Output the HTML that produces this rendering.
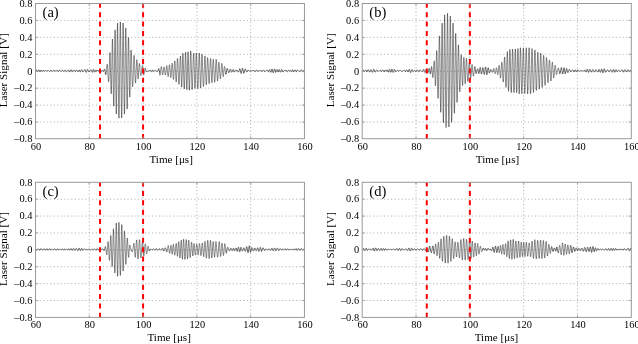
<!DOCTYPE html><html><head><meta charset="utf-8"><style>
html,body{margin:0;padding:0;background:#fff;}
svg{display:block;font-family:"Liberation Serif",serif;will-change:transform;}
.gr{stroke:#999;stroke-width:0.75;stroke-dasharray:1.1 2.411;fill:none;}
.gh{stroke-dashoffset:-0.71;}
.gv{stroke-dashoffset:-0.61;}
.wf{fill:none;stroke:#000;stroke-width:0.45;stroke-linejoin:round;}
.wl{stroke-width:0.6;}
.rd{stroke:#ff0000;stroke-width:2;stroke-dasharray:5 4.37;stroke-dashoffset:0.7;}
.ax{fill:none;stroke:#999;stroke-width:1;}
.tk{stroke:#999;stroke-width:0.8;}
.tl{font-size:10.4px;fill:#000;}
.al{font-size:11.1px;fill:#000;}
.pl{font-size:14.5px;fill:#000;}
</style></head><body><svg width="638" height="344" viewBox="0 0 638 344">
<rect width="638" height="344" fill="#fff"/>
<line x1="89.29" y1="3.5" x2="89.29" y2="139.0" class="gr gv"/>
<line x1="143.08" y1="3.5" x2="143.08" y2="139.0" class="gr gv"/>
<line x1="196.87" y1="3.5" x2="196.87" y2="139.0" class="gr gv"/>
<line x1="250.66" y1="3.5" x2="250.66" y2="139.0" class="gr gv"/>
<line x1="35.5" y1="122.06" x2="304.45" y2="122.06" class="gr gh"/>
<line x1="35.5" y1="105.12" x2="304.45" y2="105.12" class="gr gh"/>
<line x1="35.5" y1="88.19" x2="304.45" y2="88.19" class="gr gh"/>
<line x1="35.5" y1="71.25" x2="304.45" y2="71.25" class="gr gh"/>
<line x1="35.5" y1="54.31" x2="304.45" y2="54.31" class="gr gh"/>
<line x1="35.5" y1="37.37" x2="304.45" y2="37.37" class="gr gh"/>
<line x1="35.5" y1="20.44" x2="304.45" y2="20.44" class="gr gh"/>
<polyline class="wf wl" points="35.50,70.88 35.61,70.75 35.72,70.60 35.82,70.46 35.93,70.34 36.04,70.25 36.15,70.18 36.25,70.14 36.36,70.14 36.47,70.19 36.58,70.28 36.68,70.43 36.79,70.62 36.90,70.85 37.01,71.09 37.11,71.31 37.22,71.49 37.33,71.62 37.44,71.70 37.54,71.74 37.65,71.74 37.76,71.68 37.87,71.55 37.97,71.34 38.08,71.07 38.19,70.76 38.30,70.45 38.40,70.20 38.51,70.01 38.62,69.89 38.73,69.83 38.83,69.83 38.94,69.87 39.05,69.99 39.16,70.19 39.27,70.46 39.37,70.80 39.48,71.13 39.59,71.41 39.70,71.61 39.80,71.73 39.91,71.78 40.02,71.77 40.13,71.70 40.23,71.57 40.34,71.36 40.45,71.08 40.56,70.77 40.66,70.48 40.77,70.25 40.88,70.09 40.99,70.01 41.09,69.99 41.20,70.04 41.31,70.15 41.42,70.31 41.52,70.52 41.63,70.77 41.74,71.01 41.85,71.22 41.95,71.38 42.06,71.46 42.17,71.48 42.28,71.45 42.39,71.38 42.49,71.25 42.60,71.08 42.71,70.90 42.82,70.72 42.92,70.56 43.03,70.45 43.14,70.39 43.25,70.38 43.35,70.42 43.46,70.50 43.57,70.61 43.68,70.73 43.78,70.86 43.89,70.98 44.00,71.07 44.11,71.11 44.21,71.13 44.32,71.10 44.43,71.04 44.54,70.95 44.64,70.85 44.75,70.75 44.86,70.66 44.97,70.58 45.07,70.52 45.18,70.51 45.29,70.52 45.40,70.57 45.50,70.64 45.61,70.73 45.72,70.84 45.83,70.94 45.94,71.04 46.04,71.11 46.15,71.16 46.26,71.18 46.37,71.18 46.47,71.15 46.58,71.10 46.69,71.03 46.80,70.96 46.90,70.88 47.01,70.81 47.12,70.74 47.23,70.69 47.33,70.64 47.44,70.61 47.55,70.60 47.66,70.59 47.76,70.58 47.87,70.58 47.98,70.59 48.09,70.59 48.19,70.60 48.30,70.62 48.41,70.65 48.52,70.68 48.62,70.72 48.73,70.78 48.84,70.86 48.95,70.93 49.06,71.02 49.16,71.10 49.27,71.18 49.38,71.26 49.49,71.31 49.59,71.34 49.70,71.34 49.81,71.30 49.92,71.22 50.02,71.11 50.13,70.97 50.24,70.81 50.35,70.64 50.45,70.48 50.56,70.34 50.67,70.24 50.78,70.16 50.88,70.13 50.99,70.15 51.10,70.21 51.21,70.31 51.31,70.47 51.42,70.66 51.53,70.85 51.64,71.05 51.74,71.21 51.85,71.34 51.96,71.43 52.07,71.48 52.17,71.48 52.28,71.45 52.39,71.36 52.50,71.24 52.61,71.09 52.71,70.93 52.82,70.78 52.93,70.64 53.04,70.55 53.14,70.47 53.25,70.44 53.36,70.44 53.47,70.48 53.57,70.54 53.68,70.61 53.79,70.69 53.90,70.77 54.00,70.82 54.11,70.85 54.22,70.85 54.33,70.83 54.43,70.79 54.54,70.75 54.65,70.70 54.76,70.66 54.86,70.64 54.97,70.64 55.08,70.68 55.19,70.74 55.29,70.84 55.40,70.94 55.51,71.06 55.62,71.18 55.73,71.28 55.83,71.34 55.94,71.37 56.05,71.36 56.16,71.32 56.26,71.23 56.37,71.11 56.48,70.95 56.59,70.77 56.69,70.58 56.80,70.41 56.91,70.28 57.02,70.20 57.12,70.16 57.23,70.16 57.34,70.21 57.45,70.30 57.55,70.42 57.66,70.58 57.77,70.77 57.88,70.96 57.98,71.15 58.09,71.30 58.20,71.40 58.31,71.45 58.41,71.47 58.52,71.44 58.63,71.37 58.74,71.27 58.84,71.13 58.95,70.97 59.06,70.80 59.17,70.64 59.28,70.49 59.38,70.38 59.49,70.31 59.60,70.27 59.71,70.27 59.81,70.30 59.92,70.36 60.03,70.45 60.14,70.58 60.24,70.72 60.35,70.87 60.46,71.01 60.57,71.14 60.67,71.25 60.78,71.33 60.89,71.37 61.00,71.39 61.10,71.37 61.21,71.32 61.32,71.24 61.43,71.13 61.53,71.00 61.64,70.86 61.75,70.71 61.86,70.56 61.96,70.44 62.07,70.34 62.18,70.27 62.29,70.23 62.39,70.22 62.50,70.24 62.61,70.29 62.72,70.38 62.83,70.50 62.93,70.64 63.04,70.80 63.15,70.97 63.26,71.12 63.36,71.26 63.47,71.37 63.58,71.43 63.69,71.47 63.79,71.48 63.90,71.46 64.01,71.41 64.12,71.31 64.22,71.17 64.33,70.99 64.44,70.80 64.55,70.60 64.65,70.42 64.76,70.27 64.87,70.15 64.98,70.07 65.08,70.03 65.19,70.04 65.30,70.09 65.41,70.17 65.51,70.30 65.62,70.47 65.73,70.66 65.84,70.86 65.95,71.06 66.05,71.24 66.16,71.38 66.27,71.50 66.38,71.58 66.48,71.62 66.59,71.63 66.70,71.60 66.81,71.54 66.91,71.46 67.02,71.36 67.13,71.25 67.24,71.11 67.34,70.97 67.45,70.81 67.56,70.66 67.67,70.49 67.77,70.34 67.88,70.20 67.99,70.07 68.10,69.97 68.20,69.91 68.31,69.87 68.42,69.88 68.53,69.93 68.63,70.01 68.74,70.14 68.85,70.31 68.96,70.53 69.06,70.78 69.17,71.07 69.28,71.35 69.39,71.60 69.50,71.79 69.60,71.92 69.71,71.98 69.82,71.98 69.93,71.93 70.03,71.84 70.14,71.69 70.25,71.50 70.36,71.23 70.46,70.91 70.57,70.56 70.68,70.24 70.79,69.99 70.89,69.81 71.00,69.72 71.11,69.70 71.22,69.72 71.32,69.80 71.43,69.91 71.54,70.08 71.65,70.30 71.75,70.56 71.86,70.86 71.97,71.16 72.08,71.42 72.18,71.61 72.29,71.73 72.40,71.79 72.51,71.79 72.62,71.75 72.72,71.68 72.83,71.56 72.94,71.41 73.05,71.22 73.15,71.00 73.26,70.78 73.37,70.55 73.48,70.36 73.58,70.20 73.69,70.10 73.80,70.05 73.91,70.04 74.01,70.06 74.12,70.12 74.23,70.21 74.34,70.33 74.44,70.47 74.55,70.64 74.66,70.82 74.77,71.00 74.87,71.18 74.98,71.33 75.09,71.45 75.20,71.52 75.30,71.55 75.41,71.54 75.52,71.50 75.63,71.42 75.73,71.31 75.84,71.16 75.95,71.00 76.06,70.81 76.17,70.60 76.27,70.41 76.38,70.23 76.49,70.10 76.60,70.03 76.70,70.02 76.81,70.05 76.92,70.12 77.03,70.24 77.13,70.41 77.24,70.62 77.35,70.86 77.46,71.10 77.56,71.32 77.67,71.50 77.78,71.61 77.89,71.67 77.99,71.66 78.10,71.60 78.21,71.47 78.32,71.28 78.42,71.06 78.53,70.79 78.64,70.54 78.75,70.30 78.85,70.12 78.96,70.00 79.07,69.95 79.18,69.97 79.29,70.07 79.39,70.24 79.50,70.48 79.61,70.77 79.72,71.07 79.82,71.35 79.93,71.57 80.04,71.74 80.15,71.84 80.25,71.87 80.36,71.83 80.47,71.71 80.58,71.50 80.68,71.23 80.79,70.91 80.90,70.59 81.01,70.30 81.11,70.07 81.22,69.89 81.33,69.77 81.44,69.70 81.54,69.70 81.65,69.75 81.76,69.87 81.87,70.05 81.97,70.30 82.08,70.58 82.19,70.86 82.30,71.12 82.40,71.34 82.51,71.51 82.62,71.64 82.73,71.74 82.84,71.79 82.94,71.82 83.05,71.80 83.16,71.76 83.27,71.68 83.37,71.60 83.48,71.48 83.59,71.35 83.70,71.20 83.80,71.03 83.91,70.84 84.02,70.63 84.13,70.42 84.23,70.20 84.34,69.99 84.45,69.81 84.56,69.68 84.66,69.58 84.77,69.52 84.88,69.52 84.99,69.57 85.09,69.69 85.20,69.86 85.31,70.12 85.42,70.47 85.52,70.88 85.63,71.31 85.74,71.69 85.85,71.98 85.96,72.17 86.06,72.28 86.17,72.33 86.28,72.32 86.39,72.25 86.49,72.14 86.60,71.95 86.71,71.68 86.82,71.29 86.92,70.84 87.03,70.37 87.14,69.98 87.25,69.71 87.35,69.54 87.46,69.46 87.57,69.43 87.68,69.46 87.78,69.53 87.89,69.65 88.00,69.83 88.11,70.06 88.21,70.36 88.32,70.71 88.43,71.07 88.54,71.37 88.64,71.63 88.75,71.82 88.86,71.94 88.97,72.00 89.07,72.01 89.18,71.98 89.29,71.91 89.40,71.81 89.51,71.68 89.61,71.54 89.72,71.36 89.83,71.17 89.94,70.96 90.04,70.76 90.15,70.54 90.26,70.32 90.37,70.12 90.47,69.95 90.58,69.82 90.69,69.72 90.80,69.68 90.90,69.66 91.01,69.69 91.12,69.75 91.23,69.86 91.33,70.02 91.44,70.24 91.55,70.55 91.66,70.96 91.76,71.40 91.87,71.80 91.98,72.10 92.09,72.26 92.19,72.31 92.30,72.30 92.41,72.23 92.52,72.12 92.62,71.95 92.73,71.70 92.84,71.35 92.95,70.87 93.06,70.33 93.16,69.86 93.27,69.55 93.38,69.39 93.49,69.34 93.59,69.37 93.70,69.45 93.81,69.58 93.92,69.77 94.02,70.03 94.13,70.41 94.24,70.87 94.35,71.36 94.45,71.74 94.56,71.99 94.67,72.11 94.78,72.14 94.88,72.10 94.99,72.00 95.10,71.85 95.21,71.63 95.31,71.35 95.42,71.01 95.53,70.67 95.64,70.36 95.74,70.12 95.85,69.98 95.96,69.91 96.07,69.92 96.18,69.99 96.28,70.12 96.39,70.29 96.50,70.51 96.61,70.74 96.71,70.95 96.82,71.11 96.93,71.23 97.04,71.26 97.14,71.23 97.25,71.15 97.36,71.01 97.47,70.83 97.57,70.65 97.68,70.50 97.79,70.37 97.90,70.29 98.00,70.25 98.11,70.29 98.22,70.41 98.33,70.60 98.43,70.83 98.54,71.08 98.65,71.29 98.76,71.45 98.86,71.57 98.97,71.66 99.08,71.71 99.19,71.74 99.29,71.71 99.40,71.60 99.51,71.35 99.62,71.00 99.73,70.62 99.83,70.32 99.94,70.12 100.05,70.00 100.16,69.93 100.26,69.88 100.37,69.86 100.48,69.86 100.59,69.93 100.69,70.10 100.80,70.39 100.91,70.78 101.02,71.15 101.12,71.41 101.23,71.58 101.34,71.66 101.45,71.68 101.55,71.64 101.66,71.58 101.77,71.49 101.88,71.35 101.98,71.16 102.09,70.92 102.20,70.70 102.31,70.54 102.41,70.46 102.52,70.48 102.63,70.55 102.74,70.67 102.85,70.79 102.95,70.93 103.06,71.08 103.17,71.20 103.28,71.32 103.38,71.39 103.49,71.35 103.60,71.26 103.71,71.08 103.81,70.86 103.92,70.58 104.03,70.28 104.14,69.94 104.24,69.56 104.35,69.25 104.46,69.04 104.57,68.98 104.67,69.07 104.78,69.37 104.89,69.87 105.00,70.49 105.10,71.19 105.21,72.00 105.32,72.82 105.43,73.62"/>
<polyline class="wf wh" points="105.32,72.82 105.43,73.62 105.53,74.28 105.64,74.73 105.75,74.95 105.86,74.90 105.96,74.60 106.07,74.03 106.18,73.20 106.29,72.13 106.40,70.93 106.50,69.59 106.61,68.31 106.72,67.05 106.83,65.94 106.93,65.06 107.04,64.49 107.15,64.21 107.26,64.26 107.36,64.74 107.47,65.70 107.58,67.11 107.69,68.89 107.79,70.77 107.90,72.90 108.01,75.08 108.12,77.05 108.22,78.81 108.33,80.15 108.44,81.16 108.55,81.74 108.65,81.67 108.76,80.92 108.87,79.46 108.98,77.30 109.08,74.36 109.19,70.94 109.30,67.34 109.41,63.60 109.52,60.21 109.62,57.29 109.73,54.96 109.84,53.24 109.95,52.59 110.05,53.30 110.16,55.37 110.27,58.88 110.38,63.12 110.48,68.10 110.59,74.01 110.70,79.66 110.81,84.68 110.91,88.67 111.02,91.78 111.13,93.57 111.24,93.79 111.34,92.30 111.45,89.52 111.56,84.84 111.67,79.25 111.77,72.47 111.88,65.26 111.99,57.65 112.10,50.78 112.20,44.95 112.31,40.91 112.42,39.05 112.53,40.05 112.63,42.91 112.74,47.69 112.85,53.94 112.96,61.73 113.07,70.37 113.17,78.99 113.28,87.06 113.39,94.11 113.50,100.29 113.60,104.38 113.71,106.12 113.82,105.92 113.93,103.58 114.03,99.13 114.14,92.34 114.25,84.75 114.36,76.09 114.46,65.56 114.57,56.19 114.68,47.41 114.79,39.56 114.89,33.98 115.00,30.52 115.11,29.83 115.22,32.57 115.32,37.75 115.43,45.47 115.54,55.35 115.65,66.90 115.75,78.23 115.86,89.54 115.97,99.17 116.08,106.83 116.18,112.10 116.29,113.98 116.40,112.25 116.51,107.29 116.62,99.19 116.72,88.85 116.83,78.04 116.94,66.43 117.05,53.96 117.15,43.08 117.26,33.73 117.37,26.85 117.48,23.13 117.58,23.16 117.69,26.26 117.80,31.83 117.91,39.74 118.01,48.83 118.12,59.86 118.23,70.71 118.34,82.67 118.44,92.94 118.55,102.07 118.66,109.99 118.77,115.39 118.87,118.05 118.98,118.20 119.09,115.67 119.20,110.65 119.30,103.21 119.41,93.89 119.52,83.11 119.63,71.72 119.74,60.24 119.84,49.44 119.95,39.16 120.06,31.45 120.17,25.26 120.27,21.98 120.38,22.03 120.49,25.20 120.60,31.55 120.70,40.13 120.81,50.53 120.92,63.18 121.03,74.84 121.13,86.36 121.24,96.13 121.35,104.19 121.46,111.27 121.56,115.96 121.67,117.96 121.78,117.14 121.89,114.06 121.99,108.28 122.10,100.06 122.21,90.03 122.32,79.84 122.42,69.07 122.53,58.24 122.64,48.00 122.75,39.28 122.85,31.81 122.96,26.02 123.07,23.24 123.18,22.90 123.29,25.98 123.39,31.86 123.50,40.54 123.61,50.59 123.72,61.98 123.82,73.46 123.93,84.52 124.04,95.05 124.15,103.67 124.25,109.91 124.36,113.51 124.47,114.13 124.58,111.94 124.68,107.01 124.79,99.45 124.90,91.31 125.01,81.33 125.11,70.29 125.22,59.65 125.33,49.44 125.44,40.44 125.54,33.58 125.65,29.53 125.76,27.86 125.87,28.90 125.97,32.58 126.08,38.46 126.19,46.55 126.30,55.59 126.41,64.88 126.51,75.22 126.62,84.19 126.73,92.73 126.84,99.77 126.94,105.18 127.05,108.36 127.16,109.10 127.27,107.67 127.37,104.10 127.48,98.77 127.59,91.51 127.70,83.29 127.80,74.13 127.91,64.52 128.02,56.69 128.13,49.72 128.23,43.85 128.34,39.77 128.45,37.71 128.56,37.57 128.66,39.94 128.77,44.34 128.88,50.15 128.99,56.72 129.09,64.97 129.20,73.03 129.31,80.53 129.42,86.82 129.52,92.01 129.63,95.51 129.74,97.10 129.85,97.06 129.96,95.03 130.06,91.47 130.17,86.77 130.28,81.24 130.39,74.52 130.49,68.22 130.60,62.72 130.71,57.54 130.82,53.59 130.92,51.03 131.03,50.00 131.14,50.38 131.25,51.79 131.35,54.09 131.46,57.01 131.57,60.52 131.68,64.57 131.78,68.50 131.89,72.65 132.00,76.52 132.11,80.12 132.21,83.01 132.32,85.12 132.43,86.43 132.54,86.93 132.64,86.69 132.75,85.85 132.86,84.34 132.97,82.17 133.08,79.67 133.18,76.60 133.29,73.02 133.40,69.31 133.51,65.63 133.61,62.46 133.72,59.72 133.83,57.63 133.94,56.18 134.04,55.43 134.15,55.64 134.26,56.85 134.37,58.64 134.47,61.24 134.58,64.25 134.69,67.44 134.80,70.81 134.90,74.13 135.01,77.04 135.12,79.38 135.23,81.44 135.33,82.56 135.44,83.12 135.55,82.91 135.66,82.03 135.76,80.46 135.87,78.45 135.98,75.99 136.09,73.33 136.19,70.27 136.30,67.64 136.41,65.03 136.52,62.84 136.63,61.27 136.73,60.05 136.84,59.59 136.95,59.87 137.06,61.01 137.16,62.74 137.27,64.95 137.38,67.54 137.49,70.15 137.59,72.76 137.70,75.17 137.81,76.93 137.92,78.15 138.02,78.84 138.13,78.91 138.24,78.35 138.35,77.56 138.45,76.38 138.56,74.65 138.67,72.65 138.78,70.46 138.88,68.51 138.99,66.63 139.10,65.06 139.21,64.05 139.31,63.43 139.42,63.46 139.53,64.07 139.64,65.02 139.75,66.22 139.85,67.55 139.96,68.87 140.07,70.21 140.18,71.52 140.28,72.65 140.39,73.69 140.50,74.42 140.61,74.91 140.71,75.25 140.82,75.55 140.93,75.62 141.04,75.41 141.14,75.03 141.25,74.38 141.36,73.58 141.47,72.64 141.57,71.49 141.68,70.32 141.79,69.26 141.90,68.12 142.00,67.19 142.11,66.37 142.22,65.82 142.33,65.46 142.43,65.40 142.54,65.76 142.65,66.36 142.76,67.14 142.86,68.15 142.97,69.30 143.08,70.48 143.19,71.61 143.30,72.60 143.40,73.50 143.51,74.18 143.62,74.62 143.73,74.83 143.83,74.80 143.94,74.55 144.05,74.14 144.16,73.60 144.26,72.92 144.37,72.13 144.48,71.34 144.59,70.50 144.69,69.77 144.80,69.15 144.91,68.64 145.02,68.29 145.12,68.08 145.23,68.03 145.34,68.10 145.45,68.33 145.55,68.69"/>
<polyline class="wf wl" points="145.45,68.33 145.55,68.69 145.66,69.19 145.77,69.70 145.88,70.25 145.98,70.71 146.09,71.08 146.20,71.35 146.31,71.53 146.41,71.62 146.52,71.64 146.63,71.62 146.74,71.59 146.85,71.56 146.95,71.51 147.06,71.44 147.17,71.41 147.28,71.39 147.38,71.40 147.49,71.35 147.60,71.29 147.71,71.23 147.81,71.17 147.92,71.11 148.03,71.08 148.14,71.05 148.24,71.05 148.35,71.06 148.46,71.07 148.57,71.09 148.67,71.10 148.78,71.10 148.89,71.07 149.00,71.02 149.10,70.94 149.21,70.83 149.32,70.70 149.43,70.55 149.53,70.40 149.64,70.24 149.75,70.11 149.86,70.01 149.97,69.94 150.07,69.94 150.18,70.00 150.29,70.11 150.40,70.29 150.50,70.52 150.61,70.76 150.72,71.00 150.83,71.22 150.93,71.40 151.04,71.57 151.15,71.68 151.26,71.75 151.36,71.75 151.47,71.67 151.58,71.53 151.69,71.33 151.79,71.07 151.90,70.83 152.01,70.61 152.12,70.43 152.22,70.28 152.33,70.16 152.44,70.08 152.55,70.06 152.65,70.09 152.76,70.20 152.87,70.38 152.98,70.59 153.08,70.79 153.19,70.99 153.30,71.15 153.41,71.28 153.52,71.38 153.62,71.45 153.73,71.49 153.84,71.49 153.95,71.43 154.05,71.32 154.16,71.16 154.27,71.00 154.38,70.84 154.48,70.70 154.59,70.57 154.70,70.48 154.81,70.40 154.91,70.34 155.02,70.29 155.13,70.29 155.24,70.30 155.34,70.34 155.45,70.40 155.56,70.47 155.67,70.54 155.77,70.61 155.88,70.68 155.99,70.76 156.10,70.82 156.20,70.90 156.31,70.98 156.42,71.07 156.53,71.16 156.64,71.26 156.74,71.36 156.85,71.45 156.96,71.54 157.07,71.60 157.17,71.63 157.28,71.63 157.39,71.58 157.50,71.48 157.60,71.33 157.71,71.12 157.82,70.88 157.93,70.62 158.03,70.36 158.14,70.12 158.25,69.76 158.36,69.39 158.46,69.04 158.57,68.76 158.68,68.60 158.79,68.58 158.89,68.76 159.00,69.15 159.11,69.77 159.22,70.53 159.32,71.43 159.43,72.38"/>
<polyline class="wf wh" points="159.32,71.43 159.43,72.38 159.54,73.32 159.65,74.19 159.75,74.91 159.86,75.23 159.97,75.27 160.08,75.05 160.19,74.58 160.29,73.84 160.40,72.94 160.51,71.85 160.62,70.86 160.72,69.77 160.83,68.80 160.94,67.95 161.05,67.27 161.15,66.81 161.26,66.62 161.37,66.69 161.48,66.98 161.58,67.53 161.69,68.27 161.80,69.13 161.91,70.19 162.01,71.23 162.12,72.27 162.23,73.15 162.34,73.90 162.44,74.46 162.55,74.78 162.66,74.86 162.77,74.70 162.87,74.30 162.98,73.70 163.09,72.90 163.20,71.98 163.31,70.98 163.41,69.96 163.52,68.98 163.63,68.21 163.74,67.59 163.84,67.19 163.95,67.00 164.06,67.02 164.17,67.27 164.27,67.74 164.38,68.36 164.49,69.15 164.60,70.06 164.70,71.02 164.81,72.00 164.92,72.94 165.03,73.78 165.13,74.47 165.24,74.95 165.35,75.16 165.46,75.10 165.56,74.80 165.67,74.24 165.78,73.45 165.89,72.40 165.99,71.34 166.10,70.19 166.21,69.03 166.32,67.89 166.42,66.95 166.53,66.25 166.64,65.79 166.75,65.59 166.86,65.68 166.96,66.14 167.07,66.92 167.18,67.88 167.29,69.07 167.39,70.41 167.50,71.72 167.61,73.02 167.72,74.25 167.82,75.32 167.93,76.13 168.04,76.60 168.15,76.74 168.25,76.48 168.36,75.88 168.47,74.98 168.58,73.74 168.68,72.27 168.79,70.80 168.90,69.30 169.01,67.96 169.11,66.72 169.22,65.69 169.33,65.01 169.44,64.69 169.54,64.76 169.65,65.20 169.76,66.03 169.87,67.18 169.97,68.43 170.08,69.95 170.19,71.38 170.30,73.01 170.41,74.49 170.51,75.76 170.62,76.81 170.73,77.43 170.84,77.62 170.94,77.36 171.05,76.62 171.16,75.57 171.27,74.19 171.37,72.56 171.48,70.59 171.59,68.82 171.70,67.10 171.80,65.53 171.91,64.33 172.02,63.58 172.13,63.25 172.23,63.45 172.34,64.17 172.45,65.33 172.56,66.90 172.66,68.64 172.77,70.70 172.88,72.64 172.99,74.57 173.09,76.40 173.20,77.82 173.31,78.86 173.42,79.40 173.53,79.40 173.63,78.81 173.74,77.79 173.85,76.28 173.96,74.18 174.06,72.14 174.17,69.86 174.28,67.45 174.39,65.42 174.49,63.59 174.60,62.15 174.71,61.15 174.82,60.82 174.92,61.12 175.03,62.02 175.14,63.50 175.25,65.39 175.35,67.59 175.46,70.13 175.57,72.65 175.68,75.23 175.78,77.60 175.89,79.60 176.00,81.10 176.11,81.89 176.21,81.95 176.32,81.36 176.43,79.96 176.54,78.03 176.64,75.66 176.75,72.78 176.86,69.93 176.97,66.91 177.08,64.24 177.18,61.80 177.29,60.03 177.40,58.88 177.51,58.52 177.61,58.94 177.72,59.94 177.83,61.52 177.94,63.49 178.04,65.80 178.15,68.52 178.26,71.47 178.37,74.58 178.47,77.32 178.58,80.00 178.69,82.02 178.80,83.51 178.90,84.27 179.01,84.37 179.12,83.71 179.23,82.42 179.33,80.38 179.44,77.93 179.55,74.97 179.66,71.84 179.76,68.64 179.87,65.49 179.98,62.47 180.09,60.07 180.20,58.13 180.30,56.68 180.41,56.03 180.52,56.17 180.63,57.33 180.73,59.58 180.84,62.90 180.95,66.81 181.06,71.11 181.16,75.36 181.27,79.40 181.38,82.62 181.49,85.10 181.59,86.70 181.70,87.08 181.81,86.17 181.92,83.99 182.02,80.95 182.13,77.29 182.24,73.19 182.35,68.42 182.45,63.83 182.56,59.53 182.67,56.21 182.78,53.97 182.88,53.16 182.99,53.66 183.10,55.22 183.21,57.67 183.31,60.99 183.42,64.88 183.53,69.20 183.64,73.91 183.75,78.12 183.85,81.81 183.96,84.97 184.07,87.32 184.18,88.68 184.28,88.98 184.39,88.18 184.50,86.17 184.61,83.14 184.71,79.55 184.82,75.11 184.93,70.28 185.04,65.72 185.14,61.59 185.25,57.81 185.36,54.91 185.47,52.95 185.57,52.15 185.68,52.68 185.79,54.60 185.90,57.86 186.00,61.97 186.11,66.90 186.22,71.68 186.33,76.60 186.43,80.94 186.54,85.07 186.65,87.84 186.76,89.43 186.87,89.70 186.97,88.52 187.08,85.98 187.19,82.08 187.30,77.33 187.40,72.08 187.51,66.65 187.62,61.99 187.73,57.47 187.83,54.08 187.94,52.08 188.05,51.65 188.16,52.33 188.26,54.11 188.37,57.23 188.48,61.16 188.59,65.97 188.69,70.89 188.80,75.62 188.91,79.96 189.02,83.89 189.12,87.26 189.23,89.35 189.34,90.34 189.45,90.21 189.55,88.75 189.66,85.88 189.77,82.04 189.88,77.46 189.98,72.95 190.09,68.04 190.20,63.28 190.31,58.90 190.42,55.40 190.52,52.65 190.63,51.10 190.74,50.93 190.85,51.87 190.95,53.81 191.06,56.67 191.17,60.33 191.28,64.24 191.38,68.89 191.49,73.34 191.60,77.58 191.71,81.58 191.81,84.77 191.92,87.40 192.03,89.14 192.14,89.72 192.24,89.28 192.35,87.93 192.46,85.50 192.57,82.29 192.67,78.90 192.78,74.73 192.89,70.67 193.00,66.76 193.10,62.89 193.21,59.56 193.32,56.60 193.43,54.67 193.54,53.50 193.64,53.14 193.75,53.65 193.86,55.30 193.97,57.77 194.07,61.04 194.18,64.75 194.29,69.04 194.40,73.29 194.50,77.93 194.61,82.01 194.72,84.99 194.83,87.22 194.93,88.42 195.04,88.50 195.15,87.50 195.26,85.39 195.36,82.43 195.47,78.77 195.58,74.58 195.69,69.93 195.79,65.58 195.90,61.45 196.01,57.93 196.12,55.20 196.22,53.54 196.33,52.95 196.44,53.35 196.55,54.68 196.65,56.85 196.76,59.69 196.87,63.17 196.98,67.43 197.09,71.63 197.19,75.32 197.30,79.33 197.41,82.69 197.52,85.30 197.62,87.40 197.73,88.49 197.84,88.66 197.95,87.90 198.05,86.15 198.16,83.70 198.27,80.42 198.38,76.62 198.48,72.86 198.59,68.73 198.70,64.70 198.81,61.07 198.91,58.16 199.02,55.61 199.13,53.90 199.24,53.02 199.34,53.15 199.45,54.44 199.56,56.74 199.67,60.25 199.77,63.97 199.88,68.40 199.99,72.71 200.10,76.80 200.20,80.81 200.31,84.08 200.42,86.50 200.53,87.76 200.64,88.09 200.74,87.36 200.85,85.67 200.96,82.87 201.07,79.20 201.17,75.25 201.28,71.04 201.39,66.84 201.50,62.96 201.60,59.55 201.71,56.86 201.82,55.01 201.93,54.19 202.03,54.37 202.14,55.39 202.25,57.15 202.36,59.62 202.46,62.73 202.57,66.47 202.68,69.84 202.79,73.28 202.89,76.79 203.00,79.98 203.11,82.66 203.22,84.87 203.32,86.06 203.43,86.59 203.54,86.35 203.65,85.35 203.76,83.56 203.86,81.34 203.97,78.32 204.08,75.18 204.19,71.88 204.29,68.64 204.40,65.39 204.51,62.44 204.62,59.75 204.72,57.88 204.83,56.52 204.94,55.91 205.05,56.18 205.15,57.41 205.26,59.37 205.37,62.14 205.48,65.34 205.58,69.20 205.69,72.79 205.80,76.24 205.91,79.40 206.01,81.89 206.12,83.71 206.23,84.74 206.34,84.85 206.44,84.09 206.55,82.49 206.66,80.20 206.77,77.24 206.87,73.87 206.98,70.39 207.09,66.99 207.20,63.69 207.31,61.19 207.41,59.11 207.52,57.92 207.63,57.58 207.74,57.92 207.84,58.86 207.95,60.43 208.06,62.35 208.17,64.94 208.27,67.66 208.38,70.83 208.49,73.68 208.60,76.47 208.70,78.80 208.81,80.86 208.92,82.40 209.03,83.35 209.13,83.61 209.24,83.09 209.35,81.89 209.46,80.17 209.56,77.97 209.67,75.42 209.78,72.73 209.89,69.77 209.99,66.98 210.10,64.34 210.21,62.13 210.32,60.33 210.43,59.04 210.53,58.47 210.64,58.60 210.75,59.46 210.86,61.04 210.96,63.22 211.07,65.94 211.18,68.94 211.29,71.91 211.39,74.91 211.50,77.61 211.61,79.73 211.72,81.44 211.82,82.52 211.93,82.80 212.04,82.31 212.15,81.06 212.25,79.16 212.36,76.70 212.47,74.02 212.58,71.00 212.68,68.23 212.79,65.61 212.90,63.15 213.01,61.32 213.11,59.92 213.22,59.33 213.33,59.46 213.44,60.23 213.54,61.51 213.65,63.29 213.76,65.52 213.87,67.99 213.98,70.77 214.08,73.50 214.19,75.99 214.30,78.29 214.41,80.07 214.51,81.41 214.62,82.14 214.73,82.28 214.84,81.87 214.94,80.91 215.05,79.40 215.16,77.41 215.27,75.34 215.37,72.87 215.48,70.19 215.59,67.62 215.70,65.29 215.80,63.22 215.91,61.34 216.02,60.17 216.13,59.46 216.23,59.35 216.34,59.96 216.45,61.29 216.56,63.04 216.66,65.42 216.77,68.28 216.88,70.86 216.99,73.51 217.10,76.00 217.20,78.05 217.31,79.66 217.42,80.61 217.53,80.95 217.63,80.67 217.74,79.81 217.85,78.38 217.96,76.48 218.06,74.35 218.17,72.15 218.28,69.87 218.39,67.67 218.49,65.68 218.60,64.00 218.71,62.86 218.82,62.27 218.92,62.23 219.03,62.59 219.14,63.35 219.25,64.53 219.35,65.99 219.46,67.69 219.57,69.48 219.68,71.37 219.78,73.25 219.89,75.06 220.00,76.47 220.11,77.69 220.21,78.50 220.32,78.89 220.43,78.88 220.54,78.45 220.65,77.62 220.75,76.55 220.86,75.15 220.97,73.56 221.08,71.79 221.18,70.03 221.29,68.27 221.40,66.74 221.51,65.41 221.61,64.32 221.72,63.64 221.83,63.34 221.94,63.48 222.04,64.08 222.15,65.03 222.26,66.35 222.37,67.87 222.47,69.46 222.58,71.21 222.69,72.86 222.80,74.28 222.90,75.39 223.01,76.20 223.12,76.63 223.23,76.70 223.33,76.40 223.44,75.75 223.55,74.82 223.66,73.71 223.76,72.42 223.87,71.12 223.98,69.76 224.09,68.57 224.20,67.63 224.30,66.94 224.41,66.53 224.52,66.41 224.63,66.54 224.73,66.87 224.84,67.43 224.95,68.18 225.06,69.04 225.16,70.00 225.27,71.02 225.38,71.91 225.49,72.75 225.59,73.40 225.70,73.88"/>
<polyline class="wf wl" points="225.59,73.40 225.70,73.88 225.81,74.22 225.92,74.32 226.02,74.24 226.13,73.97 226.24,73.52 226.35,72.93 226.45,72.24 226.56,71.47 226.67,70.74 226.78,70.06 226.88,69.48 226.99,69.00 227.10,68.62 227.21,68.42 227.32,68.30 227.42,68.36 227.53,68.55 227.64,68.83 227.75,69.19 227.85,69.64 227.96,70.10 228.07,70.58 228.18,71.06 228.28,71.52 228.39,71.95 228.50,72.30 228.61,72.59 228.71,72.76 228.82,72.85 228.93,72.82 229.04,72.70 229.14,72.50 229.25,72.23 229.36,71.89 229.47,71.51 229.57,71.13 229.68,70.73 229.79,70.37 229.90,69.98 230.00,69.65 230.11,69.40 230.22,69.23 230.33,69.15 230.43,69.17 230.54,69.27 230.65,69.43 230.76,69.67 230.87,69.96 230.97,70.29 231.08,70.68 231.19,71.04 231.30,71.40 231.40,71.68 231.51,71.94 231.62,72.13 231.73,72.22 231.83,72.25 231.94,72.20 232.05,72.07 232.16,71.86 232.26,71.60 232.37,71.28 232.48,70.91 232.59,70.57 232.69,70.24 232.80,69.95 232.91,69.70 233.02,69.56 233.12,69.50 233.23,69.52 233.34,69.64 233.45,69.81 233.55,70.03 233.66,70.29 233.77,70.61 233.88,70.94 233.99,71.26 234.09,71.58 234.20,71.84 234.31,72.04 234.42,72.11 234.52,72.06 234.63,71.93 234.74,71.74 234.85,71.59 234.95,71.43 235.06,71.27 235.17,71.09 235.28,70.87 235.38,70.62 235.49,70.33 235.60,70.14 235.71,70.05 235.81,70.11 235.92,70.25 236.03,70.39 236.14,70.41 236.24,70.38 236.35,70.33 236.46,70.33 236.57,70.40 236.67,70.53 236.78,70.67 236.89,70.76 237.00,70.73 237.10,70.63 237.21,70.51 237.32,70.51 237.43,70.66 237.54,70.87 237.64,71.08 237.75,71.24 237.86,71.34 237.97,71.40 238.07,71.46 238.18,71.60 238.29,71.85 238.40,72.11 238.50,72.20 238.61,72.06 238.72,71.79 238.83,71.48 238.93,71.15 239.04,70.85 239.15,70.57 239.26,70.28 239.36,69.93 239.47,69.48 239.58,68.99 239.69,68.64 239.79,68.58 239.90,68.73 240.01,69.04 240.12,69.43 240.22,69.82 240.33,70.23 240.44,70.66 240.55,71.15 240.66,71.70 240.76,72.33 240.87,72.93 240.98,73.34 241.09,73.50 241.19,73.46 241.30,73.26 241.41,72.92 241.52,72.54 241.62,72.05 241.73,71.54 241.84,70.96 241.95,70.32 242.05,69.65 242.16,69.00 242.27,68.51 242.38,68.23 242.48,68.15 242.59,68.23 242.70,68.44 242.81,68.78 242.91,69.20 243.02,69.72 243.13,70.28 243.24,70.88 243.34,71.50 243.45,72.09 243.56,72.62 243.67,73.02 243.77,73.26 243.88,73.35 243.99,73.28 244.10,73.10 244.21,72.81 244.31,72.44 244.42,71.99 244.53,71.45 244.64,70.89 244.74,70.36 244.85,69.86 244.96,69.43 245.07,69.13 245.17,68.95 245.28,68.90 245.39,68.95 245.50,69.08 245.60,69.29 245.71,69.57 245.82,69.89 245.93,70.26 246.03,70.62 246.14,70.99 246.25,71.32 246.36,71.58 246.46,71.77 246.57,71.89 246.68,71.93 246.79,71.90 246.89,71.80 247.00,71.67 247.11,71.49 247.22,71.31 247.33,71.12 247.43,70.91 247.54,70.71 247.65,70.53 247.76,70.39 247.86,70.28 247.97,70.23 248.08,70.22 248.19,70.25 248.29,70.33 248.40,70.44 248.51,70.58 248.62,70.73 248.72,70.86 248.83,70.98 248.94,71.06 249.05,71.11 249.15,71.13 249.26,71.11 249.37,71.06 249.48,70.98 249.58,70.89 249.69,70.80 249.80,70.71 249.91,70.64 250.01,70.58 250.12,70.57 250.23,70.57 250.34,70.61 250.44,70.68 250.55,70.78 250.66,70.91 250.77,71.02 250.88,71.11 250.98,71.18 251.09,71.22 251.20,71.24 251.31,71.24 251.41,71.20 251.52,71.14 251.63,71.04 251.74,70.93 251.84,70.81 251.95,70.69 252.06,70.60 252.17,70.54 252.27,70.51 252.38,70.50 252.49,70.51 252.60,70.55 252.70,70.58 252.81,70.62 252.92,70.66 253.03,70.68 253.13,70.69 253.24,70.68 253.35,70.65 253.46,70.62 253.56,70.58 253.67,70.54 253.78,70.52 253.89,70.52 253.99,70.55 254.10,70.62 254.21,70.72 254.32,70.85 254.43,71.00 254.53,71.15 254.64,71.30 254.75,71.44 254.86,71.54 254.96,71.60 255.07,71.65 255.18,71.64 255.29,71.57 255.39,71.45 255.50,71.27 255.61,71.05 255.72,70.81 255.82,70.60 255.93,70.42 256.04,70.28 256.15,70.17 256.25,70.09 256.36,70.03 256.47,70.00 256.58,70.01 256.68,70.08 256.79,70.19 256.90,70.36 257.01,70.57 257.11,70.78 257.22,70.96 257.33,71.11 257.44,71.23 257.55,71.33 257.65,71.40 257.76,71.45 257.87,71.49 257.98,71.48 258.08,71.43 258.19,71.33 258.30,71.19 258.41,71.03 258.51,70.87 258.62,70.74 258.73,70.62 258.84,70.53 258.94,70.48 259.05,70.44 259.16,70.42 259.27,70.44 259.37,70.49 259.48,70.57 259.59,70.66 259.70,70.76 259.80,70.84 259.91,70.91 260.02,70.95 260.13,70.97 260.23,70.96 260.34,70.92 260.45,70.87 260.56,70.80 260.66,70.72 260.77,70.65 260.88,70.59 260.99,70.56 261.10,70.56 261.20,70.58 261.31,70.63 261.42,70.71 261.53,70.81 261.63,70.94 261.74,71.08 261.85,71.21 261.96,71.33 262.06,71.41 262.17,71.44 262.28,71.44 262.39,71.40 262.49,71.32 262.60,71.21 262.71,71.06 262.82,70.88 262.92,70.68 263.03,70.47 263.14,70.27 263.25,70.12 263.35,70.03 263.46,69.98 263.57,69.98 263.68,70.02 263.78,70.11 263.89,70.22 264.00,70.38 264.11,70.57 264.22,70.78 264.32,71.00 264.43,71.20 264.54,71.37 264.65,71.50 264.75,71.58 264.86,71.62 264.97,71.62 265.08,71.57 265.18,71.49 265.29,71.41 265.40,71.30 265.51,71.19 265.61,71.07 265.72,70.94 265.83,70.83 265.94,70.72 266.04,70.63 266.15,70.54 266.26,70.47 266.37,70.40 266.47,70.35 266.58,70.29 266.69,70.25 266.80,70.22 266.90,70.21 267.01,70.21 267.12,70.23 267.23,70.27 267.33,70.32 267.44,70.42 267.55,70.56 267.66,70.72 267.77,70.93 267.87,71.15 267.98,71.36 268.09,71.54 268.20,71.67 268.30,71.74 268.41,71.77 268.52,71.75 268.63,71.68 268.73,71.56 268.84,71.36 268.95,71.09 269.06,70.76 269.16,70.39 269.27,70.07 269.38,69.83 269.49,69.69 269.59,69.65 269.70,69.68 269.81,69.78 269.92,69.95 270.02,70.20 270.13,70.57 270.24,71.02 270.35,71.49 270.45,71.87 270.56,72.12 270.67,72.26 270.78,72.30 270.89,72.27 270.99,72.15 271.10,71.94 271.21,71.60 271.32,71.08 271.42,70.45 271.53,69.87 271.64,69.47 271.75,69.24 271.85,69.12 271.96,69.08 272.07,69.10 272.18,69.17 272.28,69.32 272.39,69.61 272.50,70.13 272.61,70.88 272.71,71.62 272.82,72.12 272.93,72.40 273.04,72.54 273.14,72.61 273.25,72.64 273.36,72.63 273.47,72.58 273.57,72.44 273.68,72.13 273.79,71.55 273.90,70.74 274.00,70.01 274.11,69.55 274.22,69.30 274.33,69.17 274.44,69.10 274.54,69.06 274.65,69.06 274.76,69.11 274.87,69.26 274.97,69.59 275.08,70.16 275.19,70.89 275.30,71.52 275.40,71.94 275.51,72.17 275.62,72.31 275.73,72.38 275.83,72.42 275.94,72.39 276.05,72.28 276.16,72.05 276.26,71.64 276.37,71.08 276.48,70.54 276.59,70.11 276.69,69.83 276.80,69.65 276.91,69.56 277.02,69.53 277.12,69.57 277.23,69.71 277.34,69.98 277.45,70.40 277.55,70.88 277.66,71.32 277.77,71.63 277.88,71.83 277.99,71.93 278.09,71.97 278.20,71.96 278.31,71.87 278.42,71.68 278.52,71.35 278.63,70.88 278.74,70.40 278.85,70.02 278.95,69.78 279.06,69.66 279.17,69.62 279.28,69.61 279.38,69.63 279.49,69.70 279.60,69.84 279.71,70.12 279.81,70.58 279.92,71.15 280.03,71.63 280.14,71.93 280.24,72.06 280.35,72.10 280.46,72.10 280.57,72.08 280.67,72.04 280.78,71.97 280.89,71.84 281.00,71.61 281.11,71.20 281.21,70.65 281.32,70.14 281.43,69.81 281.54,69.64 281.64,69.59 281.75,69.58 281.86,69.59 281.97,69.63 282.07,69.69 282.18,69.78 282.29,69.95 282.40,70.23 282.50,70.61 282.61,71.06 282.72,71.44 282.83,71.72 282.93,71.87 283.04,71.95 283.15,71.96 283.26,71.93 283.36,71.86 283.47,71.76 283.58,71.63 283.69,71.45 283.79,71.24 283.90,71.02 284.01,70.80 284.12,70.63 284.22,70.52 284.33,70.45 284.44,70.45 284.55,70.47 284.66,70.52 284.76,70.58 284.87,70.65 284.98,70.69 285.09,70.71 285.19,70.70 285.30,70.67 285.41,70.60 285.52,70.51 285.62,70.41 285.73,70.31 285.84,70.23 285.95,70.17 286.05,70.15 286.16,70.18 286.27,70.26 286.38,70.39 286.48,70.57 286.59,70.78 286.70,71.02 286.81,71.24 286.91,71.43 287.02,71.56 287.13,71.66 287.24,71.71 287.34,71.72 287.45,71.68 287.56,71.58 287.67,71.41 287.78,71.20 287.88,70.98 287.99,70.75 288.10,70.54 288.21,70.40 288.31,70.30 288.42,70.24 288.53,70.24 288.64,70.29 288.74,70.37 288.85,70.49 288.96,70.63 289.07,70.76 289.17,70.88 289.28,70.95 289.39,70.98 289.50,70.97 289.60,70.92 289.71,70.82 289.82,70.71 289.93,70.59 290.03,70.47 290.14,70.39 290.25,70.35 290.36,70.37 290.46,70.44 290.57,70.57 290.68,70.75 290.79,70.97 290.89,71.20 291.00,71.42 291.11,71.60 291.22,71.72 291.33,71.78 291.43,71.78 291.54,71.71 291.65,71.59 291.76,71.39 291.86,71.13 291.97,70.81 292.08,70.49 292.19,70.20 292.29,69.97 292.40,69.82 292.51,69.74 292.62,69.72 292.72,69.76 292.83,69.85 292.94,70.02 293.05,70.26 293.15,70.57 293.26,70.91 293.37,71.23 293.48,71.50 293.58,71.68 293.69,71.79 293.80,71.85 293.91,71.86 294.01,71.82 294.12,71.71 294.23,71.53 294.34,71.27 294.45,70.95 294.55,70.63 294.66,70.35 294.77,70.13 294.88,69.98 294.98,69.88 295.09,69.85 295.20,69.86 295.31,69.94 295.41,70.09 295.52,70.32 295.63,70.60 295.74,70.91 295.84,71.19 295.95,71.41 296.06,71.57 296.17,71.68 296.27,71.74 296.38,71.74 296.49,71.70 296.60,71.60 296.70,71.44 296.81,71.22 296.92,70.97 297.03,70.73 297.13,70.51 297.24,70.33 297.35,70.20 297.46,70.11 297.56,70.07 297.67,70.07 297.78,70.11 297.89,70.17 298.00,70.27 298.10,70.39 298.21,70.52 298.32,70.64 298.43,70.76 298.53,70.85 298.64,70.93 298.75,70.98 298.86,71.03 298.96,71.06 299.07,71.10 299.18,71.13 299.29,71.18 299.39,71.22 299.50,71.28 299.61,71.34 299.72,71.39 299.82,71.44 299.93,71.47 300.04,71.49 300.15,71.46 300.25,71.40 300.36,71.29 300.47,71.15 300.58,70.96 300.68,70.75 300.79,70.53 300.90,70.31 301.01,70.12 301.12,69.96 301.22,69.84 301.33,69.77 301.44,69.75 301.55,69.76 301.65,69.83 301.76,69.95 301.87,70.14 301.98,70.39 302.08,70.68 302.19,70.99 302.30,71.27 302.41,71.49 302.51,71.65 302.62,71.76 302.73,71.82 302.84,71.84 302.94,71.82 303.05,71.75 303.16,71.65 303.27,71.49 303.37,71.28 303.48,71.04 303.59,70.79 303.70,70.57 303.80,70.38 303.91,70.24 304.02,70.16 304.13,70.11 304.23,70.10 304.34,70.12 304.45,70.17"/>
<line x1="100.05" y1="3.5" x2="100.05" y2="139.0" class="rd"/>
<line x1="143.08" y1="3.5" x2="143.08" y2="139.0" class="rd"/>
<rect x="35.5" y="3.5" width="268.95" height="135.20" class="ax"/>
<line x1="89.29" y1="139.0" x2="89.29" y2="136.3" class="tk"/>
<line x1="89.29" y1="3.5" x2="89.29" y2="6.2" class="tk"/>
<line x1="143.08" y1="139.0" x2="143.08" y2="136.3" class="tk"/>
<line x1="143.08" y1="3.5" x2="143.08" y2="6.2" class="tk"/>
<line x1="196.87" y1="139.0" x2="196.87" y2="136.3" class="tk"/>
<line x1="196.87" y1="3.5" x2="196.87" y2="6.2" class="tk"/>
<line x1="250.66" y1="139.0" x2="250.66" y2="136.3" class="tk"/>
<line x1="250.66" y1="3.5" x2="250.66" y2="6.2" class="tk"/>
<line x1="35.5" y1="122.06" x2="38.2" y2="122.06" class="tk"/>
<line x1="304.45" y1="122.06" x2="301.75" y2="122.06" class="tk"/>
<line x1="35.5" y1="105.12" x2="38.2" y2="105.12" class="tk"/>
<line x1="304.45" y1="105.12" x2="301.75" y2="105.12" class="tk"/>
<line x1="35.5" y1="88.19" x2="38.2" y2="88.19" class="tk"/>
<line x1="304.45" y1="88.19" x2="301.75" y2="88.19" class="tk"/>
<line x1="35.5" y1="71.25" x2="38.2" y2="71.25" class="tk"/>
<line x1="304.45" y1="71.25" x2="301.75" y2="71.25" class="tk"/>
<line x1="35.5" y1="54.31" x2="38.2" y2="54.31" class="tk"/>
<line x1="304.45" y1="54.31" x2="301.75" y2="54.31" class="tk"/>
<line x1="35.5" y1="37.37" x2="38.2" y2="37.37" class="tk"/>
<line x1="304.45" y1="37.37" x2="301.75" y2="37.37" class="tk"/>
<line x1="35.5" y1="20.44" x2="38.2" y2="20.44" class="tk"/>
<line x1="304.45" y1="20.44" x2="301.75" y2="20.44" class="tk"/>
<text x="36.00" y="149.50" class="tl" text-anchor="middle">60</text>
<text x="89.79" y="149.50" class="tl" text-anchor="middle">80</text>
<text x="143.58" y="149.50" class="tl" text-anchor="middle">100</text>
<text x="197.37" y="149.50" class="tl" text-anchor="middle">120</text>
<text x="251.16" y="149.50" class="tl" text-anchor="middle">140</text>
<text x="304.95" y="149.50" class="tl" text-anchor="middle">160</text>
<text x="32.40" y="142.30" class="tl" text-anchor="end">–0.8</text>
<text x="32.40" y="125.36" class="tl" text-anchor="end">–0.6</text>
<text x="32.40" y="108.42" class="tl" text-anchor="end">–0.4</text>
<text x="32.40" y="91.49" class="tl" text-anchor="end">–0.2</text>
<text x="32.40" y="74.55" class="tl" text-anchor="end">0</text>
<text x="32.40" y="57.61" class="tl" text-anchor="end">0.2</text>
<text x="32.40" y="40.67" class="tl" text-anchor="end">0.4</text>
<text x="32.40" y="23.74" class="tl" text-anchor="end">0.6</text>
<text x="32.40" y="6.80" class="tl" text-anchor="end">0.8</text>
<text x="171.17" y="163.00" class="al" text-anchor="middle">Time [μs]</text>
<text transform="translate(7.40,70.35) rotate(-90)" class="al" text-anchor="middle">Laser Signal [V]</text>
<text x="42.60" y="17.10" class="pl">(a)</text>
<line x1="416.02" y1="3.5" x2="416.02" y2="139.0" class="gr gv"/>
<line x1="469.84" y1="3.5" x2="469.84" y2="139.0" class="gr gv"/>
<line x1="523.66" y1="3.5" x2="523.66" y2="139.0" class="gr gv"/>
<line x1="577.48" y1="3.5" x2="577.48" y2="139.0" class="gr gv"/>
<line x1="362.2" y1="122.06" x2="631.3" y2="122.06" class="gr gh"/>
<line x1="362.2" y1="105.12" x2="631.3" y2="105.12" class="gr gh"/>
<line x1="362.2" y1="88.19" x2="631.3" y2="88.19" class="gr gh"/>
<line x1="362.2" y1="71.25" x2="631.3" y2="71.25" class="gr gh"/>
<line x1="362.2" y1="54.31" x2="631.3" y2="54.31" class="gr gh"/>
<line x1="362.2" y1="37.37" x2="631.3" y2="37.37" class="gr gh"/>
<line x1="362.2" y1="20.44" x2="631.3" y2="20.44" class="gr gh"/>
<polyline class="wf wl" points="362.20,71.31 362.31,71.20 362.42,71.06 362.52,70.90 362.63,70.73 362.74,70.57 362.85,70.41 362.95,70.29 363.06,70.21 363.17,70.18 363.28,70.19 363.38,70.24 363.49,70.34 363.60,70.47 363.71,70.64 363.81,70.82 363.92,71.00 364.03,71.18 364.14,71.33 364.25,71.44 364.35,71.50 364.46,71.52 364.57,71.48 364.68,71.39 364.78,71.24 364.89,71.06 365.00,70.83 365.11,70.61 365.21,70.41 365.32,70.23 365.43,70.10 365.54,70.02 365.64,70.00 365.75,70.03 365.86,70.13 365.97,70.29 366.08,70.52 366.18,70.79 366.29,71.07 366.40,71.33 366.51,71.54 366.61,71.70 366.72,71.80 366.83,71.85 366.94,71.85 367.04,71.80 367.15,71.67 367.26,71.44 367.37,71.13 367.47,70.76 367.58,70.41 367.69,70.12 367.80,69.92 367.90,69.79 368.01,69.71 368.12,69.68 368.23,69.68 368.34,69.74 368.44,69.86 368.55,70.08 368.66,70.40 368.77,70.79 368.87,71.16 368.98,71.47 369.09,71.68 369.20,71.81 369.30,71.88 369.41,71.93 369.52,71.94 369.63,71.91 369.73,71.84 369.84,71.71 369.95,71.50 370.06,71.20 370.17,70.87 370.27,70.55 370.38,70.28 370.49,70.06 370.60,69.91 370.70,69.79 370.81,69.72 370.92,69.66 371.03,69.65 371.13,69.67 371.24,69.76 371.35,69.93 371.46,70.19 371.56,70.53 371.67,70.93 371.78,71.31 371.89,71.62 372.00,71.85 372.10,72.02 372.21,72.14 372.32,72.22 372.43,72.26 372.53,72.25 372.64,72.18 372.75,72.02 372.86,71.76 372.96,71.38 373.07,70.92 373.18,70.45 373.29,70.05 373.39,69.74 373.50,69.51 373.61,69.35 373.72,69.26 373.83,69.22 373.93,69.25 374.04,69.33 374.15,69.51 374.26,69.80 374.36,70.18 374.47,70.62 374.58,71.05 374.69,71.41 374.79,71.69 374.90,71.90 375.01,72.03 375.12,72.11 375.22,72.12 375.33,72.07 375.44,71.97 375.55,71.82 375.65,71.61 375.76,71.37 375.87,71.10 375.98,70.85 376.09,70.59 376.19,70.39 376.30,70.24 376.41,70.13 376.52,70.08 376.62,70.06 376.73,70.10 376.84,70.16 376.95,70.26 377.05,70.37 377.16,70.49 377.27,70.61 377.38,70.73 377.48,70.84 377.59,70.92 377.70,70.99 377.81,71.04 377.92,71.06 378.02,71.06 378.13,71.06 378.24,71.06 378.35,71.05 378.45,71.05 378.56,71.04 378.67,71.05 378.78,71.05 378.88,71.05 378.99,71.04 379.10,71.03 379.21,71.01 379.31,70.97 379.42,70.92 379.53,70.85 379.64,70.77 379.75,70.66 379.85,70.56 379.96,70.46 380.07,70.37 380.18,70.31 380.28,70.30 380.39,70.31 380.50,70.36 380.61,70.45 380.71,70.58 380.82,70.73 380.93,70.90 381.04,71.08 381.14,71.24 381.25,71.39 381.36,71.49 381.47,71.55 381.58,71.56 381.68,71.53 381.79,71.45 381.90,71.33 382.01,71.17 382.11,70.97 382.22,70.74 382.33,70.50 382.44,70.29 382.54,70.13 382.65,70.00 382.76,69.94 382.87,69.92 382.97,69.96 383.08,70.05 383.19,70.19 383.30,70.39 383.41,70.64 383.51,70.92 383.62,71.20 383.73,71.46 383.84,71.65 383.94,71.78 384.05,71.83 384.16,71.82 384.27,71.76 384.37,71.63 384.48,71.44 384.59,71.19 384.70,70.92 384.80,70.65 384.91,70.42 385.02,70.23 385.13,70.13 385.23,70.09 385.34,70.12 385.45,70.22 385.56,70.37 385.67,70.57 385.77,70.79 385.88,70.99 385.99,71.16 386.10,71.29 386.20,71.31 386.31,71.28 386.42,71.16 386.53,70.96 386.63,70.73 386.74,70.48 386.85,70.26 386.96,70.09 387.06,69.99 387.17,69.94 387.28,69.98 387.39,70.11 387.50,70.34 387.60,70.66 387.71,71.04 387.82,71.39 387.93,71.68 388.03,71.88 388.14,72.01 388.25,72.09 388.36,72.11 388.46,72.05 388.57,71.90 388.68,71.58 388.79,71.11 388.89,70.56 389.00,70.09 389.11,69.78 389.22,69.59 389.33,69.48 389.43,69.43 389.54,69.42 389.65,69.44 389.76,69.55 389.86,69.82 389.97,70.32 390.08,70.97 390.19,71.57 390.29,71.94 390.40,72.13 390.51,72.22 390.62,72.27 390.72,72.28 390.83,72.28 390.94,72.22 391.05,72.04 391.16,71.64 391.26,70.98 391.37,70.25 391.48,69.72 391.59,69.44 391.69,69.32 391.80,69.27 391.91,69.26 392.02,69.28 392.12,69.32 392.23,69.43 392.34,69.69 392.45,70.15 392.55,70.81 392.66,71.49 392.77,71.99 392.88,72.26 392.99,72.38 393.09,72.42 393.20,72.42 393.31,72.39 393.42,72.33 393.52,72.20 393.63,71.96 393.74,71.58 393.85,71.07 393.95,70.52 394.06,70.05 394.17,69.72 394.28,69.52 394.38,69.41 394.49,69.37 394.60,69.41 394.71,69.49 394.81,69.60 394.92,69.76 395.03,69.98 395.14,70.25 395.25,70.59 395.35,70.93 395.46,71.22 395.57,71.45 395.68,71.60 395.78,71.68 395.89,71.70 396.00,71.69 396.11,71.64 396.21,71.58 396.32,71.46 396.43,71.32 396.54,71.14 396.64,70.93 396.75,70.72 396.86,70.55 396.97,70.40 397.08,70.32 397.18,70.29 397.29,70.30 397.40,70.33 397.51,70.39 397.61,70.46 397.72,70.56 397.83,70.68 397.94,70.82 398.04,70.96 398.15,71.06 398.26,71.14 398.37,71.17 398.47,71.18 398.58,71.18 398.69,71.17 398.80,71.16 398.91,71.14 399.01,71.10 399.12,71.03 399.23,70.95 399.34,70.82 399.44,70.69 399.55,70.56 399.66,70.46 399.77,70.39 399.87,70.33 399.98,70.31 400.09,70.30 400.20,70.31 400.30,70.33 400.41,70.37 400.52,70.44 400.63,70.54 400.74,70.67 400.84,70.81 400.95,70.95 401.06,71.07 401.17,71.16 401.27,71.22 401.38,71.27 401.49,71.29 401.60,71.31 401.70,71.31 401.81,71.30 401.92,71.30 402.03,71.26 402.13,71.22 402.24,71.18 402.35,71.12 402.46,71.07 402.56,71.02 402.67,70.98 402.78,70.95 402.89,70.90 403.00,70.85 403.10,70.78 403.21,70.72 403.32,70.63 403.43,70.53 403.53,70.43 403.64,70.33 403.75,70.25 403.86,70.18 403.96,70.14 404.07,70.13 404.18,70.15 404.29,70.23 404.39,70.34 404.50,70.48 404.61,70.65 404.72,70.84 404.83,71.03 404.93,71.21 405.04,71.37 405.15,71.51 405.26,71.60 405.36,71.65 405.47,71.65 405.58,71.59 405.69,71.48 405.79,71.31 405.90,71.10 406.01,70.87 406.12,70.64 406.22,70.43 406.33,70.26 406.44,70.12 406.55,70.03 406.66,69.97 406.76,69.96 406.87,70.01 406.98,70.15 407.09,70.36 407.19,70.64 407.30,70.95 407.41,71.24 407.52,71.49 407.62,71.70 407.73,71.87 407.84,71.99 407.95,72.07 408.05,72.07 408.16,71.99 408.27,71.80 408.38,71.48 408.49,71.07 408.59,70.62 408.70,70.22 408.81,69.91 408.92,69.67 409.02,69.49 409.13,69.35 409.24,69.26 409.35,69.21 409.45,69.25 409.56,69.39 409.67,69.68 409.78,70.13 409.88,70.67 409.99,71.21 410.10,71.65 410.21,71.98 410.32,72.22 410.42,72.40 410.53,72.53 410.64,72.60 410.75,72.57 410.85,72.46 410.96,72.26 411.07,71.94 411.18,71.54 411.28,71.10 411.39,70.69 411.50,70.34 411.61,70.05 411.71,69.84 411.82,69.70 411.93,69.61 412.04,69.59 412.14,69.64 412.25,69.76 412.36,69.94 412.47,70.18 412.58,70.44 412.68,70.70 412.79,70.93 412.90,71.14 413.01,71.28 413.11,71.39 413.22,71.45 413.33,71.45 413.44,71.40 413.54,71.31 413.65,71.18 413.76,71.02 413.87,70.86 413.97,70.71 414.08,70.57 414.19,70.46 414.30,70.37 414.41,70.32 414.51,70.31 414.62,70.35 414.73,70.42 414.84,70.55 414.94,70.70 415.05,70.87 415.16,71.04 415.27,71.19 415.37,71.33 415.48,71.44 415.59,71.54 415.70,71.61 415.80,71.63 415.91,71.61 416.02,71.52 416.13,71.37 416.24,71.14 416.34,70.91 416.45,70.68 416.56,70.49 416.67,70.32 416.77,70.17 416.88,70.05 416.99,69.94 417.10,69.86 417.20,69.82 417.31,69.83 417.42,69.92 417.53,70.09 417.63,70.33 417.74,70.62 417.85,70.89 417.96,71.14 418.07,71.35 418.17,71.51 418.28,71.66 418.39,71.78 418.50,71.87 418.60,71.93 418.71,71.93 418.82,71.85 418.93,71.69 419.03,71.45 419.14,71.18 419.25,70.90 419.36,70.64 419.46,70.42 419.57,70.24 419.68,70.11 419.79,70.00 419.90,69.93 420.00,69.89 420.11,69.90 420.22,69.96 420.33,70.06 420.43,70.19 420.54,70.33 420.65,70.47 420.76,70.61 420.86,70.73 420.97,70.84 421.08,70.95 421.19,71.05 421.29,71.14 421.40,71.25 421.51,71.35 421.62,71.44 421.72,71.55 421.83,71.64 421.94,71.72 422.05,71.77 422.16,71.78 422.26,71.76 422.37,71.68 422.48,71.56 422.59,71.37 422.69,71.15 422.80,70.89 422.91,70.59 423.02,70.27 423.12,69.96 423.23,69.69 423.34,69.51 423.45,69.40 423.55,69.37 423.66,69.39 423.77,69.50 423.88,69.66 423.99,69.89 424.09,70.19 424.20,70.58 424.31,71.01 424.42,71.45 424.52,71.84 424.63,72.14 424.74,72.34 424.85,72.45 424.95,72.47 425.06,72.41 425.17,72.31 425.28,72.14 425.38,71.94 425.49,71.67 425.60,71.35 425.71,70.97 425.82,70.55 425.92,70.12 426.03,69.74 426.14,69.43 426.25,69.23 426.35,69.11 426.46,69.07 426.57,69.11 426.68,69.20 426.78,69.33 426.89,69.52 427.00,69.79 427.11,70.15 427.21,70.62 427.32,71.21 427.43,71.84 427.54,72.37 427.65,72.70 427.75,72.85 427.86,72.87 427.97,72.81 428.08,72.70 428.18,72.54 428.29,72.32 428.40,72.01 428.51,71.53 428.61,70.83 428.72,69.94 428.83,69.15 428.94,68.66 429.04,68.44 429.15,68.44 429.26,68.54 429.37,68.75 429.47,69.06 429.58,69.45 429.69,69.96 429.80,70.65 429.91,71.61 430.01,72.65 430.12,73.45 430.23,73.88 430.34,73.97 430.44,73.85 430.55,73.53 430.66,73.09 430.77,72.55 430.87,71.87 430.98,71.07 431.09,70.07 431.20,68.97 431.30,68.00 431.41,67.32 431.52,66.84 431.63,66.70 431.74,66.88"/>
<polyline class="wf wh" points="431.63,66.70 431.74,66.88 431.84,67.35 431.95,68.15 432.06,69.17 432.17,70.53 432.27,72.10 432.38,73.71 432.49,75.22 432.60,76.40 432.70,77.21 432.81,77.61 432.92,77.57 433.03,77.14 433.13,76.27 433.24,75.00 433.35,73.28 433.46,71.34 433.57,69.26 433.67,67.10 433.78,65.11 433.89,63.29 434.00,61.99 434.10,61.19 434.21,60.82 434.32,61.13 434.43,62.23 434.53,64.18 434.64,66.74 434.75,69.87 434.86,73.13 434.96,76.50 435.07,79.78 435.18,82.49 435.29,84.55 435.40,85.75 435.50,85.87 435.61,84.75 435.72,82.55 435.83,79.36 435.93,75.49 436.04,70.74 436.15,65.92 436.26,61.15 436.36,57.20 436.47,53.76 436.58,51.51 436.69,50.54 436.79,50.84 436.90,52.43 437.01,55.22 437.12,59.32 437.23,64.00 437.33,69.94 437.44,75.98 437.55,81.66 437.66,87.44 437.76,92.31 437.87,96.00 437.98,98.07 438.09,98.43 438.19,97.08 438.30,94.21 438.41,89.48 438.52,83.37 438.62,76.51 438.73,68.71 438.84,61.20 438.95,53.43 439.05,46.76 439.16,41.35 439.27,37.71 439.38,35.85 439.49,36.25 439.59,38.76 439.70,43.47 439.81,49.91 439.92,58.25 440.02,66.70 440.13,75.75 440.24,85.93 440.35,94.49 440.45,102.11 440.56,107.75 440.67,111.34 440.78,112.36 440.88,110.90 440.99,106.70 441.10,100.21 441.21,91.74 441.32,82.11 441.42,71.67 441.53,59.93 441.64,49.02 441.75,39.85 441.85,31.91 441.96,26.43 442.07,23.11 442.18,23.34 442.28,26.67 442.39,33.66 442.50,43.47 442.61,55.32 442.71,68.39 442.82,81.46 442.93,94.12 443.04,104.62 443.15,114.13 443.25,120.45 443.36,122.77 443.47,121.27 443.58,116.51 443.68,108.40 443.79,98.04 443.90,85.74 444.01,71.31 444.11,56.20 444.22,42.75 444.33,30.17 444.44,21.32 444.54,16.47 444.65,14.85 444.76,17.08 444.87,22.20 444.98,30.31 445.08,39.53 445.19,51.79 445.30,63.81 445.41,77.08 445.51,90.97 445.62,102.65 445.73,112.51 445.84,120.48 445.94,125.36 446.05,127.52 446.16,126.69 446.27,123.16 446.37,117.08 446.48,107.46 446.59,97.09 446.70,84.50 446.81,70.74 446.91,57.60 447.02,45.66 447.13,34.07 447.24,25.20 447.34,17.85 447.45,13.87 447.56,13.38 447.67,16.44 447.77,22.57 447.88,31.92 447.99,43.37 448.10,56.01 448.20,70.30 448.31,83.36 448.42,96.71 448.53,108.21 448.63,117.21 448.74,123.86 448.85,126.96 448.96,126.64 449.07,122.96 449.17,116.17 449.28,106.18 449.39,94.53 449.50,82.95 449.60,70.96 449.71,57.88 449.82,45.68 449.93,34.48 450.03,25.83 450.14,19.55 450.25,16.05 450.36,16.22 450.46,19.76 450.57,26.22 450.68,35.84 450.79,47.48 450.90,60.06 451.00,73.70 451.11,86.57 451.22,97.74 451.33,107.93 451.43,115.70 451.54,120.52 451.65,122.34 451.76,121.07 451.86,116.73 451.97,109.81 452.08,101.20 452.19,90.49 452.29,77.84 452.40,65.23 452.51,52.82 452.62,42.37 452.73,33.86 452.83,27.75 452.94,23.93 453.05,23.05 453.16,25.39 453.26,30.64 453.37,37.98 453.48,47.36 453.59,57.63 453.69,69.19 453.80,80.53 453.91,90.55 454.02,99.51 454.12,105.93 454.23,110.95 454.34,113.21 454.45,112.97 454.56,110.08 454.66,104.71 454.77,97.68 454.88,88.43 454.99,77.98 455.09,67.49 455.20,57.49 455.31,48.99 455.42,41.64 455.52,36.82 455.63,34.05 455.74,33.42 455.85,35.19 455.95,38.95 456.06,45.09 456.17,51.88 456.28,59.29 456.38,67.65 456.49,76.67 456.60,84.79 456.71,91.71 456.82,97.11 456.92,100.79 457.03,102.42 457.14,102.03 457.25,99.73 457.35,96.01 457.46,90.46 457.57,84.17 457.68,77.08 457.78,69.81 457.89,62.70 458.00,56.76 458.11,51.47 458.21,47.61 458.32,45.46 458.43,44.93 458.54,45.95 458.65,48.30 458.75,51.92 458.86,56.40 458.97,62.04 459.08,67.60 459.18,73.08 459.29,78.51 459.40,83.37 459.51,87.18 459.61,89.86 459.72,91.48 459.83,91.75 459.94,90.80 460.04,88.58 460.15,85.66 460.26,81.68 460.37,77.37 460.48,72.82 460.58,68.18 460.69,63.79 460.80,59.96 460.91,57.12 461.01,55.35 461.12,54.67 461.23,54.84 461.34,55.79 461.44,57.59 461.55,60.29 461.66,63.51 461.77,67.44 461.87,71.23 461.98,74.79 462.09,78.17 462.20,81.05 462.31,83.43 462.41,85.00 462.52,85.59 462.63,85.19 462.74,83.96 462.84,82.02 462.95,79.46 463.06,76.34 463.17,72.97 463.27,69.44 463.38,65.94 463.49,62.93 463.60,60.29 463.70,58.58 463.81,57.54 463.92,57.37 464.03,58.06 464.14,59.64 464.24,61.95 464.35,64.89 464.46,68.13 464.57,71.51 464.67,75.05 464.78,78.11 464.89,80.82 465.00,82.81 465.10,83.73 465.21,83.75 465.32,82.84 465.43,81.24 465.53,78.83 465.64,75.70 465.75,72.55 465.86,69.18 465.96,65.95 466.07,63.20 466.18,60.82 466.29,59.20 466.40,58.38 466.50,58.49 466.61,59.27 466.72,60.68 466.83,62.65 466.93,64.94 467.04,67.57 467.15,70.32 467.26,72.73 467.36,75.28 467.47,77.28 467.58,79.00 467.69,80.34 467.79,81.12 467.90,81.38 468.01,81.06 468.12,80.24 468.23,78.86 468.33,76.99 468.44,74.83 468.55,72.74 468.66,70.68 468.76,68.56 468.87,66.47 468.98,64.89 469.09,63.70 469.19,62.92 469.30,62.56 469.41,62.65 469.52,63.20 469.62,64.19 469.73,65.60 469.84,67.27 469.95,69.08 470.06,70.85 470.16,72.73 470.27,74.41 470.38,75.86 470.49,76.99 470.59,77.72 470.70,78.06 470.81,77.92 470.92,77.34 471.02,76.42 471.13,75.16 471.24,73.62 471.35,72.00 471.45,70.28 471.56,68.76 471.67,67.30 471.78,66.00 471.89,65.07 471.99,64.54 472.10,64.40 472.21,64.68 472.32,65.37 472.42,66.34 472.53,67.58 472.64,68.94 472.75,70.36 472.85,71.72 472.96,73.09 473.07,74.33 473.18,75.24 473.28,75.81 473.39,76.12 473.50,76.10 473.61,75.77 473.72,75.10 473.82,74.17 473.93,73.12 474.04,71.97 474.15,70.82 474.25,69.71 474.36,68.61 474.47,67.76 474.58,67.11 474.68,66.69 474.79,66.61 474.90,66.81 475.01,67.24 475.11,67.86"/>
<polyline class="wf wl" points="475.01,67.24 475.11,67.86 475.22,68.56 475.33,69.30 475.44,70.12 475.54,70.95 475.65,71.81 475.76,72.58 475.87,73.18 475.98,73.51 476.08,73.63 476.19,73.55 476.30,73.32 476.41,73.01 476.51,72.64 476.62,72.21 476.73,71.72 476.84,71.17 476.94,70.59 477.05,70.06 477.16,69.62 477.27,69.25 477.37,69.01 477.48,68.86 477.59,68.81 477.70,68.86 477.81,69.05 477.91,69.39 478.02,69.90 478.13,70.55 478.24,71.28 478.34,71.98 478.45,72.55 478.56,73.02 478.67,73.36 478.77,73.56 478.88,73.61 478.99,73.49 479.10,73.17 479.20,72.65 479.31,71.95 479.42,71.19 479.53,70.38 479.64,69.58 479.74,68.86 479.85,68.28 479.96,67.79 480.07,67.50 480.17,67.48 480.28,67.67 480.39,68.09 480.50,68.71 480.60,69.44 480.71,70.23 480.82,71.05 480.93,71.83 481.03,72.52 481.14,73.12 481.25,73.58 481.36,73.88 481.47,74.00 481.57,73.93 481.68,73.67 481.79,73.25 481.90,72.69 482.00,72.02 482.11,71.29 482.22,70.49 482.33,69.70 482.43,68.99 482.54,68.40 482.65,67.95 482.76,67.66 482.86,67.54 482.97,67.61 483.08,67.86 483.19,68.31 483.29,68.90 483.40,69.69 483.51,70.55 483.62,71.41 483.73,72.28 483.83,73.02 483.94,73.65 484.05,74.14 484.16,74.41 484.26,74.48 484.37,74.35 484.48,74.02 484.59,73.44 484.69,72.69 484.80,71.74 484.91,70.71 485.02,69.65 485.12,68.71 485.23,68.02 485.34,67.49 485.45,67.14 485.56,66.97 485.66,66.98 485.77,67.18 485.88,67.61 485.99,68.32 486.09,69.31 486.20,70.46 486.31,71.61 486.42,72.54 486.52,73.36 486.63,74.01 486.74,74.44 486.85,74.68 486.95,74.69 487.06,74.49 487.17,74.02 487.28,73.28 487.39,72.31 487.49,71.23 487.60,70.22 487.71,69.39 487.82,68.79 487.92,68.31 488.03,67.98 488.14,67.79 488.25,67.79 488.35,67.99 488.46,68.44 488.57,69.08 488.68,69.84 488.78,70.55 488.89,71.18 489.00,71.76 489.11,72.29 489.22,72.66 489.32,72.96 489.43,73.11 489.54,73.08 489.65,72.85 489.75,72.47 489.86,72.01 489.97,71.55 490.08,71.11 490.18,70.65 490.29,70.26 490.40,69.90 490.51,69.61 490.61,69.42 490.72,69.39 490.83,69.45 490.94,69.58 491.05,69.74 491.15,69.92 491.26,70.14 491.37,70.40 491.48,70.67 491.58,70.99 491.69,71.31 491.80,71.53 491.91,71.67 492.01,71.81 492.12,71.96 492.23,72.12 492.34,72.26 492.44,72.30 492.55,72.24 492.66,72.03 492.77,71.75 492.87,71.35 492.98,70.97 493.09,70.61 493.20,70.30"/>
<polyline class="wf wh" points="493.09,70.61 493.20,70.30 493.31,69.87 493.41,69.41 493.52,68.97 493.63,68.59 493.74,68.37 493.84,68.33 493.95,68.47 494.06,68.76 494.17,69.23 494.27,69.77 494.38,70.41 494.49,71.05 494.60,71.74 494.70,72.43 494.81,72.99 494.92,73.44 495.03,73.73 495.14,73.81 495.24,73.68 495.35,73.34 495.46,72.90 495.57,72.37 495.67,71.68 495.78,70.99 495.89,70.22 496.00,69.49 496.10,68.80 496.21,68.28 496.32,67.92 496.43,67.73 496.53,67.74 496.64,68.01 496.75,68.49 496.86,69.15 496.97,69.91 497.07,70.80 497.18,71.63 497.29,72.45 497.40,73.21 497.50,73.85 497.61,74.32 497.72,74.59 497.83,74.64 497.93,74.43 498.04,73.99 498.15,73.31 498.26,72.30 498.36,71.19 498.47,70.06 498.58,68.77 498.69,67.56 498.80,66.59 498.90,65.91 499.01,65.41 499.12,65.25 499.23,65.44 499.33,65.95 499.44,66.81 499.55,67.94 499.66,69.33 499.76,70.82 499.87,72.42 499.98,73.99 500.09,75.44 500.19,76.67 500.30,77.53 500.41,77.96 500.52,78.04 500.63,77.71 500.73,76.95 500.84,75.80 500.95,74.29 501.06,72.56 501.16,70.70 501.27,68.59 501.38,66.87 501.49,65.21 501.59,63.73 501.70,62.74 501.81,62.22 501.92,62.21 502.02,62.68 502.13,63.71 502.24,65.07 502.35,66.90 502.45,69.14 502.56,71.36 502.67,73.74 502.78,76.08 502.89,78.27 502.99,80.09 503.10,81.30 503.21,81.95 503.32,81.93 503.42,81.20 503.53,79.68 503.64,77.68 503.75,75.11 503.85,72.47 503.96,69.38 504.07,66.26 504.18,63.26 504.28,60.78 504.39,58.84 504.50,57.58 504.61,57.04 504.72,57.43 504.82,58.55 504.93,60.36 505.04,63.02 505.15,66.12 505.25,69.91 505.36,73.47 505.47,77.42 505.58,80.77 505.68,83.49 505.79,85.55 505.90,86.93 506.01,87.40 506.11,86.84 506.22,85.37 506.33,82.50 506.44,78.97 506.55,74.99 506.65,70.71 506.76,65.77 506.87,61.64 506.98,57.75 507.08,54.59 507.19,52.61 507.30,51.65 507.41,51.92 507.51,53.61 507.62,56.75 507.73,60.81 507.84,65.53 507.94,70.38 508.05,76.01 508.16,81.11 508.27,85.36 508.38,88.70 508.48,90.64 508.59,91.28 508.70,90.54 508.81,88.57 508.91,85.42 509.02,81.07 509.13,76.42 509.24,71.06 509.34,65.71 509.45,60.82 509.56,56.50 509.67,52.92 509.77,50.49 509.88,49.37 509.99,49.62 510.10,51.19 510.20,53.84 510.31,57.61 510.42,62.52 510.53,67.64 510.64,72.99 510.74,78.14 510.85,83.00 510.96,87.23 511.07,90.24 511.17,92.12 511.28,92.61 511.39,91.76 511.50,89.62 511.60,86.28 511.71,82.15 511.82,77.30 511.93,71.86 512.03,66.67 512.14,61.33 512.25,56.82 512.36,53.04 512.47,50.53 512.57,49.19 512.68,49.09 512.79,50.39 512.90,52.92 513.00,56.66 513.11,61.19 513.22,66.46 513.33,71.90 513.43,77.04 513.54,82.22 513.65,86.33 513.76,89.91 513.86,91.97 513.97,92.74 514.08,92.22 514.19,90.39 514.30,87.33 514.40,83.17 514.51,78.46 514.62,73.61 514.73,68.35 514.83,62.97 514.94,57.97 515.05,54.26 515.16,51.22 515.26,49.35 515.37,48.91 515.48,49.99 515.59,52.38 515.69,56.05 515.80,60.65 515.91,66.41 516.02,72.32 516.13,77.96 516.23,83.02 516.34,87.08 516.45,90.31 516.56,92.22 516.66,92.72 516.77,91.87 516.88,89.42 516.99,85.63 517.09,80.63 517.20,75.34 517.31,69.63 517.42,64.21 517.52,58.77 517.63,54.33 517.74,50.79 517.85,48.81 517.96,48.42 518.06,49.72 518.17,52.36 518.28,56.62 518.39,61.52 518.49,67.48 518.60,73.80 518.71,79.57 518.82,84.88 518.92,89.26 519.03,92.35 519.14,93.84 519.25,93.64 519.35,91.87 519.46,88.49 519.57,83.39 519.68,77.87 519.78,71.37 519.89,65.46 520.00,59.78 520.11,54.55 520.22,50.67 520.32,48.30 520.43,47.75 520.54,48.57 520.65,50.60 520.75,53.64 520.86,57.84 520.97,62.71 521.08,68.18 521.18,73.36 521.29,78.50 521.40,83.19 521.51,87.26 521.61,90.48 521.72,92.78 521.83,93.74 521.94,93.43 522.05,91.87 522.15,89.44 522.26,86.10 522.37,81.79 522.48,76.62 522.58,71.37 522.69,66.43 522.80,61.36 522.91,56.88 523.01,53.00 523.12,50.09 523.23,48.40 523.34,47.94 523.44,48.60 523.55,50.42 523.66,53.33 523.77,57.26 523.88,61.76 523.98,66.68 524.09,72.08 524.20,77.49 524.31,82.41 524.41,86.48 524.52,89.88 524.63,92.48 524.74,93.63 524.84,93.64 524.95,92.36 525.06,90.08 525.17,86.74 525.27,82.24 525.38,77.12 525.49,72.28 525.60,66.82 525.71,61.77 525.81,57.40 525.92,53.29 526.03,50.37 526.14,48.47 526.24,47.77 526.35,48.30 526.46,50.13 526.57,53.15 526.67,57.48 526.78,62.31 526.89,67.41 527.00,72.88 527.10,78.21 527.21,83.21 527.32,86.99 527.43,90.48 527.54,92.92 527.64,93.93 527.75,93.66 527.86,91.96 527.97,89.10 528.07,84.93 528.18,80.08 528.29,74.97 528.40,69.95 528.50,64.57 528.61,59.45 528.72,55.14 528.83,51.78 528.93,49.15 529.04,47.84 529.15,47.76 529.26,48.93 529.36,51.39 529.47,54.83 529.58,59.25 529.69,64.35 529.80,69.20 529.90,74.42 530.01,79.48 530.12,84.07 530.23,88.06 530.33,91.23 530.44,93.06 530.55,93.78 530.66,93.23 530.76,91.52 530.87,88.86 530.98,85.23 531.09,80.95 531.19,75.85 531.30,70.24 531.41,64.88 531.52,59.84 531.63,55.71 531.73,52.17 531.84,49.83 531.95,48.57 532.06,48.46 532.16,49.53 532.27,51.84 532.38,55.15 532.49,59.21 532.59,63.80 532.70,68.90 532.81,74.10 532.92,79.07 533.02,83.74 533.13,87.40 533.24,90.09 533.35,91.85 533.46,92.58 533.56,92.23 533.67,90.75 533.78,87.99 533.89,84.62 533.99,80.54 534.10,75.94 534.21,71.18 534.32,66.38 534.42,61.54 534.53,57.16 534.64,53.88 534.75,51.43 534.85,50.04 534.96,49.86 535.07,50.81 535.18,52.88 535.29,55.86 535.39,59.51 535.50,63.93 535.61,68.48 535.72,73.13 535.82,77.77 535.93,81.73 536.04,85.38 536.15,88.01 536.25,89.73 536.36,90.52 536.47,90.18 536.58,88.71 536.68,86.17 536.79,83.07 536.90,79.26 537.01,75.20 537.11,70.91 537.22,66.35 537.33,62.16 537.44,58.48 537.55,55.48 537.65,53.41 537.76,52.20 537.87,52.08 537.98,52.99 538.08,54.79 538.19,57.38 538.30,61.07 538.41,64.96 538.51,69.33 538.62,73.50 538.73,77.53 538.84,81.49 538.94,84.71 539.05,87.11 539.16,88.64 539.27,89.17 539.38,88.65 539.48,87.13 539.59,84.69 539.70,81.52 539.81,77.80 539.91,73.56 540.02,69.74 540.13,65.49 540.24,61.67 540.34,58.35 540.45,55.79 540.56,54.07 540.67,53.18 540.77,53.25 540.88,54.18 540.99,55.92 541.10,58.69 541.21,61.92 541.31,65.60 541.42,69.29 541.53,73.27 541.64,77.20 541.74,80.47 541.85,83.36 541.96,85.57 542.07,86.98 542.17,87.48 542.28,86.98 542.39,85.63 542.50,83.51 542.60,80.82 542.71,77.41 542.82,73.81 542.93,70.00 543.04,66.24 543.14,62.90 543.25,60.02 543.36,57.71 543.47,56.14 543.57,55.37 543.68,55.41 543.79,56.26 543.90,57.96 544.00,60.21 544.11,63.09 544.22,66.36 544.33,69.99 544.43,73.41 544.54,76.69 544.65,79.58 544.76,82.11 544.87,83.95 544.97,85.03 545.08,85.32 545.19,84.76 545.30,83.44 545.40,81.65 545.51,79.31 545.62,76.58 545.73,73.46 545.83,70.39 545.94,67.18 546.05,64.38 546.16,61.80 546.26,59.78 546.37,58.31 546.48,57.55 546.59,57.52 546.69,58.26 546.80,59.58 546.91,61.48 547.02,63.74 547.13,66.58 547.23,69.62 547.34,72.55 547.45,75.07 547.56,77.69 547.66,79.95 547.77,81.46 547.88,82.45 547.99,82.77 548.09,82.41 548.20,81.50 548.31,80.01 548.42,78.11 548.52,75.78 548.63,73.44 548.74,70.76 548.85,68.16 548.96,65.89 549.06,63.83 549.17,62.03 549.28,60.71 549.39,60.01 549.49,59.95 549.60,60.54 549.71,61.60 549.82,63.18 549.92,65.09 550.03,67.11 550.14,69.61 550.25,71.95 550.35,74.22 550.46,76.53 550.57,78.30 550.68,79.67 550.79,80.64 550.89,81.04 551.00,80.87 551.11,80.21 551.22,79.08 551.32,77.44 551.43,75.48 551.54,73.20 551.65,71.05 551.75,68.81 551.86,66.60 551.97,64.95 552.08,63.45 552.18,62.51 552.29,61.99 552.40,61.97 552.51,62.43 552.62,63.37 552.72,64.67 552.83,66.38 552.94,68.11 553.05,70.08 553.15,71.86 553.26,73.68 553.37,75.25 553.48,76.44 553.58,77.37 553.69,77.83 553.80,77.85 553.91,77.47 554.01,76.68 554.12,75.63 554.23,74.34 554.34,72.87 554.45,71.37 554.55,69.89 554.66,68.51 554.77,67.28 554.88,66.23 554.98,65.57 555.09,65.25 555.20,65.30 555.31,65.71 555.41,66.40 555.52,67.27 555.63,68.27 555.74,69.32 555.84,70.43 555.95,71.60 556.06,72.58 556.17,73.50 556.27,74.20 556.38,74.60 556.49,74.70 556.60,74.60 556.71,74.35 556.81,73.94 556.92,73.44 557.03,72.83 557.14,72.20 557.24,71.59 557.35,70.94 557.46,70.37 557.57,69.88 557.67,69.33 557.78,68.94 557.89,68.61 558.00,68.36 558.10,68.17 558.21,68.10"/>
<polyline class="wf wl" points="558.10,68.17 558.21,68.10 558.32,68.14 558.43,68.25 558.54,68.47 558.64,68.78 558.75,69.21 558.86,69.67 558.97,70.25 559.07,70.85 559.18,71.40 559.29,71.94 559.40,72.47 559.50,72.96 559.61,73.41 559.72,73.74 559.83,73.89 559.93,73.88 560.04,73.68 560.15,73.30 560.26,72.88 560.37,72.32 560.47,71.73 560.58,71.08 560.69,70.38 560.80,69.65 560.90,68.97 561.01,68.33 561.12,67.84 561.23,67.59 561.33,67.55 561.44,67.72 561.55,68.07 561.66,68.55 561.76,69.13 561.87,69.80 561.98,70.53 562.09,71.34 562.20,72.16 562.30,72.91 562.41,73.50 562.52,73.89 562.63,74.04 562.73,74.01 562.84,73.79 562.95,73.42 563.06,72.86 563.16,72.19 563.27,71.42 563.38,70.56 563.49,69.71 563.59,68.96 563.70,68.36 563.81,67.95 563.92,67.71 564.02,67.67 564.13,67.83 564.24,68.19 564.35,68.74 564.46,69.44 564.56,70.26 564.67,71.15 564.78,71.94 564.89,72.62 564.99,73.23 565.10,73.63 565.21,73.84 565.32,73.89 565.42,73.72 565.53,73.35 565.64,72.80 565.75,72.12 565.85,71.36 565.96,70.68 566.07,70.03 566.18,69.46 566.29,69.02 566.39,68.66 566.50,68.43 566.61,68.33 566.72,68.41 566.82,68.70 566.93,69.17 567.04,69.76 567.15,70.37 567.25,70.92 567.36,71.39 567.47,71.78 567.58,72.09 567.68,72.37 567.79,72.57 567.90,72.67 568.01,72.66 568.12,72.52 568.22,72.26 568.33,71.86 568.44,71.42 568.55,70.99 568.65,70.63 568.76,70.32 568.87,70.06 568.98,69.85 569.08,69.64 569.19,69.50 569.30,69.40 569.41,69.38 569.51,69.44 569.62,69.60 569.73,69.84 569.84,70.11 569.95,70.39 570.05,70.66 570.16,70.90 570.27,71.13 570.38,71.34 570.48,71.52 570.59,71.68 570.70,71.80 570.81,71.88 570.91,71.91 571.02,71.89 571.13,71.83 571.24,71.73 571.34,71.61 571.45,71.46 571.56,71.29 571.67,71.10 571.78,70.92 571.88,70.71 571.99,70.51 572.10,70.31 572.21,70.12 572.31,69.98 572.42,69.86 572.53,69.80 572.64,69.79 572.74,69.82 572.85,69.91 572.96,70.05 573.07,70.23 573.17,70.45 573.28,70.68 573.39,70.92 573.50,71.17 573.60,71.39 573.71,71.58 573.82,71.72 573.93,71.79 574.04,71.80 574.14,71.76 574.25,71.63 574.36,71.43 574.47,71.20 574.57,70.95 574.68,70.68 574.79,70.42 574.90,70.18 575.00,70.02 575.11,69.90 575.22,69.86 575.33,69.92 575.43,70.08 575.54,70.31 575.65,70.58 575.76,70.87 575.87,71.15 575.97,71.41 576.08,71.66 576.19,71.83 576.30,71.95 576.40,72.01 576.51,72.00 576.62,71.87 576.73,71.63 576.83,71.32 576.94,71.00 577.05,70.73 577.16,70.51 577.26,70.34 577.37,70.19 577.48,70.05 577.59,69.94 577.70,69.85 577.80,69.80 577.91,69.84 578.02,69.96 578.13,70.19 578.23,70.43 578.34,70.64 578.45,70.81 578.56,70.92 578.66,71.01 578.77,71.09 578.88,71.19 578.99,71.28 579.09,71.36 579.20,71.41 579.31,71.42 579.42,71.38 579.53,71.29 579.63,71.22 579.74,71.17 579.85,71.12 579.96,71.09 580.06,71.05 580.17,71.01 580.28,70.92 580.39,70.82 580.49,70.73 580.60,70.64 580.71,70.58 580.82,70.56 580.92,70.55 581.03,70.55 581.14,70.55 581.25,70.56 581.36,70.58 581.46,70.62 581.57,70.66 581.68,70.73 581.79,70.79 581.89,70.84 582.00,70.89 582.11,70.92 582.22,70.93 582.32,70.92 582.43,70.92 582.54,70.91 582.65,70.91 582.75,70.90 582.86,70.90 582.97,70.88 583.08,70.87 583.18,70.87 583.29,70.89 583.40,70.92 583.51,70.99 583.62,71.03 583.72,71.08 583.83,71.08 583.94,71.06 584.05,71.02 584.15,70.93 584.26,70.81 584.37,70.66 584.48,70.51 584.58,70.36 584.69,70.23 584.80,70.14 584.91,70.13 585.01,70.20 585.12,70.32 585.23,70.52 585.34,70.76 585.45,71.03 585.55,71.33 585.66,71.63 585.77,71.88 585.88,72.05 585.98,72.13 586.09,72.09 586.20,71.95 586.31,71.75 586.41,71.45 586.52,71.06 586.63,70.64 586.74,70.20 586.84,69.81 586.95,69.50 587.06,69.29 587.17,69.18 587.28,69.17 587.38,69.24 587.49,69.42 587.60,69.71 587.71,70.10 587.81,70.56 587.92,71.02 588.03,71.45 588.14,71.77 588.24,72.03 588.35,72.22 588.46,72.37 588.57,72.43 588.67,72.42 588.78,72.30 588.89,72.06 589.00,71.71 589.11,71.27 589.21,70.84 589.32,70.43 589.43,70.09 589.54,69.82 589.64,69.60 589.75,69.43 589.86,69.32 589.97,69.29 590.07,69.35 590.18,69.51 590.29,69.77 590.40,70.10 590.50,70.46 590.61,70.81 590.72,71.13 590.83,71.42 590.93,71.64 591.04,71.83 591.15,71.98 591.26,72.09 591.37,72.13 591.47,72.12 591.58,72.04 591.69,71.90 591.80,71.69 591.90,71.44 592.01,71.16 592.12,70.88 592.23,70.61 592.33,70.35 592.44,70.10 592.55,69.90 592.66,69.75 592.76,69.62 592.87,69.56 592.98,69.56 593.09,69.63 593.20,69.74 593.30,69.92 593.41,70.14 593.52,70.40 593.63,70.68 593.73,70.97 593.84,71.26 593.95,71.53 594.06,71.75 594.16,71.92 594.27,72.04 594.38,72.11 594.49,72.11 594.59,72.06 594.70,71.94 594.81,71.77 594.92,71.56 595.03,71.31 595.13,71.05 595.24,70.78 595.35,70.52 595.46,70.28 595.56,70.07 595.67,69.91 595.78,69.77 595.89,69.69 595.99,69.66 596.10,69.68 596.21,69.73 596.32,69.83 596.42,69.96 596.53,70.13 596.64,70.33 596.75,70.53 596.86,70.77 596.96,71.00 597.07,71.26 597.18,71.49 597.29,71.71 597.39,71.90 597.50,72.02 597.61,72.08 597.72,72.08 597.82,72.01 597.93,71.88 598.04,71.72 598.15,71.51 598.25,71.26 598.36,70.96 598.47,70.63 598.58,70.28 598.69,69.95 598.79,69.67 598.90,69.49 599.01,69.42 599.12,69.43 599.22,69.51 599.33,69.66 599.44,69.88 599.55,70.18 599.65,70.56 599.76,70.99 599.87,71.41 599.98,71.77 600.08,72.06 600.19,72.24 600.30,72.33 600.41,72.33 600.51,72.25 600.62,72.07 600.73,71.78 600.84,71.37 600.95,70.89 601.05,70.38 601.16,69.96 601.27,69.62 601.38,69.35 601.48,69.17 601.59,69.07 601.70,69.06 601.81,69.17 601.91,69.41 602.02,69.80 602.13,70.33 602.24,70.91 602.34,71.43 602.45,71.86 602.56,72.20 602.67,72.48 602.78,72.66 602.88,72.80 602.99,72.83 603.10,72.76 603.21,72.53 603.31,72.14 603.42,71.61 603.53,71.00 603.64,70.43 603.74,69.95 603.85,69.56 603.96,69.26 604.07,69.03 604.17,68.87 604.28,68.78 604.39,68.79 604.50,68.95 604.61,69.22 604.71,69.62 604.82,70.09 604.93,70.56 605.04,71.00 605.14,71.35 605.25,71.65 605.36,71.88 605.47,72.05 605.57,72.16 605.68,72.22 605.79,72.23 605.90,72.17 606.00,72.05 606.11,71.90 606.22,71.70 606.33,71.50 606.44,71.28 606.54,71.07 606.65,70.84 606.76,70.62 606.87,70.42 606.97,70.22 607.08,70.05 607.19,69.92 607.30,69.83 607.40,69.77 607.51,69.75 607.62,69.77 607.73,69.83 607.83,69.95 607.94,70.08 608.05,70.26 608.16,70.47 608.27,70.68 608.37,70.92 608.48,71.14 608.59,71.35 608.70,71.53 608.80,71.70 608.91,71.81 609.02,71.88 609.13,71.90 609.23,71.87 609.34,71.80 609.45,71.68 609.56,71.52 609.66,71.33 609.77,71.11 609.88,70.89 609.99,70.65 610.09,70.43 610.20,70.22 610.31,70.02 610.42,69.86 610.53,69.75 610.63,69.68 610.74,69.66 610.85,69.69 610.96,69.78 611.06,69.91 611.17,70.08 611.28,70.30 611.39,70.55 611.49,70.81 611.60,71.11 611.71,71.41 611.82,71.70 611.92,71.95 612.03,72.14 612.14,72.23 612.25,72.26 612.36,72.20 612.46,72.10 612.57,71.90 612.68,71.63 612.79,71.31 612.89,70.94 613.00,70.53 613.11,70.14 613.22,69.80 613.32,69.55 613.43,69.40 613.54,69.35 613.65,69.39 613.75,69.52 613.86,69.75 613.97,70.02 614.08,70.37 614.19,70.78 614.29,71.18 614.40,71.56 614.51,71.86 614.62,72.08 614.72,72.20 614.83,72.23 614.94,72.17 615.05,72.03 615.15,71.80 615.26,71.50 615.37,71.15 615.48,70.78 615.58,70.42 615.69,70.12 615.80,69.88 615.91,69.72 616.02,69.63 616.12,69.62 616.23,69.68 616.34,69.83 616.45,70.03 616.55,70.28 616.66,70.56 616.77,70.84 616.88,71.11 616.98,71.34 617.09,71.52 617.20,71.64 617.31,71.72 617.41,71.72 617.52,71.66 617.63,71.52 617.74,71.35 617.84,71.16 617.95,70.97 618.06,70.79 618.17,70.63 618.28,70.48 618.38,70.37 618.49,70.30 618.60,70.27 618.71,70.30 618.81,70.36 618.92,70.43 619.03,70.53 619.14,70.63 619.24,70.72 619.35,70.82 619.46,70.90 619.57,70.98 619.67,71.06 619.78,71.12 619.89,71.17 620.00,71.20 620.11,71.23 620.21,71.26 620.32,71.29 620.43,71.29 620.54,71.28 620.64,71.23 620.75,71.18 620.86,71.10 620.97,71.00 621.07,70.88 621.18,70.74 621.29,70.57 621.40,70.38 621.50,70.21 621.61,70.04 621.72,69.90 621.83,69.80 621.94,69.75 622.04,69.74 622.15,69.80 622.26,69.92 622.37,70.08 622.47,70.29 622.58,70.55 622.69,70.83 622.80,71.11 622.90,71.40 623.01,71.66 623.12,71.87 623.23,72.01 623.33,72.11 623.44,72.13 623.55,72.10 623.66,72.01 623.77,71.84 623.87,71.63 623.98,71.37 624.09,71.08 624.20,70.77 624.30,70.47 624.41,70.21 624.52,70.01 624.63,69.84 624.73,69.72 624.84,69.65 624.95,69.64 625.06,69.69 625.16,69.79 625.27,69.94 625.38,70.14 625.49,70.37 625.60,70.63 625.70,70.92 625.81,71.18 625.92,71.43 626.03,71.65 626.13,71.82 626.24,71.94 626.35,72.00 626.46,72.01 626.56,71.97 626.67,71.87 626.78,71.73 626.89,71.53 626.99,71.30 627.10,71.04 627.21,70.77 627.32,70.50 627.42,70.24 627.53,70.01 627.64,69.84 627.75,69.74 627.86,69.69 627.96,69.71 628.07,69.79 628.18,69.93 628.29,70.11 628.39,70.34 628.50,70.60 628.61,70.88 628.72,71.15 628.82,71.39 628.93,71.57 629.04,71.70 629.15,71.76 629.25,71.75 629.36,71.68 629.47,71.55 629.58,71.37 629.69,71.15 629.79,70.93 629.90,70.70 630.01,70.49 630.12,70.33 630.22,70.22 630.33,70.16 630.44,70.16 630.55,70.21 630.65,70.31 630.76,70.46 630.87,70.63 630.98,70.81 631.08,70.98 631.19,71.14 631.30,71.28"/>
<line x1="426.78" y1="3.5" x2="426.78" y2="139.0" class="rd"/>
<line x1="469.84" y1="3.5" x2="469.84" y2="139.0" class="rd"/>
<rect x="362.2" y="3.5" width="269.10" height="135.20" class="ax"/>
<line x1="416.02" y1="139.0" x2="416.02" y2="136.3" class="tk"/>
<line x1="416.02" y1="3.5" x2="416.02" y2="6.2" class="tk"/>
<line x1="469.84" y1="139.0" x2="469.84" y2="136.3" class="tk"/>
<line x1="469.84" y1="3.5" x2="469.84" y2="6.2" class="tk"/>
<line x1="523.66" y1="139.0" x2="523.66" y2="136.3" class="tk"/>
<line x1="523.66" y1="3.5" x2="523.66" y2="6.2" class="tk"/>
<line x1="577.48" y1="139.0" x2="577.48" y2="136.3" class="tk"/>
<line x1="577.48" y1="3.5" x2="577.48" y2="6.2" class="tk"/>
<line x1="362.2" y1="122.06" x2="364.9" y2="122.06" class="tk"/>
<line x1="631.3" y1="122.06" x2="628.5999999999999" y2="122.06" class="tk"/>
<line x1="362.2" y1="105.12" x2="364.9" y2="105.12" class="tk"/>
<line x1="631.3" y1="105.12" x2="628.5999999999999" y2="105.12" class="tk"/>
<line x1="362.2" y1="88.19" x2="364.9" y2="88.19" class="tk"/>
<line x1="631.3" y1="88.19" x2="628.5999999999999" y2="88.19" class="tk"/>
<line x1="362.2" y1="71.25" x2="364.9" y2="71.25" class="tk"/>
<line x1="631.3" y1="71.25" x2="628.5999999999999" y2="71.25" class="tk"/>
<line x1="362.2" y1="54.31" x2="364.9" y2="54.31" class="tk"/>
<line x1="631.3" y1="54.31" x2="628.5999999999999" y2="54.31" class="tk"/>
<line x1="362.2" y1="37.37" x2="364.9" y2="37.37" class="tk"/>
<line x1="631.3" y1="37.37" x2="628.5999999999999" y2="37.37" class="tk"/>
<line x1="362.2" y1="20.44" x2="364.9" y2="20.44" class="tk"/>
<line x1="631.3" y1="20.44" x2="628.5999999999999" y2="20.44" class="tk"/>
<text x="362.70" y="149.50" class="tl" text-anchor="middle">60</text>
<text x="416.52" y="149.50" class="tl" text-anchor="middle">80</text>
<text x="470.34" y="149.50" class="tl" text-anchor="middle">100</text>
<text x="524.16" y="149.50" class="tl" text-anchor="middle">120</text>
<text x="577.98" y="149.50" class="tl" text-anchor="middle">140</text>
<text x="631.80" y="149.50" class="tl" text-anchor="middle">160</text>
<text x="359.10" y="142.30" class="tl" text-anchor="end">–0.8</text>
<text x="359.10" y="125.36" class="tl" text-anchor="end">–0.6</text>
<text x="359.10" y="108.42" class="tl" text-anchor="end">–0.4</text>
<text x="359.10" y="91.49" class="tl" text-anchor="end">–0.2</text>
<text x="359.10" y="74.55" class="tl" text-anchor="end">0</text>
<text x="359.10" y="57.61" class="tl" text-anchor="end">0.2</text>
<text x="359.10" y="40.67" class="tl" text-anchor="end">0.4</text>
<text x="359.10" y="23.74" class="tl" text-anchor="end">0.6</text>
<text x="359.10" y="6.80" class="tl" text-anchor="end">0.8</text>
<text x="497.55" y="163.00" class="al" text-anchor="middle">Time [μs]</text>
<text transform="translate(333.50,70.35) rotate(-90)" class="al" text-anchor="middle">Laser Signal [V]</text>
<text x="369.30" y="17.10" class="pl">(b)</text>
<line x1="89.29" y1="182.3" x2="89.29" y2="317.4" class="gr gv"/>
<line x1="143.08" y1="182.3" x2="143.08" y2="317.4" class="gr gv"/>
<line x1="196.87" y1="182.3" x2="196.87" y2="317.4" class="gr gv"/>
<line x1="250.66" y1="182.3" x2="250.66" y2="317.4" class="gr gv"/>
<line x1="35.5" y1="300.51" x2="304.45" y2="300.51" class="gr gh"/>
<line x1="35.5" y1="283.62" x2="304.45" y2="283.62" class="gr gh"/>
<line x1="35.5" y1="266.74" x2="304.45" y2="266.74" class="gr gh"/>
<line x1="35.5" y1="249.85" x2="304.45" y2="249.85" class="gr gh"/>
<line x1="35.5" y1="232.96" x2="304.45" y2="232.96" class="gr gh"/>
<line x1="35.5" y1="216.07" x2="304.45" y2="216.07" class="gr gh"/>
<line x1="35.5" y1="199.19" x2="304.45" y2="199.19" class="gr gh"/>
<polyline class="wf wl" points="35.50,249.31 35.61,249.38 35.72,249.46 35.82,249.54 35.93,249.62 36.04,249.70 36.15,249.77 36.25,249.83 36.36,249.87 36.47,249.90 36.58,249.91 36.68,249.90 36.79,249.88 36.90,249.83 37.01,249.75 37.11,249.65 37.22,249.52 37.33,249.38 37.44,249.21 37.54,249.06 37.65,248.94 37.76,248.85 37.87,248.79 37.97,248.76 38.08,248.75 38.19,248.76 38.30,248.80 38.40,248.88 38.51,249.00 38.62,249.17 38.73,249.39 38.83,249.63 38.94,249.84 39.05,250.00 39.16,250.09 39.27,250.15 39.37,250.18 39.48,250.18 39.59,250.17 39.70,250.13 39.80,250.05 39.91,249.91 40.02,249.71 40.13,249.46 40.23,249.20 40.34,248.99 40.45,248.85 40.56,248.76 40.66,248.72 40.77,248.70 40.88,248.70 40.99,248.71 41.09,248.75 41.20,248.83 41.31,248.95 41.42,249.13 41.52,249.34 41.63,249.56 41.74,249.74 41.85,249.87 41.95,249.96 42.06,250.02 42.17,250.05 42.28,250.07 42.39,250.08 42.49,250.07 42.60,250.04 42.71,249.98 42.82,249.90 42.92,249.77 43.03,249.61 43.14,249.44 43.25,249.28 43.35,249.13 43.46,249.02 43.57,248.93 43.68,248.85 43.78,248.80 43.89,248.76 44.00,248.74 44.11,248.73 44.21,248.76 44.32,248.82 44.43,248.93 44.54,249.08 44.64,249.28 44.75,249.49 44.86,249.68 44.97,249.85 45.07,249.97 45.18,250.07 45.29,250.14 45.40,250.18 45.50,250.20 45.61,250.20 45.72,250.15 45.83,250.05 45.94,249.89 46.04,249.66 46.15,249.41 46.26,249.18 46.37,248.99 46.47,248.86 46.58,248.77 46.69,248.71 46.80,248.67 46.90,248.66 47.01,248.67 47.12,248.73 47.23,248.86 47.33,249.05 47.44,249.30 47.55,249.55 47.66,249.75 47.76,249.91 47.87,250.02 47.98,250.11 48.09,250.17 48.19,250.21 48.30,250.21 48.41,250.16 48.52,250.04 48.62,249.85 48.73,249.60 48.84,249.34 48.95,249.12 49.06,248.94 49.16,248.81 49.27,248.72 49.38,248.68 49.49,248.66 49.59,248.70 49.70,248.78 49.81,248.91 49.92,249.10 50.02,249.29 50.13,249.49 50.24,249.66 50.35,249.79 50.45,249.88 50.56,249.95 50.67,249.96 50.78,249.93 50.88,249.87 50.99,249.77 51.10,249.65 51.21,249.52 51.31,249.40 51.42,249.30 51.53,249.22 51.64,249.17 51.74,249.14 51.85,249.14 51.96,249.16 52.07,249.20 52.17,249.27 52.28,249.34 52.39,249.42 52.50,249.50 52.61,249.57 52.71,249.63 52.82,249.68 52.93,249.72 53.04,249.76 53.14,249.78 53.25,249.78 53.36,249.77 53.47,249.73 53.57,249.67 53.68,249.60 53.79,249.51 53.90,249.40 54.00,249.29 54.11,249.18 54.22,249.08 54.33,248.98 54.43,248.90 54.54,248.83 54.65,248.78 54.76,248.77 54.86,248.80 54.97,248.87 55.08,248.98 55.19,249.13 55.29,249.30 55.40,249.48 55.51,249.67 55.62,249.85 55.73,250.00 55.83,250.11 55.94,250.20 56.05,250.24 56.16,250.25 56.26,250.20 56.37,250.12 56.48,249.98 56.59,249.80 56.69,249.61 56.80,249.41 56.91,249.22 57.02,249.06 57.12,248.93 57.23,248.83 57.34,248.76 57.45,248.74 57.55,248.76 57.66,248.81 57.77,248.90 57.88,249.02 57.98,249.16 58.09,249.31 58.20,249.45 58.31,249.58 58.41,249.70 58.52,249.79 58.63,249.85 58.74,249.88 58.84,249.88 58.95,249.85 59.06,249.79 59.17,249.70 59.28,249.61 59.38,249.50 59.49,249.40 59.60,249.31 59.71,249.23 59.81,249.16 59.92,249.12 60.03,249.10 60.14,249.11 60.24,249.16 60.35,249.22 60.46,249.32 60.57,249.42 60.67,249.53 60.78,249.63 60.89,249.72 61.00,249.79 61.10,249.82 61.21,249.83 61.32,249.80 61.43,249.73 61.53,249.61 61.64,249.48 61.75,249.34 61.86,249.21 61.96,249.09 62.07,248.99 62.18,248.92 62.29,248.88 62.39,248.87 62.50,248.91 62.61,248.99 62.72,249.13 62.83,249.30 62.93,249.49 63.04,249.67 63.15,249.82 63.26,249.93 63.36,250.01 63.47,250.06 63.58,250.07 63.69,250.03 63.79,249.94 63.90,249.79 64.01,249.61 64.12,249.42 64.22,249.26 64.33,249.13 64.44,249.05 64.55,249.00 64.65,248.99 64.76,249.02 64.87,249.08 64.98,249.17 65.08,249.29 65.19,249.42 65.30,249.54 65.41,249.63 65.51,249.69 65.62,249.71 65.73,249.69 65.84,249.64 65.95,249.56 66.05,249.45 66.16,249.32 66.27,249.21 66.38,249.12 66.48,249.05 66.59,249.04 66.70,249.06 66.81,249.12 66.91,249.21 67.02,249.33 67.13,249.47 67.24,249.62 67.34,249.77 67.45,249.89 67.56,249.96 67.67,249.99 67.77,249.96 67.88,249.90 67.99,249.81 68.10,249.68 68.20,249.51 68.31,249.32 68.42,249.13 68.53,248.96 68.63,248.82 68.74,248.75 68.85,248.74 68.96,248.79 69.06,248.88 69.17,249.02 69.28,249.19 69.39,249.40 69.50,249.62 69.60,249.83 69.71,250.01 69.82,250.12 69.93,250.16 70.03,250.15 70.14,250.08 70.25,249.96 70.36,249.78 70.46,249.56 70.57,249.31 70.68,249.07 70.79,248.86 70.89,248.70 71.00,248.61 71.11,248.59 71.22,248.62 71.32,248.72 71.43,248.87 71.54,249.09 71.65,249.35 71.75,249.63 71.86,249.89 71.97,250.10 72.08,250.24 72.18,250.33 72.29,250.37 72.40,250.36 72.51,250.28 72.62,250.15 72.72,249.94 72.83,249.66 72.94,249.36 73.05,249.07 73.15,248.84 73.26,248.66 73.37,248.54 73.48,248.46 73.58,248.43 73.69,248.45 73.80,248.51 73.91,248.63 74.01,248.82 74.12,249.07 74.23,249.37 74.34,249.66 74.44,249.91 74.55,250.11 74.66,250.25 74.77,250.34 74.87,250.39 74.98,250.40 75.09,250.37 75.20,250.30 75.30,250.17 75.41,249.99 75.52,249.77 75.63,249.52 75.73,249.26 75.84,249.01 75.95,248.79 76.06,248.63 76.17,248.51 76.27,248.44 76.38,248.40 76.49,248.42 76.60,248.47 76.70,248.57 76.81,248.71 76.92,248.90 77.03,249.16 77.13,249.47 77.24,249.77 77.35,250.07 77.46,250.31 77.56,250.49 77.67,250.59 77.78,250.64 77.89,250.63 77.99,250.58 78.10,250.46 78.21,250.31 78.32,250.08 78.42,249.79 78.53,249.44 78.64,249.05 78.75,248.71 78.85,248.44 78.96,248.24 79.07,248.13 79.18,248.10 79.29,248.15 79.39,248.26 79.50,248.44 79.61,248.69 79.72,249.01 79.82,249.40 79.93,249.79 80.04,250.13 80.15,250.39 80.25,250.56 80.36,250.64 80.47,250.62 80.58,250.53 80.68,250.37 80.79,250.14 80.90,249.85 81.01,249.52 81.11,249.19 81.22,248.89 81.33,248.63 81.44,248.44 81.54,248.34 81.65,248.32 81.76,248.37 81.87,248.48 81.97,248.66 82.08,248.89 82.19,249.16 82.30,249.44 82.40,249.71 82.51,249.95 82.62,250.13 82.73,250.27 82.84,250.35 82.94,250.37 83.05,250.34 83.16,250.25 83.27,250.12 83.37,249.97 83.48,249.78 83.59,249.59 83.70,249.40 83.80,249.25 83.91,249.12 84.02,249.02 84.13,248.96 84.23,248.94 84.34,248.94 84.45,248.98 84.56,249.03 84.66,249.10 84.77,249.17 84.88,249.23 84.99,249.29 85.09,249.35 85.20,249.39 85.31,249.40 85.42,249.40 85.52,249.39 85.63,249.37 85.74,249.33 85.85,249.30 85.96,249.27 86.06,249.24 86.17,249.25 86.28,249.27 86.39,249.32 86.49,249.37 86.60,249.43 86.71,249.50 86.82,249.58 86.92,249.65 87.03,249.72 87.14,249.79 87.25,249.86 87.35,249.90 87.46,249.93 87.57,249.94 87.68,249.90 87.78,249.83 87.89,249.73 88.00,249.62 88.11,249.50 88.21,249.38 88.32,249.27 88.43,249.16 88.54,249.07 88.64,248.98 88.75,248.92 88.86,248.86 88.97,248.84 89.07,248.85 89.18,248.90 89.29,248.97 89.40,249.08 89.51,249.18 89.61,249.29 89.72,249.41 89.83,249.52 89.94,249.62 90.04,249.73 90.15,249.82 90.26,249.89 90.37,249.93 90.47,249.94 90.58,249.93 90.69,249.90 90.80,249.85 90.90,249.79 91.01,249.70 91.12,249.61 91.23,249.51 91.33,249.41 91.44,249.30 91.55,249.21 91.66,249.14 91.76,249.07 91.87,249.03 91.98,249.00 92.09,249.00 92.19,249.03 92.30,249.07 92.41,249.13 92.52,249.21 92.62,249.30 92.73,249.42 92.84,249.52 92.95,249.62 93.06,249.71 93.16,249.79 93.27,249.85 93.38,249.89 93.49,249.90 93.59,249.87 93.70,249.80 93.81,249.72 93.92,249.61 94.02,249.48 94.13,249.33 94.24,249.19 94.35,249.06 94.45,248.94 94.56,248.85 94.67,248.80 94.78,248.79 94.88,248.81 94.99,248.89 95.10,249.00 95.21,249.15 95.31,249.33 95.42,249.51 95.53,249.71 95.64,249.88 95.74,250.02 95.85,250.12 95.96,250.18 96.07,250.20 96.18,250.17 96.28,250.08 96.39,249.94 96.50,249.75 96.61,249.54 96.71,249.31 96.82,249.09 96.93,248.90 97.04,248.74 97.14,248.64 97.25,248.59 97.36,248.60 97.47,248.68 97.57,248.82 97.68,249.00 97.79,249.23 97.90,249.45 98.00,249.68 98.11,249.87 98.22,250.02 98.33,250.12 98.43,250.17 98.54,250.13 98.65,250.03 98.76,249.87 98.86,249.67 98.97,249.46 99.08,249.26 99.19,249.07 99.29,248.92 99.40,248.82 99.51,248.78 99.62,248.81 99.73,248.92 99.83,249.09 99.94,249.29 100.05,249.50 100.16,249.68 100.26,249.83 100.37,249.94 100.48,250.02 100.59,250.07 100.69,250.08 100.80,250.04 100.91,249.93 101.02,249.77 101.12,249.61 101.23,249.48 101.34,249.38 101.45,249.29 101.55,249.20 101.66,249.10 101.77,249.01 101.88,248.93 101.98,248.90 102.09,248.93 102.20,249.02 102.31,249.10 102.41,249.14 102.52,249.15 102.63,249.16 102.74,249.17 102.85,249.21 102.95,249.29 103.06,249.39 103.17,249.51 103.28,249.65 103.38,249.75 103.49,249.91 103.60,250.11 103.71,250.33 103.81,250.52 103.92,250.66 104.03,250.71 104.14,250.69 104.24,250.58 104.35,250.41 104.46,250.18 104.57,249.83 104.67,249.36 104.78,248.87 104.89,248.31 105.00,247.77 105.10,247.32 105.21,246.96 105.32,246.71 105.43,246.55"/>
<polyline class="wf wh" points="105.32,246.71 105.43,246.55 105.53,246.59 105.64,246.86 105.75,247.37 105.86,248.06 105.96,248.99 106.07,250.06 106.18,251.25 106.29,252.32 106.40,253.31 106.50,254.16 106.61,254.74 106.72,255.00 106.83,254.89 106.93,254.40 107.04,253.54 107.15,252.33 107.26,250.99 107.36,249.33 107.47,247.74 107.58,245.92 107.69,244.31 107.79,243.04 107.90,242.11 108.01,241.67 108.12,241.62 108.22,242.10 108.33,243.07 108.44,244.49 108.55,246.36 108.65,248.49 108.76,250.78 108.87,253.06 108.98,255.17 109.08,257.27 109.19,258.88 109.30,259.89 109.41,260.36 109.52,260.17 109.62,259.43 109.73,258.05 109.84,256.03 109.95,253.32 110.05,250.29 110.16,247.06 110.27,243.99 110.38,241.08 110.48,238.80 110.59,236.93 110.70,235.80 110.81,235.47 110.91,235.97 111.02,237.47 111.13,239.93 111.24,243.12 111.34,246.56 111.45,250.38 111.56,254.21 111.67,258.12 111.77,261.31 111.88,263.89 111.99,265.68 112.10,266.65 112.20,266.52 112.31,265.35 112.42,263.19 112.53,260.07 112.63,255.93 112.74,251.72 112.85,247.01 112.96,242.27 113.07,237.83 113.17,233.91 113.28,231.01 113.39,229.28 113.50,228.84 113.60,229.80 113.71,231.96 113.82,235.22 113.93,239.13 114.03,243.96 114.14,249.01 114.25,254.10 114.36,259.23 114.46,263.63 114.57,267.51 114.68,270.51 114.79,272.42 114.89,272.97 115.00,272.12 115.11,269.72 115.22,266.05 115.32,261.68 115.43,256.72 115.54,251.09 115.65,245.26 115.75,239.81 115.86,234.68 115.97,230.21 116.08,226.50 116.18,223.88 116.29,222.90 116.40,223.81 116.51,226.38 116.62,230.27 116.72,235.26 116.83,241.48 116.94,248.28 117.05,255.00 117.15,261.68 117.26,267.32 117.37,272.02 117.48,274.97 117.58,276.30 117.69,275.78 117.80,273.49 117.91,269.49 118.01,264.52 118.12,258.49 118.23,251.69 118.34,244.77 118.44,238.01 118.55,232.23 118.66,227.60 118.77,224.15 118.87,222.34 118.98,222.37 119.09,223.98 119.20,227.00 119.30,231.31 119.41,236.63 119.52,242.21 119.63,248.93 119.74,254.89 119.84,260.80 119.95,266.11 120.06,270.37 120.17,273.42 120.27,275.10 120.38,275.48 120.49,274.47 120.60,271.95 120.70,268.44 120.81,263.69 120.92,258.22 121.03,252.39 121.13,246.59 121.24,240.88 121.35,236.00 121.46,231.45 121.56,227.87 121.67,225.59 121.78,224.55 121.89,225.10 121.99,227.14 122.10,230.70 122.21,235.18 122.32,241.09 122.42,246.71 122.53,252.42 122.64,257.87 122.75,262.85 122.85,266.98 122.96,269.71 123.07,271.07 123.18,271.03 123.29,269.48 123.39,266.75 123.50,262.98 123.61,258.71 123.72,253.72 123.82,248.25 123.93,243.55 124.04,239.35 124.15,235.62 124.25,233.10 124.36,231.28 124.47,230.80 124.58,231.40 124.68,233.03 124.79,235.72 124.90,239.07 125.01,242.57 125.11,246.32 125.22,250.42 125.33,253.97 125.44,257.44 125.54,260.29 125.65,262.60 125.76,264.03 125.87,264.41 125.97,264.01 126.08,262.75 126.19,260.85 126.30,258.39 126.41,255.62 126.51,252.52 126.62,249.27 126.73,246.04 126.84,243.14 126.94,240.92 127.05,239.32 127.16,238.27 127.27,238.03 127.37,238.32 127.48,239.27 127.59,240.93 127.70,242.87 127.80,245.19 127.91,247.54 128.02,249.99 128.13,252.28 128.23,254.20 128.34,255.78 128.45,256.83 128.56,257.34 128.66,257.30 128.77,256.77 128.88,255.82 128.99,254.50 129.09,253.03 129.20,251.33 129.31,249.68 129.42,248.19 129.52,246.90 129.63,245.93 129.74,245.31 129.85,245.03 129.96,245.13 130.06,245.45 130.17,245.82 130.28,246.27 130.39,246.79 130.49,247.40 130.60,247.98 130.71,248.58 130.82,249.15 130.92,249.67 131.03,250.10"/>
<polyline class="wf wl" points="130.92,249.67 131.03,250.10 131.14,250.34 131.25,250.45 131.35,250.55 131.46,250.60 131.57,250.67 131.68,250.67 131.78,250.63 131.89,250.90 132.00,251.15 132.11,251.38 132.21,251.58 132.32,251.73 132.43,251.80"/>
<polyline class="wf wh" points="132.32,251.73 132.43,251.80 132.54,251.67 132.64,251.37 132.75,250.99 132.86,250.34 132.97,249.68 133.08,248.86 133.18,247.89 133.29,246.92 133.40,246.02 133.51,245.11 133.61,244.29 133.72,243.66 133.83,243.30 133.94,243.31 134.04,243.72 134.15,244.47 134.26,245.53 134.37,246.99 134.47,248.49 134.58,250.16 134.69,252.03 134.80,253.80 134.90,255.20 135.01,256.29 135.12,257.01 135.23,257.33 135.33,257.21 135.44,256.58 135.55,255.50 135.66,254.05 135.76,252.25 135.87,250.17 135.98,247.92 136.09,245.77 136.19,243.81 136.30,242.14 136.41,240.94 136.52,240.19 136.63,240.02 136.73,240.41 136.84,241.29 136.95,242.71 137.06,244.54 137.16,246.42 137.27,248.65 137.38,250.87 137.49,253.02 137.59,254.98 137.70,256.63 137.81,257.88 137.92,258.72 138.02,259.06 138.13,258.92 138.24,258.31 138.35,257.27 138.45,255.83 138.56,253.92 138.67,251.89 138.78,249.63 138.88,247.35 138.99,245.12 139.10,243.19 139.21,241.54 139.31,240.39 139.42,239.72 139.53,239.60 139.64,240.05 139.75,240.99 139.85,242.44 139.96,244.15 140.07,246.09 140.18,248.34 140.28,250.45 140.39,252.55 140.50,254.17 140.61,255.71 140.71,256.87 140.82,257.66 140.93,258.02 141.04,257.90 141.14,257.36 141.25,256.53 141.36,255.23 141.47,253.59 141.57,251.84 141.68,250.04 141.79,248.21 141.90,246.43 142.00,244.90 142.11,243.57 142.22,242.71 142.33,242.21 142.43,242.06 142.54,242.30 142.65,242.93 142.76,243.93 142.86,245.20 142.97,246.62 143.08,248.19 143.19,249.69 143.30,251.31 143.40,252.81 143.51,254.13 143.62,255.08 143.73,255.74 143.83,256.02 143.94,255.94 144.05,255.48 144.16,254.60 144.26,253.55 144.37,252.30 144.48,250.86 144.59,249.47 144.69,248.02 144.80,246.71 144.91,245.57 145.02,244.62 145.12,244.03 145.23,243.79 145.34,243.86 145.45,244.25 145.55,244.87 145.66,245.68 145.77,246.71 145.88,247.80 145.98,249.01 146.09,250.26 146.20,251.39 146.31,252.42 146.41,253.11 146.52,253.63 146.63,253.87 146.74,253.88 146.85,253.65 146.95,253.21 147.06,252.58 147.17,251.83 147.28,250.96 147.38,250.02 147.49,249.02 147.60,248.17 147.71,247.43 147.81,246.81 147.92,246.35 148.03,246.13 148.14,246.10 148.24,246.26 148.35,246.58 148.46,247.07 148.57,247.69 148.67,248.37 148.78,249.01 148.89,249.58 149.00,250.00"/>
<polyline class="wf wl" points="148.89,249.58 149.00,250.00 149.10,250.37 149.21,250.58 149.32,250.77 149.43,250.88 149.53,250.89 149.64,250.78 149.75,250.58 149.86,250.34 149.97,250.07 150.07,249.76 150.18,249.50 150.29,249.35 150.40,249.28 150.50,249.24 150.61,249.25 150.72,249.23 150.83,249.19 150.93,249.14 151.04,249.11 151.15,249.12 151.26,249.18 151.36,249.28 151.47,249.40 151.58,249.51 151.69,249.60 151.79,249.68 151.90,249.70 152.01,249.72 152.12,249.73 152.22,249.73 152.33,249.73 152.44,249.71 152.55,249.68 152.65,249.62 152.76,249.52 152.87,249.41 152.98,249.26 153.08,249.10 153.19,248.98 153.30,248.88 153.41,248.87 153.52,248.88 153.62,248.93 153.73,248.95 153.84,249.02 153.95,249.07 154.05,249.15 154.16,249.25 154.27,249.39 154.38,249.56 154.48,249.74 154.59,249.95 154.70,250.10 154.81,250.22 154.91,250.26 155.02,250.20 155.13,250.09 155.24,249.99 155.34,249.89 155.45,249.79 155.56,249.68 155.67,249.53 155.77,249.36 155.88,249.16 155.99,248.96 156.10,248.77 156.20,248.60 156.31,248.51 156.42,248.52 156.53,248.62 156.64,248.76 156.74,248.90 156.85,249.02 156.96,249.15 157.07,249.30 157.17,249.48 157.28,249.66 157.39,249.86 157.50,250.05 157.60,250.20 157.71,250.27 157.82,250.24 157.93,250.14 158.03,250.00 158.14,249.87 158.25,249.76 158.36,249.66 158.46,249.54 158.57,249.40 158.68,249.25 158.79,249.08 158.89,248.92 159.00,248.79 159.11,248.72 159.22,248.73 159.32,248.81 159.43,248.91 159.54,249.00 159.65,249.08 159.75,249.15 159.86,249.24 159.97,249.34 160.08,249.48 160.19,249.62 160.29,249.77 160.40,249.91 160.51,250.03 160.62,250.12 160.72,250.17 160.83,250.20 160.94,250.16 161.05,250.10 161.15,250.01 161.26,249.88 161.37,249.73 161.48,249.55 161.58,249.34 161.69,249.11 161.80,248.88 161.91,248.68 162.01,248.49 162.12,248.33 162.23,248.23 162.34,248.19 162.44,248.23 162.55,248.36 162.66,248.56 162.77,248.81 162.87,249.07 162.98,249.36 163.09,249.64 163.20,249.92 163.31,250.21 163.41,250.49 163.52,250.72 163.63,250.91 163.74,251.05 163.84,251.09 163.95,250.98 164.06,250.76 164.17,250.44 164.27,250.07 164.38,249.70 164.49,249.35 164.60,249.00 164.70,248.68 164.81,248.38 164.92,248.11 165.03,247.88 165.13,247.73 165.24,247.72 165.35,247.84 165.46,248.06 165.56,248.31 165.67,248.52 165.78,248.77 165.89,249.08 165.99,249.44 166.10,249.87 166.21,250.34 166.32,250.80 166.42,251.18 166.53,251.52 166.64,251.74 166.75,251.87 166.86,251.90 166.96,251.81 167.07,251.61"/>
<polyline class="wf wh" points="166.96,251.81 167.07,251.61 167.18,251.25 167.29,250.74 167.39,250.10 167.50,249.38 167.61,248.64 167.72,247.93 167.82,247.17 167.93,246.49 168.04,245.94 168.15,245.56 168.25,245.48 168.36,245.73 168.47,246.20 168.58,246.89 168.68,247.70 168.79,248.62 168.90,249.57 169.01,250.50 169.11,251.35 169.22,252.07 169.33,252.70 169.44,253.15 169.54,253.36 169.65,253.35 169.76,253.13 169.87,252.65 169.97,251.99 170.08,251.12 170.19,250.21 170.30,249.19 170.41,248.24 170.51,247.34 170.62,246.52 170.73,245.90 170.84,245.47 170.94,245.24 171.05,245.28 171.16,245.67 171.27,246.45 171.37,247.43 171.48,248.61 171.59,249.82 171.70,251.05 171.80,252.25 171.91,253.24 172.02,253.92 172.13,254.25 172.23,254.17 172.34,253.75 172.45,252.95 172.56,251.88 172.66,250.57 172.77,249.20 172.88,247.79 172.99,246.54 173.09,245.47 173.20,244.68 173.31,244.23 173.42,244.19 173.53,244.48 173.63,245.01 173.74,245.84 173.85,246.89 173.96,248.11 174.06,249.38 174.17,250.63 174.28,251.84 174.39,252.96 174.49,253.90 174.60,254.68 174.71,255.12 174.82,255.21 174.92,254.96 175.03,254.33 175.14,253.47 175.25,252.39 175.35,251.14 175.46,249.85 175.57,248.48 175.68,247.16 175.78,245.88 175.89,244.79 176.00,243.95 176.11,243.45 176.21,243.25 176.32,243.42 176.43,244.02 176.54,245.09 176.64,246.53 176.75,248.23 176.86,250.12 176.97,251.92 177.08,253.48 177.18,254.78 177.29,255.71 177.40,256.23 177.51,256.27 177.61,255.82 177.72,254.92 177.83,253.66 177.94,251.81 178.04,249.83 178.15,248.00 178.26,246.06 178.37,244.40 178.47,243.12 178.58,242.16 178.69,241.72 178.80,241.85 178.90,242.58 179.01,243.75 179.12,245.37 179.23,247.37 179.33,249.53 179.44,251.71 179.55,253.74 179.66,255.56 179.76,256.84 179.87,257.66 179.98,257.96 180.09,257.60 180.20,256.60 180.30,255.09 180.41,253.19 180.52,251.01 180.63,248.63 180.73,246.33 180.84,244.18 180.95,242.37 181.06,241.00 181.16,240.24 181.27,240.21 181.38,240.90 181.49,242.28 181.59,244.33 181.70,246.77 181.81,249.19 181.92,251.91 182.02,254.42 182.13,256.53 182.24,258.12 182.35,259.05 182.45,259.23 182.56,258.58 182.67,257.20 182.78,255.09 182.88,252.50 182.99,249.81 183.10,247.09 183.21,244.52 183.31,242.17 183.42,240.44 183.53,239.39 183.64,239.21 183.75,239.76 183.85,240.86 183.96,242.51 184.07,244.80 184.18,247.15 184.28,249.60 184.39,252.09 184.50,254.54 184.61,256.54 184.71,258.03 184.82,259.03 184.93,259.46 185.04,259.25 185.14,258.37 185.25,256.77 185.36,254.72 185.47,252.37 185.57,249.90 185.68,247.49 185.79,245.08 185.90,242.90 186.00,241.20 186.11,240.09 186.22,239.56 186.33,239.69 186.43,240.52 186.54,241.99 186.65,244.01 186.76,246.40 186.87,249.09 186.97,251.70 187.08,254.12 187.19,256.26 187.30,257.84 187.40,258.77 187.51,258.97 187.62,258.46 187.73,257.29 187.83,255.64 187.94,253.51 188.05,251.20 188.16,248.77 188.26,246.35 188.37,244.05 188.48,242.32 188.59,241.00 188.69,240.32 188.80,240.30 188.91,240.92 189.02,242.03 189.12,243.63 189.23,245.38 189.34,247.37 189.45,249.35 189.55,251.36 189.66,253.32 189.77,254.99 189.88,256.34 189.98,257.24 190.09,257.70 190.20,257.69 190.31,257.23 190.42,256.38 190.52,255.20 190.63,253.65 190.74,251.86 190.85,250.08 190.95,248.25 191.06,246.64 191.17,245.13 191.28,243.80 191.38,242.87 191.49,242.26 191.60,242.09 191.71,242.40 191.81,243.22 191.92,244.45 192.03,246.11 192.14,248.04 192.24,249.96 192.35,251.87 192.46,253.48 192.57,254.78 192.67,255.67 192.78,256.01 192.89,255.84 193.00,255.15 193.10,254.03 193.21,252.60 193.32,250.87 193.43,249.29 193.54,247.53 193.64,245.89 193.75,244.67 193.86,243.90 193.97,243.53 194.07,243.64 194.18,244.12 194.29,244.86 194.40,245.86 194.50,247.07 194.61,248.43 194.72,249.89 194.83,251.26 194.93,252.38 195.04,253.44 195.15,254.28 195.26,254.87 195.36,255.08 195.47,254.99 195.58,254.57 195.69,253.84 195.79,252.93 195.90,251.71 196.01,250.42 196.12,249.02 196.22,247.67 196.33,246.44 196.44,245.36 196.55,244.53 196.65,244.05 196.76,243.88 196.87,244.03 196.98,244.53 197.09,245.31 197.19,246.37 197.30,247.58 197.41,248.92 197.52,250.13 197.62,251.49 197.73,252.82 197.84,253.87 197.95,254.64 198.05,255.06 198.16,255.14 198.27,254.88 198.38,254.28 198.48,253.38 198.59,252.23 198.70,250.94 198.81,249.51 198.91,248.05 199.02,246.65 199.13,245.46 199.24,244.49 199.34,243.84 199.45,243.56 199.56,243.56 199.67,243.87 199.77,244.47 199.88,245.40 199.99,246.49 200.10,247.79 200.20,249.19 200.31,250.60 200.42,251.97 200.53,253.24 200.64,254.31 200.74,255.08 200.85,255.56 200.96,255.66 201.07,255.41 201.17,254.82 201.28,253.93 201.39,252.77 201.50,251.41 201.60,249.89 201.71,248.18 201.82,246.62 201.93,245.30 202.03,244.19 202.14,243.40 202.25,242.98 202.36,242.95 202.46,243.31 202.57,244.17 202.68,245.29 202.79,246.75 202.89,248.34 203.00,249.97 203.11,251.60 203.22,253.35 203.32,254.82 203.43,255.86 203.54,256.53 203.65,256.78 203.76,256.56 203.86,255.85 203.97,254.62 204.08,253.06 204.19,251.19 204.29,249.26 204.40,247.44 204.51,245.64 204.62,244.09 204.72,242.71 204.83,241.78 204.94,241.26 205.05,241.27 205.15,241.78 205.26,242.79 205.37,244.15 205.48,245.79 205.58,247.78 205.69,249.80 205.80,251.70 205.91,253.70 206.01,255.30 206.12,256.68 206.23,257.66 206.34,258.12 206.44,258.08 206.55,257.53 206.66,256.49 206.77,255.09 206.87,253.23 206.98,251.25 207.09,249.17 207.20,246.91 207.31,244.95 207.41,243.28 207.52,241.82 207.63,240.79 207.74,240.26 207.84,240.32 207.95,240.95 208.06,242.18 208.17,243.87 208.27,245.97 208.38,248.16 208.49,250.40 208.60,252.58 208.70,254.61 208.81,256.36 208.92,257.70 209.03,258.41 209.13,258.67 209.24,258.34 209.35,257.47 209.46,256.19 209.56,254.41 209.67,252.50 209.78,250.16 209.89,247.96 209.99,245.79 210.10,243.84 210.21,242.19 210.32,241.07 210.43,240.37 210.53,240.25 210.64,240.77 210.75,241.83 210.86,243.33 210.96,245.07 211.07,247.15 211.18,249.53 211.29,251.71 211.39,253.73 211.50,255.48 211.61,256.88 211.72,257.69 211.82,258.06 211.93,257.82 212.04,257.03 212.15,255.78 212.25,254.01 212.36,252.12 212.47,249.98 212.58,247.89 212.68,246.03 212.79,244.31 212.90,242.91 213.01,242.00 213.11,241.56 213.22,241.61 213.33,242.07 213.44,242.93 213.54,244.21 213.65,245.73 213.76,247.56 213.87,249.52 213.98,251.52 214.08,253.35 214.19,254.86 214.30,256.08 214.41,256.84 214.51,257.23 214.62,257.16 214.73,256.59 214.84,255.64 214.94,254.29 215.05,252.70 215.16,250.81 215.27,248.83 215.37,247.00 215.48,245.11 215.59,243.61 215.70,242.55 215.80,241.84 215.91,241.53 216.02,241.60 216.13,241.99 216.23,242.62 216.34,243.60 216.45,244.71 216.56,246.09 216.66,247.77 216.77,249.37 216.88,250.99 216.99,252.61 217.10,253.95 217.20,255.14 217.31,256.03 217.42,256.71 217.53,257.12 217.63,257.23 217.74,257.03 217.85,256.50 217.96,255.65 218.06,254.50 218.17,253.17 218.28,251.75 218.39,250.12 218.49,248.46 218.60,247.00 218.71,245.73 218.82,244.44 218.92,243.27 219.03,242.36 219.14,241.81 219.25,241.52 219.35,241.65 219.46,242.32 219.57,243.38 219.68,244.87 219.78,246.61 219.89,248.43 220.00,250.35 220.11,252.08 220.21,253.64 220.32,254.94 220.43,255.87 220.54,256.45 220.65,256.56 220.75,256.23 220.86,255.51 220.97,254.40 221.08,253.01 221.18,251.40 221.29,249.74 221.40,248.10 221.51,246.49 221.61,245.19 221.72,244.15 221.83,243.48 221.94,243.11 222.04,243.10 222.15,243.40 222.26,244.07 222.37,244.99 222.47,246.21 222.58,247.56 222.69,249.00 222.80,250.36 222.90,251.81 223.01,253.11 223.12,254.14 223.23,254.92 223.33,255.40 223.44,255.58 223.55,255.43 223.66,254.92 223.76,254.11 223.87,253.02 223.98,251.80 224.09,250.52 224.20,249.10 224.30,247.75 224.41,246.37 224.52,245.26 224.63,244.36 224.73,243.80 224.84,243.60 224.95,243.81 225.06,244.34 225.16,245.18 225.27,246.20 225.38,247.35 225.49,248.55 225.59,249.65 225.70,250.73 225.81,251.64 225.92,252.40 226.02,252.97 226.13,253.28 226.24,253.37 226.35,253.22 226.45,252.83 226.56,252.30 226.67,251.67"/>
<polyline class="wf wl" points="226.56,252.30 226.67,251.67 226.78,250.96 226.88,250.23 226.99,249.62 227.10,249.03 227.21,248.56 227.32,248.19 227.42,247.86 227.53,247.62 227.64,247.40 227.75,247.30 227.85,247.31 227.96,247.45 228.07,247.71 228.18,248.05 228.28,248.40 228.39,248.79 228.50,249.12 228.61,249.45 228.71,249.74 228.82,250.02 228.93,250.29 229.04,250.55 229.14,250.76 229.25,250.91 229.36,250.96 229.47,250.90 229.57,250.76 229.68,250.57 229.79,250.37 229.90,250.17 230.00,249.99 230.11,249.81 230.22,249.60 230.33,249.32 230.43,248.96 230.54,248.58 230.65,248.28 230.76,248.14 230.87,248.14 230.97,248.22 231.08,248.34 231.19,248.50 231.30,248.67 231.40,248.84 231.51,249.07 231.62,249.35 231.73,249.74 231.83,250.17 231.94,250.51 232.05,250.67 232.16,250.68 232.26,250.58 232.37,250.44 232.48,250.27 232.59,250.10 232.69,249.89 232.80,249.66 232.91,249.36 233.02,249.00 233.12,248.62 233.23,248.34 233.34,248.21 233.45,248.19 233.55,248.25 233.66,248.40 233.77,248.57 233.88,248.76 233.99,248.99 234.09,249.29 234.20,249.65 234.31,250.05 234.42,250.41 234.52,250.66 234.63,250.80 234.74,250.81 234.85,250.72 234.95,250.57 235.06,250.39 235.17,250.15 235.28,249.85 235.38,249.49 235.49,249.08 235.60,248.67 235.71,248.32 235.81,248.08 235.92,247.95 236.03,247.91 236.14,247.99 236.24,248.16 236.35,248.41 236.46,248.75 236.57,249.17 236.67,249.65 236.78,250.16 236.89,250.63 237.00,251.03 237.10,251.29 237.21,251.40 237.32,251.34 237.43,251.16 237.54,250.85 237.64,250.45 237.75,249.95 237.86,249.40 237.97,248.82 238.07,248.28 238.18,247.80 238.29,247.44 238.40,247.23 238.50,247.18 238.61,247.31 238.72,247.59 238.83,248.00 238.93,248.50 239.04,249.12 239.15,249.79 239.26,250.39 239.36,250.94 239.47,251.38 239.58,251.66 239.69,251.79 239.79,251.73 239.90,251.50 240.01,251.12 240.12,250.61 240.22,250.04 240.33,249.42 240.44,248.83 240.55,248.33 240.66,247.86 240.76,247.56 240.87,247.37 240.98,247.32 241.09,247.40 241.19,247.60 241.30,247.90 241.41,248.29 241.52,248.77 241.62,249.21 241.73,249.70 241.84,250.13 241.95,250.48 242.05,250.76 242.16,250.97 242.27,251.08 242.38,251.12 242.48,251.08 242.59,250.92 242.70,250.67 242.81,250.37 242.91,250.00 243.02,249.66 243.13,249.34 243.24,249.05 243.34,248.75 243.45,248.47 243.56,248.21 243.67,248.00 243.77,247.85 243.88,247.80 243.99,247.86 244.10,248.02 244.21,248.25 244.31,248.46 244.42,248.71 244.53,249.07 244.64,249.45 244.74,249.91 244.85,250.36 244.96,250.71 245.07,251.01 245.17,251.21 245.28,251.31 245.39,251.34 245.50,251.29 245.60,251.12 245.71,250.82 245.82,250.37 245.93,249.83 246.03,249.27 246.14,248.70 246.25,248.13 246.36,247.64 246.46,247.21 246.57,246.87 246.68,246.68 246.79,246.68 246.89,246.90 247.00,247.32 247.11,247.89 247.22,248.58 247.33,249.31 247.43,250.05 247.54,250.80 247.65,251.50 247.76,252.12 247.86,252.56 247.97,252.77 248.08,252.73 248.19,252.45 248.29,252.00 248.40,251.37 248.51,250.61 248.62,249.74 248.72,248.83 248.83,247.93 248.94,247.11 249.05,246.46 249.15,246.00 249.26,245.81 249.37,245.85 249.48,246.12 249.58,246.61 249.69,247.27 249.80,248.12 249.91,249.02 250.01,249.91 250.12,250.75 250.23,251.45 250.34,251.94 250.44,252.24 250.55,252.32 250.66,252.24 250.77,252.00 250.88,251.63 250.98,251.11 251.09,250.46 251.20,249.83 251.31,249.20 251.41,248.62 251.52,248.17 251.63,247.84 251.74,247.65 251.84,247.57 251.95,247.61 252.06,247.73 252.17,247.92 252.27,248.21 252.38,248.55 252.49,248.94 252.60,249.36 252.70,249.75 252.81,250.11 252.92,250.40 253.03,250.64 253.13,250.81 253.24,250.91 253.35,250.92 253.46,250.86 253.56,250.72 253.67,250.50 253.78,250.24 253.89,249.93 253.99,249.62 254.10,249.28 254.21,248.93 254.32,248.63 254.43,248.38 254.53,248.18 254.64,248.05 254.75,248.00 254.86,248.02 254.96,248.12 255.07,248.30 255.18,248.54 255.29,248.82 255.39,249.13 255.50,249.46 255.61,249.77 255.72,250.07 255.82,250.35 255.93,250.58 256.04,250.75 256.15,250.84 256.25,250.85 256.36,250.79 256.47,250.66 256.58,250.45 256.68,250.18 256.79,249.89 256.90,249.56 257.01,249.22 257.11,248.87 257.22,248.53 257.33,248.22 257.44,247.97 257.55,247.82 257.65,247.78 257.76,247.85 257.87,248.02 257.98,248.25 258.08,248.57 258.19,248.91 258.30,249.28 258.41,249.72 258.51,250.16 258.62,250.61 258.73,250.99 258.84,251.26 258.94,251.37 259.05,251.34 259.16,251.21 259.27,251.00 259.37,250.69 259.48,250.37 259.59,249.98 259.70,249.50 259.80,248.95 259.91,248.37 260.02,247.85 260.13,247.50 260.23,247.32 260.34,247.30 260.45,247.39 260.56,247.59 260.66,247.85 260.77,248.19 260.88,248.57 260.99,249.03 261.10,249.55 261.20,250.12 261.31,250.68 261.42,251.13 261.53,251.41 261.63,251.51 261.74,251.47 261.85,251.31 261.96,251.06 262.06,250.76 262.17,250.43 262.28,250.02 262.39,249.58 262.49,249.12 262.60,248.69 262.71,248.30 262.82,247.99 262.92,247.81 263.03,247.75 263.14,247.80 263.25,247.91 263.35,248.11 263.46,248.32 263.57,248.55 263.68,248.80 263.78,249.08 263.89,249.38 264.00,249.66 264.11,249.96 264.22,250.21 264.32,250.40 264.43,250.51 264.54,250.54 264.65,250.52 264.75,250.45 264.86,250.34 264.97,250.20 265.08,250.03 265.18,249.83 265.29,249.62 265.40,249.40 265.51,249.19 265.61,249.00 265.72,248.86 265.83,248.77 265.94,248.74 266.04,248.76 266.15,248.82 266.26,248.91 266.37,249.04 266.47,249.18 266.58,249.33 266.69,249.48 266.80,249.61 266.90,249.71 267.01,249.78 267.12,249.83 267.23,249.84 267.33,249.84 267.44,249.83 267.55,249.80 267.66,249.76 267.77,249.71 267.87,249.65 267.98,249.58 268.09,249.50 268.20,249.41 268.30,249.32 268.41,249.24 268.52,249.15 268.63,249.06 268.73,248.99 268.84,248.91 268.95,248.86 269.06,248.84 269.16,248.83 269.27,248.86 269.38,248.91 269.49,249.00 269.59,249.13 269.70,249.30 269.81,249.50 269.92,249.72 270.02,249.92 270.13,250.10 270.24,250.24 270.35,250.34 270.45,250.40 270.56,250.41 270.67,250.39 270.78,250.31 270.89,250.18 270.99,249.98 271.10,249.70 271.21,249.38 271.32,249.04 271.42,248.75 271.53,248.52 271.64,248.37 271.75,248.27 271.85,248.22 271.96,248.21 272.07,248.25 272.18,248.34 272.28,248.50 272.39,248.74 272.50,249.08 272.61,249.48 272.71,249.89 272.82,250.22 272.93,250.47 273.04,250.63 273.14,250.72 273.25,250.76 273.36,250.75 273.47,250.70 273.57,250.58 273.68,250.36 273.79,250.03 273.90,249.60 274.00,249.14 274.11,248.74 274.22,248.44 274.33,248.25 274.44,248.14 274.54,248.09 274.65,248.09 274.76,248.15 274.87,248.27 274.97,248.47 275.08,248.78 275.19,249.18 275.30,249.63 275.40,250.04 275.51,250.36 275.62,250.57 275.73,250.69 275.83,250.74 275.94,250.75 276.05,250.71 276.16,250.62 276.26,250.46 276.37,250.21 276.48,249.87 276.59,249.48 276.69,249.08 276.80,248.74 276.91,248.47 277.02,248.30 277.12,248.19 277.23,248.13 277.34,248.12 277.45,248.15 277.55,248.22 277.66,248.36 277.77,248.57 277.88,248.84 277.99,249.17 278.09,249.52 278.20,249.86 278.31,250.13 278.42,250.33 278.52,250.45 278.63,250.51 278.74,250.54 278.85,250.52 278.95,250.47 279.06,250.38 279.17,250.25 279.28,250.05 279.38,249.80 279.49,249.52 279.60,249.24 279.71,248.99 279.81,248.82 279.92,248.71 280.03,248.65 280.14,248.64 280.24,248.66 280.35,248.72 280.46,248.81 280.57,248.94 280.67,249.11 280.78,249.29 280.89,249.47 281.00,249.63 281.11,249.74 281.21,249.81 281.32,249.84 281.43,249.84 281.54,249.80 281.64,249.74 281.75,249.66 281.86,249.56 281.97,249.44 282.07,249.31 282.18,249.21 282.29,249.14 282.40,249.10 282.50,249.08 282.61,249.11 282.72,249.16 282.83,249.24 282.93,249.36 283.04,249.48 283.15,249.62 283.26,249.74 283.36,249.84 283.47,249.90 283.58,249.94 283.69,249.95 283.79,249.93 283.90,249.88 284.01,249.78 284.12,249.65 284.22,249.48 284.33,249.29 284.44,249.12 284.55,248.97 284.66,248.86 284.76,248.78 284.87,248.74 284.98,248.72 285.09,248.73 285.19,248.78 285.30,248.86 285.41,249.00 285.52,249.20 285.62,249.43 285.73,249.66 285.84,249.86 285.95,250.00 286.05,250.09 286.16,250.14 286.27,250.16 286.38,250.15 286.48,250.11 286.59,250.03 286.70,249.91 286.81,249.73 286.91,249.52 287.02,249.30 287.13,249.10 287.24,248.96 287.34,248.87 287.45,248.82 287.56,248.81 287.67,248.83 287.78,248.88 287.88,248.97 287.99,249.10 288.10,249.26 288.21,249.44 288.31,249.61 288.42,249.74 288.53,249.83 288.64,249.88 288.74,249.90 288.85,249.89 288.96,249.84 289.07,249.77 289.17,249.66 289.28,249.53 289.39,249.40 289.50,249.28 289.60,249.18 289.71,249.11 289.82,249.07 289.93,249.05 290.03,249.05 290.14,249.09 290.25,249.16 290.36,249.26 290.46,249.37 290.57,249.48 290.68,249.58 290.79,249.66 290.89,249.72 291.00,249.75 291.11,249.74 291.22,249.72 291.33,249.67 291.43,249.60 291.54,249.54 291.65,249.47 291.76,249.41 291.86,249.37 291.97,249.36 292.08,249.35 292.19,249.38 292.29,249.42 292.40,249.47 292.51,249.52 292.62,249.55 292.72,249.56 292.83,249.54 292.94,249.51 293.05,249.44 293.15,249.34 293.26,249.24 293.37,249.13 293.48,249.02 293.58,248.94 293.69,248.89 293.80,248.89 293.91,248.94 294.01,249.04 294.12,249.18 294.23,249.37 294.34,249.56 294.45,249.76 294.55,249.93 294.66,250.06 294.77,250.15 294.88,250.18 294.98,250.16 295.09,250.10 295.20,249.98 295.31,249.79 295.41,249.56 295.52,249.31 295.63,249.05 295.74,248.84 295.84,248.69 295.95,248.60 296.06,248.56 296.17,248.57 296.27,248.64 296.38,248.76 296.49,248.95 296.60,249.20 296.70,249.50 296.81,249.78 296.92,250.01 297.03,250.18 297.13,250.28 297.24,250.32 297.35,250.32 297.46,250.28 297.56,250.19 297.67,250.03 297.78,249.82 297.89,249.54 298.00,249.25 298.10,248.97 298.21,248.77 298.32,248.64 298.43,248.56 298.53,248.53 298.64,248.53 298.75,248.58 298.86,248.67 298.96,248.81 299.07,249.03 299.18,249.30 299.29,249.59 299.39,249.85 299.50,250.04 299.61,250.17 299.72,250.25 299.82,250.29 299.93,250.29 300.04,250.25 300.15,250.18 300.25,250.06 300.36,249.90 300.47,249.69 300.58,249.45 300.68,249.21 300.79,249.00 300.90,248.83 301.01,248.72 301.12,248.65 301.22,248.62 301.33,248.61 301.44,248.64 301.55,248.70 301.65,248.79 301.76,248.94 301.87,249.13 301.98,249.36 302.08,249.59 302.19,249.81 302.30,249.98 302.41,250.09 302.51,250.17 302.62,250.20 302.73,250.20 302.84,250.18 302.94,250.12 303.05,250.03 303.16,249.89 303.27,249.71 303.37,249.49 303.48,249.27 303.59,249.08 303.70,248.94 303.80,248.84 303.91,248.79 304.02,248.77 304.13,248.78 304.23,248.81 304.34,248.88 304.45,248.98"/>
<line x1="100.05" y1="182.3" x2="100.05" y2="317.4" class="rd"/>
<line x1="143.08" y1="182.3" x2="143.08" y2="317.4" class="rd"/>
<rect x="35.5" y="182.3" width="268.95" height="135.10" class="ax"/>
<line x1="89.29" y1="317.4" x2="89.29" y2="314.7" class="tk"/>
<line x1="89.29" y1="182.3" x2="89.29" y2="185.0" class="tk"/>
<line x1="143.08" y1="317.4" x2="143.08" y2="314.7" class="tk"/>
<line x1="143.08" y1="182.3" x2="143.08" y2="185.0" class="tk"/>
<line x1="196.87" y1="317.4" x2="196.87" y2="314.7" class="tk"/>
<line x1="196.87" y1="182.3" x2="196.87" y2="185.0" class="tk"/>
<line x1="250.66" y1="317.4" x2="250.66" y2="314.7" class="tk"/>
<line x1="250.66" y1="182.3" x2="250.66" y2="185.0" class="tk"/>
<line x1="35.5" y1="300.51" x2="38.2" y2="300.51" class="tk"/>
<line x1="304.45" y1="300.51" x2="301.75" y2="300.51" class="tk"/>
<line x1="35.5" y1="283.62" x2="38.2" y2="283.62" class="tk"/>
<line x1="304.45" y1="283.62" x2="301.75" y2="283.62" class="tk"/>
<line x1="35.5" y1="266.74" x2="38.2" y2="266.74" class="tk"/>
<line x1="304.45" y1="266.74" x2="301.75" y2="266.74" class="tk"/>
<line x1="35.5" y1="249.85" x2="38.2" y2="249.85" class="tk"/>
<line x1="304.45" y1="249.85" x2="301.75" y2="249.85" class="tk"/>
<line x1="35.5" y1="232.96" x2="38.2" y2="232.96" class="tk"/>
<line x1="304.45" y1="232.96" x2="301.75" y2="232.96" class="tk"/>
<line x1="35.5" y1="216.07" x2="38.2" y2="216.07" class="tk"/>
<line x1="304.45" y1="216.07" x2="301.75" y2="216.07" class="tk"/>
<line x1="35.5" y1="199.19" x2="38.2" y2="199.19" class="tk"/>
<line x1="304.45" y1="199.19" x2="301.75" y2="199.19" class="tk"/>
<text x="36.00" y="327.90" class="tl" text-anchor="middle">60</text>
<text x="89.79" y="327.90" class="tl" text-anchor="middle">80</text>
<text x="143.58" y="327.90" class="tl" text-anchor="middle">100</text>
<text x="197.37" y="327.90" class="tl" text-anchor="middle">120</text>
<text x="251.16" y="327.90" class="tl" text-anchor="middle">140</text>
<text x="304.95" y="327.90" class="tl" text-anchor="middle">160</text>
<text x="32.40" y="320.70" class="tl" text-anchor="end">–0.8</text>
<text x="32.40" y="303.81" class="tl" text-anchor="end">–0.6</text>
<text x="32.40" y="286.93" class="tl" text-anchor="end">–0.4</text>
<text x="32.40" y="270.04" class="tl" text-anchor="end">–0.2</text>
<text x="32.40" y="253.15" class="tl" text-anchor="end">0</text>
<text x="32.40" y="236.26" class="tl" text-anchor="end">0.2</text>
<text x="32.40" y="219.38" class="tl" text-anchor="end">0.4</text>
<text x="32.40" y="202.49" class="tl" text-anchor="end">0.6</text>
<text x="32.40" y="185.60" class="tl" text-anchor="end">0.8</text>
<text x="169.17" y="341.40" class="al" text-anchor="middle">Time [μs]</text>
<text transform="translate(7.40,248.95) rotate(-90)" class="al" text-anchor="middle">Laser Signal [V]</text>
<text x="42.60" y="195.90" class="pl">(c)</text>
<line x1="416.02" y1="182.3" x2="416.02" y2="317.4" class="gr gv"/>
<line x1="469.84" y1="182.3" x2="469.84" y2="317.4" class="gr gv"/>
<line x1="523.66" y1="182.3" x2="523.66" y2="317.4" class="gr gv"/>
<line x1="577.48" y1="182.3" x2="577.48" y2="317.4" class="gr gv"/>
<line x1="362.2" y1="300.51" x2="631.3" y2="300.51" class="gr gh"/>
<line x1="362.2" y1="283.62" x2="631.3" y2="283.62" class="gr gh"/>
<line x1="362.2" y1="266.74" x2="631.3" y2="266.74" class="gr gh"/>
<line x1="362.2" y1="249.85" x2="631.3" y2="249.85" class="gr gh"/>
<line x1="362.2" y1="232.96" x2="631.3" y2="232.96" class="gr gh"/>
<line x1="362.2" y1="216.07" x2="631.3" y2="216.07" class="gr gh"/>
<line x1="362.2" y1="199.19" x2="631.3" y2="199.19" class="gr gh"/>
<polyline class="wf wl" points="362.20,250.09 362.31,250.13 362.42,250.12 362.52,250.07 362.63,249.96 362.74,249.81 362.85,249.61 362.95,249.38 363.06,249.14 363.17,248.90 363.28,248.70 363.38,248.55 363.49,248.45 363.60,248.41 363.71,248.43 363.81,248.51 363.92,248.65 364.03,248.86 364.14,249.13 364.25,249.44 364.35,249.75 364.46,250.05 364.57,250.30 364.68,250.48 364.78,250.59 364.89,250.64 365.00,250.62 365.11,250.53 365.21,250.37 365.32,250.13 365.43,249.82 365.54,249.47 365.64,249.11 365.75,248.79 365.86,248.54 365.97,248.36 366.08,248.24 366.18,248.20 366.29,248.22 366.40,248.31 366.51,248.47 366.61,248.70 366.72,248.98 366.83,249.30 366.94,249.61 367.04,249.89 367.15,250.11 367.26,250.26 367.37,250.35 367.47,250.39 367.58,250.38 367.69,250.32 367.80,250.21 367.90,250.06 368.01,249.86 368.12,249.66 368.23,249.45 368.34,249.25 368.44,249.10 368.55,248.97 368.66,248.90 368.77,248.87 368.87,248.86 368.98,248.90 369.09,248.96 369.20,249.04 369.30,249.13 369.41,249.23 369.52,249.31 369.63,249.38 369.73,249.42 369.84,249.45 369.95,249.45 370.06,249.44 370.17,249.41 370.27,249.39 370.38,249.35 370.49,249.33 370.60,249.33 370.70,249.35 370.81,249.39 370.92,249.46 371.03,249.56 371.13,249.68 371.24,249.81 371.35,249.94 371.46,250.05 371.56,250.13 371.67,250.17 371.78,250.18 371.89,250.15 372.00,250.07 372.10,249.93 372.21,249.73 372.32,249.45 372.43,249.12 372.53,248.79 372.64,248.51 372.75,248.32 372.86,248.20 372.96,248.15 373.07,248.13 373.18,248.17 373.29,248.25 373.39,248.40 373.50,248.66 373.61,249.05 373.72,249.56 373.83,250.11 373.93,250.54 374.04,250.83 374.15,250.98 374.26,251.06 374.36,251.07 374.47,251.01 374.58,250.92 374.69,250.77 374.79,250.52 374.90,250.13 375.01,249.57 375.12,248.95 375.22,248.45 375.33,248.15 375.44,248.01 375.55,247.95 375.65,247.96 375.76,248.00 375.87,248.07 375.98,248.19 376.09,248.39 376.19,248.69 376.30,249.13 376.41,249.64 376.52,250.08 376.62,250.37 376.73,250.53 376.84,250.61 376.95,250.63 377.05,250.61 377.16,250.56 377.27,250.46 377.38,250.31 377.48,250.10 377.59,249.78 377.70,249.43 377.81,249.09 377.92,248.84 378.02,248.69 378.13,248.59 378.24,248.55 378.35,248.55 378.45,248.55 378.56,248.58 378.67,248.67 378.78,248.81 378.88,249.03 378.99,249.30 379.10,249.58 379.21,249.83 379.31,250.04 379.42,250.18 379.53,250.29 379.64,250.36 379.75,250.38 379.85,250.36 379.96,250.29 380.07,250.15 380.18,249.94 380.28,249.66 380.39,249.36 380.50,249.07 380.61,248.84 380.71,248.66 380.82,248.53 380.93,248.45 381.04,248.41 381.14,248.43 381.25,248.50 381.36,248.67 381.47,248.92 381.58,249.25 381.68,249.59 381.79,249.89 381.90,250.12 382.01,250.28 382.11,250.39 382.22,250.45 382.33,250.46 382.44,250.38 382.54,250.20 382.65,249.92 382.76,249.57 382.87,249.21 382.97,248.93 383.08,248.74 383.19,248.63 383.30,248.56 383.41,248.54 383.51,248.56 383.62,248.64 383.73,248.80 383.84,249.08 383.94,249.42 384.05,249.74 384.16,249.98 384.27,250.12 384.37,250.19 384.48,250.21 384.59,250.21 384.70,250.19 384.80,250.13 384.91,250.01 385.02,249.80 385.13,249.49 385.23,249.17 385.34,248.92 385.45,248.78 385.56,248.73 385.67,248.72 385.77,248.74 385.88,248.77 385.99,248.83 386.10,248.90 386.20,249.02 386.31,249.19 386.42,249.41 386.53,249.64 386.63,249.83 386.74,249.95 386.85,250.00 386.96,250.01 387.06,249.99 387.17,249.95 387.28,249.89 387.39,249.82 387.50,249.72 387.60,249.61 387.71,249.49 387.82,249.35 387.93,249.25 388.03,249.17 388.14,249.12 388.25,249.11 388.36,249.12 388.46,249.16 388.57,249.21 388.68,249.26 388.79,249.32 388.89,249.37 389.00,249.41 389.11,249.45 389.22,249.47 389.33,249.48 389.43,249.47 389.54,249.46 389.65,249.44 389.76,249.42 389.86,249.39 389.97,249.36 390.08,249.34 390.19,249.33 390.29,249.33 390.40,249.32 390.51,249.33 390.62,249.35 390.72,249.37 390.83,249.40 390.94,249.42 391.05,249.45 391.16,249.48 391.26,249.51 391.37,249.53 391.48,249.56 391.59,249.57 391.69,249.59 391.80,249.61 391.91,249.62 392.02,249.63 392.12,249.64 392.23,249.64 392.34,249.63 392.45,249.61 392.55,249.58 392.66,249.55 392.77,249.51 392.88,249.46 392.99,249.40 393.09,249.33 393.20,249.27 393.31,249.20 393.42,249.12 393.52,249.06 393.63,249.01 393.74,248.97 393.85,248.95 393.95,248.94 394.06,248.96 394.17,248.98 394.28,249.05 394.38,249.13 394.49,249.23 394.60,249.35 394.71,249.48 394.81,249.62 394.92,249.75 395.03,249.89 395.14,250.01 395.25,250.10 395.35,250.16 395.46,250.18 395.57,250.16 395.68,250.11 395.78,250.02 395.89,249.90 396.00,249.74 396.11,249.54 396.21,249.33 396.32,249.10 396.43,248.88 396.54,248.69 396.64,248.56 396.75,248.48 396.86,248.47 396.97,248.50 397.08,248.58 397.18,248.71 397.29,248.88 397.40,249.10 397.51,249.37 397.61,249.67 397.72,249.96 397.83,250.20 397.94,250.37 398.04,250.46 398.15,250.49 398.26,250.47 398.37,250.40 398.47,250.28 398.58,250.11 398.69,249.87 398.80,249.57 398.91,249.23 399.01,248.92 399.12,248.67 399.23,248.49 399.34,248.37 399.44,248.31 399.55,248.30 399.66,248.35 399.77,248.46 399.87,248.63 399.98,248.87 400.09,249.17 400.20,249.49 400.30,249.78 400.41,250.04 400.52,250.23 400.63,250.37 400.74,250.45 400.84,250.49 400.95,250.46 401.06,250.38 401.17,250.23 401.27,250.03 401.38,249.79 401.49,249.53 401.60,249.29 401.70,249.07 401.81,248.89 401.92,248.75 402.03,248.67 402.13,248.62 402.24,248.62 402.35,248.66 402.46,248.74 402.56,248.86 402.67,248.99 402.78,249.14 402.89,249.28 403.00,249.41 403.10,249.53 403.21,249.63 403.32,249.70 403.43,249.76 403.53,249.81 403.64,249.83 403.75,249.85 403.86,249.85 403.96,249.85 404.07,249.83 404.18,249.81 404.29,249.79 404.39,249.75 404.50,249.71 404.61,249.67 404.72,249.62 404.83,249.56 404.93,249.50 405.04,249.42 405.15,249.33 405.26,249.24 405.36,249.15 405.47,249.05 405.58,248.96 405.69,248.88 405.79,248.82 405.90,248.79 406.01,248.80 406.12,248.83 406.22,248.90 406.33,248.98 406.44,249.10 406.55,249.25 406.66,249.42 406.76,249.60 406.87,249.80 406.98,250.00 407.09,250.18 407.19,250.33 407.30,250.41 407.41,250.45 407.52,250.43 407.62,250.38 407.73,250.29 407.84,250.15 407.95,249.96 408.05,249.71 408.16,249.39 408.27,249.03 408.38,248.69 408.49,248.41 408.59,248.20 408.70,248.07 408.81,248.01 408.92,248.00 409.02,248.04 409.13,248.15 409.24,248.30 409.35,248.52 409.45,248.83 409.56,249.21 409.67,249.63 409.78,250.06 409.88,250.43 409.99,250.72 410.10,250.91 410.21,251.03 410.32,251.08 410.42,251.06 410.53,250.98 410.64,250.84 410.75,250.59 410.85,250.28 410.96,249.92 411.07,249.54 411.18,249.16 411.28,248.83 411.39,248.57 411.50,248.38 411.61,248.26 411.71,248.22 411.82,248.25 411.93,248.32 412.04,248.45 412.14,248.62 412.25,248.81 412.36,249.04 412.47,249.28 412.58,249.53 412.68,249.74 412.79,249.91 412.90,250.04 413.01,250.11 413.11,250.15 413.22,250.14 413.33,250.09 413.44,249.99 413.54,249.87 413.65,249.74 413.76,249.58 413.87,249.42 413.97,249.28 414.08,249.15 414.19,249.04 414.30,248.97 414.41,248.92 414.51,248.90 414.62,248.91 414.73,248.95 414.84,249.01 414.94,249.09 415.05,249.20 415.16,249.32 415.27,249.44 415.37,249.55 415.48,249.67 415.59,249.77 415.70,249.86 415.80,249.93 415.91,249.98 416.02,250.00 416.13,250.00 416.24,249.97 416.34,249.92 416.45,249.85 416.56,249.75 416.67,249.63 416.77,249.52 416.88,249.38 416.99,249.25 417.10,249.11 417.20,248.99 417.31,248.88 417.42,248.80 417.53,248.74 417.63,248.71 417.74,248.72 417.85,248.75 417.96,248.81 418.07,248.90 418.17,249.03 418.28,249.17 418.39,249.33 418.50,249.50 418.60,249.66 418.71,249.82 418.82,249.96 418.93,250.08 419.03,250.17 419.14,250.23 419.25,250.25 419.36,250.23 419.46,250.18 419.57,250.09 419.68,249.97 419.79,249.83 419.90,249.66 420.00,249.49 420.11,249.32 420.22,249.15 420.33,248.97 420.43,248.85 420.54,248.74 420.65,248.66 420.76,248.61 420.86,248.60 420.97,248.62 421.08,248.68 421.19,248.78 421.29,248.91 421.40,249.06 421.51,249.24 421.62,249.42 421.72,249.61 421.83,249.79 421.94,249.95 422.05,250.08 422.16,250.19 422.26,250.24 422.37,250.27 422.48,250.26 422.59,250.21 422.69,250.13 422.80,250.01 422.91,249.88 423.02,249.71 423.12,249.54 423.23,249.37 423.34,249.21 423.45,249.05 423.55,248.90 423.66,248.79 423.77,248.68 423.88,248.62 423.99,248.60 424.09,248.61 424.20,248.65 424.31,248.72 424.42,248.82 424.52,248.95 424.63,249.12 424.74,249.32 424.85,249.52 424.95,249.75 425.06,249.97 425.17,250.18 425.28,250.35 425.38,250.46 425.49,250.50 425.60,250.49 425.71,250.41 425.82,250.29 425.92,250.13 426.03,249.92 426.14,249.68 426.25,249.38 426.35,249.06 426.46,248.75 426.57,248.51 426.68,248.34 426.78,248.27 426.89,248.17 427.00,248.14 427.11,248.18 427.21,248.30 427.32,248.48 427.43,248.79 427.54,249.20 427.65,249.74 427.75,250.31 427.86,250.84 427.97,251.28 428.08,251.59 428.18,251.78 428.29,251.88 428.40,251.87 428.51,251.74 428.61,251.45 428.72,251.04 428.83,250.47 428.94,249.76 429.04,248.95 429.15,248.21 429.26,247.50 429.37,246.91 429.47,246.46 429.58,246.14 429.69,245.96 429.80,246.00 429.91,246.21 430.01,246.57 430.12,247.06 430.23,247.66 430.34,248.34 430.44,249.18 430.55,249.99 430.66,250.71 430.77,251.40 430.87,251.94 430.98,252.35 431.09,252.62 431.20,252.76 431.30,252.77 431.41,252.66 431.52,252.42 431.63,252.06 431.74,251.60 431.84,251.08 431.95,250.47 432.06,249.80 432.17,249.06 432.27,248.26 432.38,247.51 432.49,246.87 432.60,246.41 432.70,246.11 432.81,245.91 432.92,245.91 433.03,246.07 433.13,246.42 433.24,246.95 433.35,247.52 433.46,248.26 433.57,249.16 433.67,250.19 433.78,251.36 433.89,252.47 434.00,253.33 434.10,253.84 434.21,254.02"/>
<polyline class="wf wh" points="434.10,253.84 434.21,254.02 434.32,253.93 434.43,253.59 434.53,253.06 434.64,252.37 434.75,251.52 434.86,250.60 434.96,249.52 435.07,248.27 435.18,246.91 435.29,245.64 435.40,244.60 435.50,244.04 435.61,243.87 435.72,244.06 435.83,244.56 435.93,245.26 436.04,246.24 436.15,247.34 436.26,248.67 436.36,249.91 436.47,251.27 436.58,252.71 436.69,254.05 436.79,255.07 436.90,255.67 437.01,255.80 437.12,255.59 437.23,255.04 437.33,254.20 437.44,253.07 437.55,251.81 437.66,250.25 437.76,248.68 437.87,246.97 437.98,245.33 438.09,243.92 438.19,242.90 438.30,242.32 438.41,242.17 438.52,242.47 438.62,243.25 438.73,244.51 438.84,246.01 438.95,247.72 439.05,249.65 439.16,251.84 439.27,253.88 439.38,255.68 439.49,257.13 439.59,258.05 439.70,258.37 439.81,258.14 439.92,257.31 440.02,255.95 440.13,254.16 440.24,251.74 440.35,249.16 440.45,246.64 440.56,244.15 440.67,242.10 440.78,240.34 440.88,239.22 440.99,238.76 441.10,238.95 441.21,239.78 441.32,241.17 441.42,243.01 441.53,245.39 441.64,247.93 441.75,250.66 441.85,253.30 441.96,255.85 442.07,257.93 442.18,259.63 442.28,260.80 442.39,261.32 442.50,261.21 442.61,260.38 442.71,258.97 442.82,256.85 442.93,254.30 443.04,251.46 443.15,248.64 443.25,245.47 443.36,242.52 443.47,240.08 443.58,238.16 443.68,236.87 443.79,236.29 443.90,236.48 444.01,237.47 444.11,239.03 444.22,241.30 444.33,244.11 444.44,246.97 444.54,250.11 444.65,253.11 444.76,255.95 444.87,258.68 444.98,260.73 445.08,262.38 445.19,263.09 445.30,263.02 445.41,262.18 445.51,260.59 445.62,258.32 445.73,255.51 445.84,252.33 445.94,248.86 446.05,245.37 446.16,242.25 446.27,239.50 446.37,237.41 446.48,235.96 446.59,235.25 446.70,235.42 446.81,236.36 446.91,238.05 447.02,240.36 447.13,243.24 447.24,246.30 447.34,249.53 447.45,252.96 447.56,256.05 447.67,258.67 447.77,260.92 447.88,262.39 447.99,263.13 448.10,263.11 448.20,262.24 448.31,260.72 448.42,258.67 448.53,256.31 448.63,253.10 448.74,250.00 448.85,246.85 448.96,243.94 449.07,241.25 449.17,239.09 449.28,237.30 449.39,236.30 449.50,236.10 449.60,236.65 449.71,237.97 449.82,239.83 449.93,242.41 450.03,245.28 450.14,248.29 450.25,251.18 450.36,254.10 450.46,256.54 450.57,258.79 450.68,260.24 450.79,261.18 450.90,261.45 451.00,260.97 451.11,259.79 451.22,257.97 451.33,255.73 451.43,253.21 451.54,250.39 451.65,247.54 451.76,245.01 451.86,242.58 451.97,240.66 452.08,239.44 452.19,238.75 452.29,238.72 452.40,239.33 452.51,240.45 452.62,241.98 452.73,244.01 452.83,246.11 452.94,248.44 453.05,250.65 453.16,252.87 453.26,254.93 453.37,256.52 453.48,257.80 453.59,258.53 453.69,258.69 453.80,258.30 453.91,257.36 454.02,256.00 454.12,254.46 454.23,252.59 454.34,250.64 454.45,248.61 454.56,246.82 454.66,245.09 454.77,243.68 454.88,242.60 454.99,242.00 455.09,241.82 455.20,241.93 455.31,242.46 455.42,243.41 455.52,244.63 455.63,246.19 455.74,247.83 455.85,249.70 455.95,251.45 456.06,253.10 456.17,254.66 456.28,255.81 456.38,256.60 456.49,256.90 456.60,256.75 456.71,256.12 456.82,255.12 456.92,253.79 457.03,252.25 457.14,250.60 457.25,248.78 457.35,247.05 457.46,245.44 457.57,244.10 457.68,243.06 457.78,242.43 457.89,242.17 458.00,242.25 458.11,242.70 458.21,243.50 458.32,244.56 458.43,246.04 458.54,247.74 458.65,249.42 458.75,251.30 458.86,253.05 458.97,254.56 459.08,255.92 459.18,256.93 459.29,257.66 459.40,257.99 459.51,257.90 459.61,257.34 459.72,256.46 459.83,255.34 459.94,253.68 460.04,251.84 460.15,249.72 460.26,247.54 460.37,245.36 460.48,243.64 460.58,241.92 460.69,240.66 460.80,239.85 460.91,239.50 461.01,239.77 461.12,240.55 461.23,241.84 461.34,243.74 461.44,245.76 461.55,248.16 461.66,250.68 461.77,253.08 461.87,255.26 461.98,257.23 462.09,258.68 462.20,259.59 462.31,259.97 462.41,259.76 462.52,258.97 462.63,257.59 462.74,255.86 462.84,253.51 462.95,250.99 463.06,248.40 463.17,245.95 463.27,243.54 463.38,241.51 463.49,239.88 463.60,238.83 463.70,238.37 463.81,238.55 463.92,239.31 464.03,240.62 464.14,242.30 464.24,244.48 464.35,246.96 464.46,249.38 464.57,251.94 464.67,254.29 464.78,256.35 464.89,258.15 465.00,259.33 465.10,259.97 465.21,260.02 465.32,259.50 465.43,258.41 465.53,256.80 465.64,254.80 465.75,252.38 465.86,249.94 465.96,247.48 466.07,244.97 466.18,242.90 466.29,241.16 466.40,239.94 466.50,239.31 466.61,239.25 466.72,239.72 466.83,240.66 466.93,242.02 467.04,243.77 467.15,245.82 467.26,247.74 467.36,250.06 467.47,252.01 467.58,253.94 467.69,255.83 467.79,257.35 467.90,258.55 468.01,259.23 468.12,259.49 468.23,259.25 468.33,258.56 468.44,257.47 468.55,255.95 468.66,254.11 468.76,252.34 468.87,250.25 468.98,248.06 469.09,245.82 469.19,243.98 469.30,242.28 469.41,241.00 469.52,240.08 469.62,239.57 469.73,239.58 469.84,240.29 469.95,241.64 470.06,243.44 470.16,245.71 470.27,248.10 470.38,250.63 470.49,252.83 470.59,254.87 470.70,256.64 470.81,257.94 470.92,258.55 471.02,258.49 471.13,257.84 471.24,256.65 471.35,254.80 471.45,252.82 471.56,250.57 471.67,248.19 471.78,245.98 471.89,244.18 471.99,242.53 472.10,241.57 472.21,241.02 472.32,241.04 472.42,241.54 472.53,242.47 472.64,243.77 472.75,245.32 472.85,247.10 472.96,249.01 473.07,250.94 473.18,252.57 473.28,254.14 473.39,255.44 473.50,256.41 473.61,256.93 473.72,256.98 473.82,256.63 473.93,255.88 474.04,254.74 474.15,253.24 474.25,251.66 474.36,250.06 474.47,248.36 474.58,246.75 474.68,245.38 474.79,244.27 474.90,243.41 475.01,242.96 475.11,242.86 475.22,243.10 475.33,243.77 475.44,244.85 475.54,246.18 475.65,247.57 475.76,249.22 475.87,250.97 475.98,252.61 476.08,254.05 476.19,255.07 476.30,255.70 476.41,255.82 476.51,255.50 476.62,254.67 476.73,253.56 476.84,252.17 476.94,250.49 477.05,248.77 477.16,247.26 477.27,245.74 477.37,244.61 477.48,243.82 477.59,243.38 477.70,243.42 477.81,243.89 477.91,244.70 478.02,245.77 478.13,246.84 478.24,248.16 478.34,249.51 478.45,250.77 478.56,251.89 478.67,252.85 478.77,253.56 478.88,254.01 478.99,254.17 479.10,254.05 479.20,253.66 479.31,253.07 479.42,252.25 479.53,251.34 479.64,250.38 479.74,249.46 479.85,248.55 479.96,247.72 480.07,247.09 480.17,246.53 480.28,246.20 480.39,246.06 480.50,246.14 480.60,246.43 480.71,246.86 480.82,247.49 480.93,248.22 481.03,248.96 481.14,249.52 481.25,249.99 481.36,250.45 481.47,250.93 481.57,251.33 481.68,251.60 481.79,251.73 481.90,251.70 482.00,251.53 482.11,251.23 482.22,250.80 482.33,250.34 482.43,249.83 482.54,249.42 482.65,249.08"/>
<polyline class="wf wl" points="482.54,249.42 482.65,249.08 482.76,248.84 482.86,248.63 482.97,248.44 483.08,248.25 483.19,248.14 483.29,248.11 483.40,248.22 483.51,248.50 483.62,248.88 483.73,249.31 483.83,249.65 483.94,249.91 484.05,250.07 484.16,250.10 484.26,250.18 484.37,250.22 484.48,250.20 484.59,250.09 484.69,249.87 484.80,249.58 484.91,249.22 485.02,248.85 485.12,248.57 485.23,248.37 485.34,248.30 485.45,248.31 485.56,248.43 485.66,248.58 485.77,248.78 485.88,249.03 485.99,249.33 486.09,249.65 486.20,249.95 486.31,250.26 486.42,250.52 486.52,250.69 486.63,250.81 486.74,250.83 486.85,250.77 486.95,250.64 487.06,250.44 487.17,250.18 487.28,249.89 487.39,249.60 487.49,249.28 487.60,248.97 487.71,248.68 487.82,248.44 487.92,248.29 488.03,248.21 488.14,248.21 488.25,248.28 488.35,248.44 488.46,248.64 488.57,248.87 488.68,249.12 488.78,249.37 488.89,249.60 489.00,249.76 489.11,249.87 489.22,249.91 489.32,249.90 489.43,249.83 489.54,249.72 489.65,249.59 489.75,249.44 489.86,249.31 489.97,249.19 490.08,249.08 490.18,248.99 490.29,248.94 490.40,248.94 490.51,249.00 490.61,249.10 490.72,249.25 490.83,249.43 490.94,249.66 491.05,249.89 491.15,250.15 491.26,250.39 491.37,250.62 491.48,250.78 491.58,250.81 491.69,250.73 491.80,250.53 491.91,250.24 492.01,249.88 492.12,249.48 492.23,249.05 492.34,248.57 492.44,248.11 492.55,247.68 492.66,247.34 492.77,247.07 492.87,246.99 492.98,247.08 493.09,247.38 493.20,247.85 493.31,248.43 493.41,249.06 493.52,249.76 493.63,250.43 493.74,251.06 493.84,251.58 493.95,252.05 494.06,252.38 494.17,252.52 494.27,252.46 494.38,252.22 494.49,251.79 494.60,251.17 494.70,250.40 494.81,249.59 494.92,248.78 495.03,248.02 495.14,247.30 495.24,246.74 495.35,246.30 495.46,246.07 495.57,246.07 495.67,246.29 495.78,246.70 495.89,247.28 496.00,247.97 496.10,248.76 496.21,249.58 496.32,250.36 496.43,251.12 496.53,251.74 496.64,252.19 496.75,252.50 496.86,252.62 496.97,252.54 497.07,252.26 497.18,251.80 497.29,251.19 497.40,250.46 497.50,249.67 497.61,248.93 497.72,248.16 497.83,247.46 497.93,246.93 498.04,246.56 498.15,246.37 498.26,246.41"/>
<polyline class="wf wh" points="498.15,246.37 498.26,246.41 498.36,246.71 498.47,247.27 498.58,248.05 498.69,249.04 498.80,249.98 498.90,250.79 499.01,251.63 499.12,252.27 499.23,252.71 499.33,252.87 499.44,252.73 499.55,252.29 499.66,251.58 499.76,250.69 499.87,249.64 499.98,248.60 500.09,247.60 500.19,246.69 500.30,245.95 500.41,245.51 500.52,245.35 500.63,245.49 500.73,245.95 500.84,246.68 500.95,247.72 501.06,248.86 501.16,250.10 501.27,251.35 501.38,252.40 501.49,253.22 501.59,253.85 501.70,254.12 501.81,254.04 501.92,253.62 502.02,252.80 502.13,251.73 502.24,250.39 502.35,249.00 502.45,247.68 502.56,246.42 502.67,245.44 502.78,244.75 502.89,244.41 502.99,244.47 503.10,244.85 503.21,245.54 503.32,246.48 503.42,247.57 503.53,248.90 503.64,250.15 503.75,251.43 503.85,252.60 503.96,253.56 504.07,254.21 504.18,254.64 504.28,254.72 504.39,254.44 504.50,253.87 504.61,252.93 504.72,251.76 504.82,250.48 504.93,249.07 505.04,247.63 505.15,246.39 505.25,245.33 505.36,244.46 505.47,243.87 505.58,243.61 505.68,243.73 505.79,244.25 505.90,245.16 506.01,246.47 506.11,248.04 506.22,249.85 506.33,251.63 506.44,253.29 506.55,254.72 506.65,255.83 506.76,256.55 506.87,256.73 506.98,256.41 507.08,255.56 507.19,254.23 507.30,252.44 507.41,250.48 507.51,248.20 507.62,246.11 507.73,244.18 507.84,242.57 507.94,241.38 508.05,240.81 508.16,240.94 508.27,241.65 508.38,242.86 508.48,244.62 508.59,246.74 508.70,249.04 508.81,251.43 508.91,253.61 509.02,255.61 509.13,257.22 509.24,258.22 509.34,258.57 509.45,258.26 509.56,257.26 509.67,255.76 509.77,253.80 509.88,251.56 509.99,249.24 510.10,246.65 510.20,244.29 510.31,242.39 510.42,240.84 510.53,240.01 510.64,239.84 510.74,240.29 510.85,241.43 510.96,243.09 511.07,245.21 511.17,247.62 511.28,250.34 511.39,252.57 511.50,254.79 511.60,256.73 511.71,258.20 511.82,259.07 511.93,259.32 512.03,258.89 512.14,257.78 512.25,256.20 512.36,254.02 512.47,251.61 512.57,249.03 512.68,246.28 512.79,243.81 512.90,241.98 513.00,240.44 513.11,239.51 513.22,239.28 513.33,239.78 513.43,240.99 513.54,242.66 513.65,244.76 513.76,247.08 513.86,249.55 513.97,251.85 514.08,254.20 514.19,256.06 514.30,257.51 514.40,258.41 514.51,258.74 514.62,258.39 514.73,257.44 514.83,256.00 514.94,254.14 515.05,252.11 515.16,249.96 515.26,247.78 515.37,245.69 515.48,243.92 515.59,242.49 515.69,241.50 515.80,241.01 515.91,241.04 516.02,241.54 516.13,242.54 516.23,243.88 516.34,245.72 516.45,247.76 516.56,249.88 516.66,251.78 516.77,253.65 516.88,255.31 516.99,256.60 517.09,257.50 517.20,257.89 517.31,257.77 517.42,257.06 517.52,255.94 517.63,254.43 517.74,252.70 517.85,250.65 517.96,248.60 518.06,246.60 518.17,244.80 518.28,243.18 518.39,241.95 518.49,241.19 518.60,240.97 518.71,241.32 518.82,242.19 518.92,243.48 519.03,245.11 519.14,246.99 519.25,248.93 519.35,251.10 519.46,253.13 519.57,254.71 519.68,256.05 519.78,256.95 519.89,257.39 520.00,257.25 520.11,256.59 520.22,255.53 520.32,254.09 520.43,252.31 520.54,250.26 520.65,248.33 520.75,246.40 520.86,244.67 520.97,243.32 521.08,242.42 521.18,242.06 521.29,242.18 521.40,242.82 521.51,243.81 521.61,245.29 521.72,247.02 521.83,248.85 521.94,250.82 522.05,252.59 522.15,254.16 522.26,255.41 522.37,256.27 522.48,256.60 522.58,256.39 522.69,255.67 522.80,254.45 522.91,252.91 523.01,251.12 523.12,249.21 523.23,247.27 523.34,245.52 523.44,244.04 523.55,243.03 523.66,242.42 523.77,242.34 523.88,242.78 523.98,243.69 524.09,245.01 524.20,246.57 524.31,248.28 524.41,250.11 524.52,251.91 524.63,253.53 524.74,254.92 524.84,255.91 524.95,256.51 525.06,256.64 525.17,256.33 525.27,255.49 525.38,254.25 525.49,252.72 525.60,251.05 525.71,249.20 525.81,247.28 525.92,245.66 526.03,244.25 526.14,243.12 526.24,242.43 526.35,242.17 526.46,242.35 526.57,242.97 526.67,244.02 526.78,245.40 526.89,246.95 527.00,248.51 527.10,250.28 527.21,251.93 527.32,253.41 527.43,254.65 527.54,255.59 527.64,256.17 527.75,256.35 527.86,256.15 527.97,255.59 528.07,254.70 528.18,253.50 528.29,252.12 528.40,250.57 528.50,248.99 528.61,247.48 528.72,246.02 528.83,244.77 528.93,243.84 529.04,243.22 529.15,242.92 529.26,242.95 529.36,243.30 529.47,243.96 529.58,245.00 529.69,246.27 529.80,247.86 529.90,249.50 530.01,251.11 530.12,252.64 530.23,254.10 530.33,255.28 530.44,256.12 530.55,256.66 530.66,256.83 530.76,256.56 530.87,255.83 530.98,254.75 531.09,253.27 531.19,251.62 531.30,249.83 531.41,247.98 531.52,246.12 531.63,244.50 531.73,243.07 531.84,241.99 531.95,241.35 532.06,241.10 532.16,241.35 532.27,242.05 532.38,243.16 532.49,244.65 532.59,246.42 532.70,248.39 532.81,250.53 532.92,252.52 533.02,254.44 533.13,256.13 533.24,257.39 533.35,258.15 533.46,258.50 533.56,258.33 533.67,257.66 533.78,256.48 533.89,254.75 533.99,252.76 534.10,250.59 534.21,248.37 534.32,246.19 534.42,244.20 534.53,242.35 534.64,240.96 534.75,240.03 534.85,239.65 534.96,239.85 535.07,240.53 535.18,241.77 535.29,243.57 535.39,245.51 535.50,247.63 535.61,250.06 535.72,252.27 535.82,254.46 535.93,256.15 536.04,257.57 536.15,258.53 536.25,258.93 536.36,258.78 536.47,258.20 536.58,257.08 536.68,255.58 536.79,253.69 536.90,251.45 537.01,249.38 537.11,247.23 537.22,245.12 537.33,243.19 537.44,241.78 537.55,240.78 537.65,240.37 537.76,240.42 537.87,240.97 537.98,242.03 538.08,243.47 538.19,245.23 538.30,247.34 538.41,249.50 538.51,251.64 538.62,253.69 538.73,255.47 538.84,256.97 538.94,258.00 539.05,258.51 539.16,258.55 539.27,258.13 539.38,257.26 539.48,255.92 539.59,254.10 539.70,252.07 539.81,249.81 539.91,247.70 540.02,245.49 540.13,243.57 540.24,242.05 540.34,240.90 540.45,240.21 540.56,240.04 540.67,240.36 540.77,241.17 540.88,242.48 540.99,244.15 541.10,246.26 541.21,248.52 541.31,250.70 541.42,252.93 541.53,254.83 541.64,256.42 541.74,257.65 541.85,258.43 541.96,258.59 542.07,258.18 542.17,257.29 542.28,255.87 542.39,254.04 542.50,251.96 542.60,249.73 542.71,247.57 542.82,245.64 542.93,243.79 543.04,242.27 543.14,241.10 543.25,240.51 543.36,240.45 543.47,240.94 543.57,241.88 543.68,243.30 543.79,245.14 543.90,247.13 544.00,249.15 544.11,251.27 544.22,253.34 544.33,255.08 544.43,256.46 544.54,257.48 544.65,257.97 544.76,257.99 544.87,257.51 544.97,256.60 545.08,255.26 545.19,253.51 545.30,251.53 545.40,249.50 545.51,247.41 545.62,245.50 545.73,243.97 545.83,242.63 545.94,241.76 546.05,241.35 546.16,241.46 546.26,242.10 546.37,243.09 546.48,244.47 546.59,246.06 546.69,247.77 546.80,249.43 546.91,251.21 547.02,252.74 547.13,254.06 547.23,255.08 547.34,255.75 547.45,256.04 547.56,255.97 547.66,255.49 547.77,254.67 547.88,253.58 547.99,252.30 548.09,250.89 548.20,249.43 548.31,248.02 548.42,246.68 548.52,245.68 548.63,244.93 548.74,244.42 548.85,244.20 548.96,244.30 549.06,244.66 549.17,245.30 549.28,246.20 549.39,247.21 549.49,248.36 549.60,249.51 549.71,250.58 549.82,251.61 549.92,252.43 550.03,253.01 550.14,253.41 550.25,253.52 550.35,253.42 550.46,253.09 550.57,252.56 550.68,251.90 550.79,251.09 550.89,250.20 551.00,249.38 551.11,248.57"/>
<polyline class="wf wl" points="551.00,249.38 551.11,248.57 551.22,247.90 551.32,247.36 551.43,246.92 551.54,246.65 551.65,246.59 551.75,246.71 551.86,246.94 551.97,247.32 552.08,247.81 552.18,248.37 552.29,248.96 552.40,249.57 552.51,250.15 552.62,250.65 552.72,251.05 552.83,251.33 552.94,251.50 553.05,251.53 553.15,251.44 553.26,251.24 553.37,250.95 553.48,250.59 553.58,250.16 553.69,249.72 553.80,249.25 553.91,248.88 554.01,248.57 554.12,248.31 554.23,248.13 554.34,248.03 554.45,248.02 554.55,248.08 554.66,248.17 554.77,248.37 554.88,248.67 554.98,249.06 555.09,249.49 555.20,249.97 555.31,250.40 555.41,250.74 555.52,251.00 555.63,251.16 555.74,251.16 555.84,250.99 555.95,250.67 556.06,250.22 556.17,249.66 556.27,249.09 556.38,248.41 556.49,247.83 556.60,247.34 556.71,247.01 556.81,246.88 556.92,246.94 557.03,247.17 557.14,247.53 557.24,248.01 557.35,248.61 557.46,249.22 557.57,249.87 557.67,250.57 557.78,251.26 557.89,251.87 558.00,252.34 558.10,252.67 558.21,252.81 558.32,252.77 558.43,252.52 558.54,252.10"/>
<polyline class="wf wh" points="558.43,252.52 558.54,252.10 558.64,251.50 558.75,250.81 558.86,249.98 558.97,249.16 559.07,248.29 559.18,247.43 559.29,246.70 559.40,246.05 559.50,245.57 559.61,245.30 559.72,245.27 559.83,245.49 559.93,245.98 560.04,246.71 560.15,247.53 560.26,248.40 560.37,249.42 560.47,250.45 560.58,251.44 560.69,252.42 560.80,253.30 560.90,254.01 561.01,254.56 561.12,254.80 561.23,254.74 561.33,254.35 561.44,253.67 561.55,252.73 561.66,251.62 561.76,250.34 561.87,249.05 561.98,247.80 562.09,246.42 562.20,245.24 562.30,244.19 562.41,243.39 562.52,242.95 562.63,242.95 562.73,243.44 562.84,244.26 562.95,245.38 563.06,246.70 563.16,248.31 563.27,249.89 563.38,251.36 563.49,252.79 563.59,253.90 563.70,254.79 563.81,255.28 563.92,255.40 564.02,255.11 564.13,254.51 564.24,253.56 564.35,252.35 564.46,250.98 564.56,249.61 564.67,248.18 564.78,246.89 564.89,245.73 564.99,244.89 565.10,244.27 565.21,243.98 565.32,244.03 565.42,244.47 565.53,245.20 565.64,246.19 565.75,247.44 565.85,248.71 565.96,250.10 566.07,251.33 566.18,252.42 566.29,253.33 566.39,253.99 566.50,254.33 566.61,254.29 566.72,253.92 566.82,253.21 566.93,252.32 567.04,251.23 567.15,250.09 567.25,248.97 567.36,247.83 567.47,246.82 567.58,245.95 567.68,245.31 567.79,244.94 567.90,244.86 568.01,245.04 568.12,245.54 568.22,246.22 568.33,247.05 568.44,247.92 568.55,248.82 568.65,249.82 568.76,250.85 568.87,251.90 568.98,252.88 569.08,253.57 569.19,253.93 569.30,253.95 569.41,253.69 569.51,253.23 569.62,252.60 569.73,251.77 569.84,250.89 569.95,250.01 570.05,249.01 570.16,247.99 570.27,247.04 570.38,246.25 570.48,245.68 570.59,245.39"/>
<polyline class="wf wl" points="570.48,245.68 570.59,245.39 570.70,245.38 570.81,245.61 570.91,246.01 571.02,246.64 571.13,247.37 571.24,248.13 571.34,248.92 571.45,249.79 571.56,250.59 571.67,251.29 571.78,251.91 571.88,252.38 571.99,252.65 572.10,252.73 572.21,252.59 572.31,252.30 572.42,251.89 572.53,251.38 572.64,250.73 572.74,250.02 572.85,249.33 572.96,248.71 573.07,248.11 573.17,247.60 573.28,247.22 573.39,246.97 573.50,246.88 573.60,246.97 573.71,247.16 573.82,247.46 573.93,247.87 574.04,248.40 574.14,248.93 574.25,249.49 574.36,250.00 574.47,250.48 574.57,250.86 574.68,251.13 574.79,251.31 574.90,251.40 575.00,251.36 575.11,251.19 575.22,250.94 575.33,250.57 575.43,250.17 575.54,249.71 575.65,249.28 575.76,248.85 575.87,248.47 575.97,248.17 576.08,247.95 576.19,247.86 576.30,247.86 576.40,247.95 576.51,248.13 576.62,248.42 576.73,248.77 576.83,249.16 576.94,249.57 577.05,249.94 577.16,250.29 577.26,250.56 577.37,250.75 577.48,250.85 577.59,250.86 577.70,250.76 577.80,250.59 577.91,250.34 578.02,250.04 578.13,249.69 578.23,249.34 578.34,249.01 578.45,248.68 578.56,248.44 578.66,248.26 578.77,248.16 578.88,248.16 578.99,248.26 579.09,248.41 579.20,248.61 579.31,248.86 579.42,249.14 579.53,249.43 579.63,249.75 579.74,250.03 579.85,250.25 579.96,250.44 580.06,250.54 580.17,250.57 580.28,250.55 580.39,250.48 580.49,250.36 580.60,250.19 580.71,249.98 580.82,249.73 580.92,249.47 581.03,249.17 581.14,248.88 581.25,248.63 581.36,248.41 581.46,248.25 581.57,248.14 581.68,248.11 581.79,248.14 581.89,248.22 582.00,248.37 582.11,248.58 582.22,248.83 582.32,249.15 582.43,249.46 582.54,249.81 582.65,250.17 582.75,250.51 582.86,250.81 582.97,251.02 583.08,251.19 583.18,251.28 583.29,251.28 583.40,251.17 583.51,250.97 583.62,250.69 583.72,250.33 583.83,249.91 583.94,249.48 584.05,249.02 584.15,248.60 584.26,248.17 584.37,247.83 584.48,247.59 584.58,247.44 584.69,247.40 584.80,247.47 584.91,247.64 585.01,247.87 585.12,248.18 585.23,248.59 585.34,248.97 585.45,249.37 585.55,249.76 585.66,250.20 585.77,250.63 585.88,251.00 585.98,251.33 586.09,251.59 586.20,251.73 586.31,251.77 586.41,251.63 586.52,251.37 586.63,250.92 586.74,250.37 586.84,249.74 586.95,249.14 587.06,248.60 587.17,248.09 587.28,247.69 587.38,247.39 587.49,247.20 587.60,247.12 587.71,247.14 587.81,247.29 587.92,247.52 588.03,247.86 588.14,248.33 588.24,248.82 588.35,249.37 588.46,249.90 588.57,250.44 588.67,250.89 588.78,251.27 588.89,251.50 589.00,251.62 589.11,251.59 589.21,251.42 589.32,251.07 589.43,250.61 589.54,250.07 589.64,249.47 589.75,248.89 589.86,248.32 589.97,247.77 590.07,247.34 590.18,247.02 590.29,246.87 590.40,246.90 590.50,247.11 590.61,247.49 590.72,248.06 590.83,248.72 590.93,249.44 591.04,250.18 591.15,250.86 591.26,251.41 591.37,251.88 591.47,252.19 591.58,252.36 591.69,252.37 591.80,252.18 591.90,251.77 592.01,251.13 592.12,250.37 592.23,249.60 592.33,248.93 592.44,248.32 592.55,247.74 592.66,247.27 592.76,246.88 592.87,246.61 592.98,246.49 593.09,246.57 593.20,246.93 593.30,247.55 593.41,248.33 593.52,249.08 593.63,249.72 593.73,250.27 593.84,250.76 593.95,251.15 594.06,251.51 594.16,251.75 594.27,251.87 594.38,251.80 594.49,251.48 594.59,250.91 594.70,250.19 594.81,249.49 594.92,248.95 595.03,248.55 595.13,248.25 595.24,248.01 595.35,247.84 595.46,247.74 595.56,247.74 595.67,247.86 595.78,248.13 595.89,248.58 595.99,249.13 596.10,249.69 596.21,250.16 596.32,250.48 596.42,250.63 596.53,250.71 596.64,250.73 596.75,250.72 596.86,250.66 596.96,250.53 597.07,250.34 597.18,250.06 597.29,249.74 597.39,249.39 597.50,249.09 597.61,248.84 597.72,248.67 597.82,248.57 597.93,248.52 598.04,248.52 598.15,248.56 598.25,248.64 598.36,248.78 598.47,248.97 598.58,249.19 598.69,249.42 598.79,249.63 598.90,249.79 599.01,249.91 599.12,249.97 599.22,250.00 599.33,249.98 599.44,249.92 599.55,249.83 599.65,249.71 599.76,249.57 599.87,249.44 599.98,249.31 600.08,249.22 600.19,249.15 600.30,249.13 600.41,249.12 600.51,249.15 600.62,249.20 600.73,249.28 600.84,249.37 600.95,249.49 601.05,249.59 601.16,249.67 601.27,249.73 601.38,249.76 601.48,249.75 601.59,249.72 601.70,249.65 601.81,249.56 601.91,249.45 602.02,249.33 602.13,249.22 602.24,249.12 602.34,249.05 602.45,249.00 602.56,248.98 602.67,248.99 602.78,249.02 602.88,249.08 602.99,249.14 603.10,249.24 603.21,249.34 603.31,249.44 603.42,249.54 603.53,249.64 603.64,249.71 603.74,249.79 603.85,249.83 603.96,249.88 604.07,249.92 604.17,249.94 604.28,249.94 604.39,249.94 604.50,249.92 604.61,249.87 604.71,249.81 604.82,249.73 604.93,249.62 605.04,249.49 605.14,249.34 605.25,249.19 605.36,249.04 605.47,248.90 605.57,248.78 605.68,248.70 605.79,248.65 605.90,248.64 606.00,248.65 606.11,248.71 606.22,248.82 606.33,248.97 606.44,249.17 606.54,249.41 606.65,249.66 606.76,249.88 606.87,250.06 606.97,250.19 607.08,250.26 607.19,250.29 607.30,250.29 607.40,250.25 607.51,250.17 607.62,250.04 607.73,249.85 607.83,249.60 607.94,249.32 608.05,249.05 608.16,248.83 608.27,248.70 608.37,248.63 608.48,248.59 608.59,248.58 608.70,248.59 608.80,248.65 608.91,248.75 609.02,248.93 609.13,249.19 609.23,249.52 609.34,249.84 609.45,250.10 609.56,250.28 609.66,250.37 609.77,250.42 609.88,250.43 609.99,250.40 610.09,250.33 610.20,250.19 610.31,249.95 610.42,249.61 610.53,249.22 610.63,248.86 610.74,248.60 610.85,248.43 610.96,248.34 611.06,248.32 611.17,248.33 611.28,248.40 611.39,248.52 611.49,248.74 611.60,249.06 611.71,249.46 611.82,249.87 611.92,250.19 612.03,250.40 612.14,250.52 612.25,250.56 612.36,250.54 612.46,250.46 612.57,250.29 612.68,250.03 612.79,249.69 612.89,249.30 613.00,248.94 613.11,248.67 613.22,248.49 613.32,248.41 613.43,248.41 613.54,248.48 613.65,248.62 613.75,248.83 613.86,249.13 613.97,249.46 614.08,249.79 614.19,250.06 614.29,250.25 614.40,250.36 614.51,250.40 614.62,250.38 614.72,250.29 614.83,250.13 614.94,249.92 615.05,249.65 615.15,249.35 615.26,249.06 615.37,248.84 615.48,248.68 615.58,248.60 615.69,248.58 615.80,248.61 615.91,248.70 616.02,248.85 616.12,249.03 616.23,249.25 616.34,249.48 616.45,249.67 616.55,249.82 616.66,249.91 616.77,249.94 616.88,249.93 616.98,249.86 617.09,249.75 617.20,249.60 617.31,249.44 617.41,249.28 617.52,249.15 617.63,249.07 617.74,249.03 617.84,249.04 617.95,249.09 618.06,249.19 618.17,249.33 618.28,249.49 618.38,249.65 618.49,249.79 618.60,249.89 618.71,249.95 618.81,249.98 618.92,249.97 619.03,249.93 619.14,249.83 619.24,249.69 619.35,249.51 619.46,249.33 619.57,249.17 619.67,249.04 619.78,248.97 619.89,248.92 620.00,248.92 620.11,248.95 620.21,249.01 620.32,249.10 620.43,249.22 620.54,249.36 620.64,249.51 620.75,249.63 620.86,249.71 620.97,249.76 621.07,249.77 621.18,249.74 621.29,249.68 621.40,249.57 621.50,249.44 621.61,249.30 621.72,249.18 621.83,249.08 621.94,249.02 622.04,249.01 622.15,249.04 622.26,249.11 622.37,249.22 622.47,249.38 622.58,249.55 622.69,249.74 622.80,249.90 622.90,250.02 623.01,250.10 623.12,250.13 623.23,250.12 623.33,250.06 623.44,249.97 623.55,249.83 623.66,249.64 623.77,249.41 623.87,249.19 623.98,248.98 624.09,248.83 624.20,248.73 624.30,248.68 624.41,248.66 624.52,248.68 624.63,248.73 624.73,248.80 624.84,248.92 624.95,249.06 625.06,249.23 625.16,249.41 625.27,249.58 625.38,249.73 625.49,249.84 625.60,249.92 625.70,249.96 625.81,249.99 625.92,250.00 626.03,250.00 626.13,249.99 626.24,249.98 626.35,249.97 626.46,249.96 626.56,249.95 626.67,249.93 626.78,249.90 626.89,249.85 626.99,249.77 627.10,249.66 627.21,249.51 627.32,249.31 627.42,249.08 627.53,248.86 627.64,248.64 627.75,248.47 627.86,248.34 627.96,248.26 628.07,248.22 628.18,248.24 628.29,248.30 628.39,248.43 628.50,248.66 628.61,248.99 628.72,249.40 628.82,249.85 628.93,250.23 629.04,250.53 629.15,250.71 629.25,250.81 629.36,250.85 629.47,250.83 629.58,250.76 629.69,250.63 629.79,250.43 629.90,250.12 630.01,249.71 630.12,249.27 630.22,248.86 630.33,248.54 630.44,248.32 630.55,248.20 630.65,248.14 630.76,248.14 630.87,248.20 630.98,248.31 631.08,248.48 631.19,248.71 631.30,249.01"/>
<line x1="426.78" y1="182.3" x2="426.78" y2="317.4" class="rd"/>
<line x1="469.84" y1="182.3" x2="469.84" y2="317.4" class="rd"/>
<rect x="362.2" y="182.3" width="269.10" height="135.10" class="ax"/>
<line x1="416.02" y1="317.4" x2="416.02" y2="314.7" class="tk"/>
<line x1="416.02" y1="182.3" x2="416.02" y2="185.0" class="tk"/>
<line x1="469.84" y1="317.4" x2="469.84" y2="314.7" class="tk"/>
<line x1="469.84" y1="182.3" x2="469.84" y2="185.0" class="tk"/>
<line x1="523.66" y1="317.4" x2="523.66" y2="314.7" class="tk"/>
<line x1="523.66" y1="182.3" x2="523.66" y2="185.0" class="tk"/>
<line x1="577.48" y1="317.4" x2="577.48" y2="314.7" class="tk"/>
<line x1="577.48" y1="182.3" x2="577.48" y2="185.0" class="tk"/>
<line x1="362.2" y1="300.51" x2="364.9" y2="300.51" class="tk"/>
<line x1="631.3" y1="300.51" x2="628.5999999999999" y2="300.51" class="tk"/>
<line x1="362.2" y1="283.62" x2="364.9" y2="283.62" class="tk"/>
<line x1="631.3" y1="283.62" x2="628.5999999999999" y2="283.62" class="tk"/>
<line x1="362.2" y1="266.74" x2="364.9" y2="266.74" class="tk"/>
<line x1="631.3" y1="266.74" x2="628.5999999999999" y2="266.74" class="tk"/>
<line x1="362.2" y1="249.85" x2="364.9" y2="249.85" class="tk"/>
<line x1="631.3" y1="249.85" x2="628.5999999999999" y2="249.85" class="tk"/>
<line x1="362.2" y1="232.96" x2="364.9" y2="232.96" class="tk"/>
<line x1="631.3" y1="232.96" x2="628.5999999999999" y2="232.96" class="tk"/>
<line x1="362.2" y1="216.07" x2="364.9" y2="216.07" class="tk"/>
<line x1="631.3" y1="216.07" x2="628.5999999999999" y2="216.07" class="tk"/>
<line x1="362.2" y1="199.19" x2="364.9" y2="199.19" class="tk"/>
<line x1="631.3" y1="199.19" x2="628.5999999999999" y2="199.19" class="tk"/>
<text x="362.70" y="327.90" class="tl" text-anchor="middle">60</text>
<text x="416.52" y="327.90" class="tl" text-anchor="middle">80</text>
<text x="470.34" y="327.90" class="tl" text-anchor="middle">100</text>
<text x="524.16" y="327.90" class="tl" text-anchor="middle">120</text>
<text x="577.98" y="327.90" class="tl" text-anchor="middle">140</text>
<text x="631.80" y="327.90" class="tl" text-anchor="middle">160</text>
<text x="359.10" y="320.70" class="tl" text-anchor="end">–0.8</text>
<text x="359.10" y="303.81" class="tl" text-anchor="end">–0.6</text>
<text x="359.10" y="286.93" class="tl" text-anchor="end">–0.4</text>
<text x="359.10" y="270.04" class="tl" text-anchor="end">–0.2</text>
<text x="359.10" y="253.15" class="tl" text-anchor="end">0</text>
<text x="359.10" y="236.26" class="tl" text-anchor="end">0.2</text>
<text x="359.10" y="219.38" class="tl" text-anchor="end">0.4</text>
<text x="359.10" y="202.49" class="tl" text-anchor="end">0.6</text>
<text x="359.10" y="185.60" class="tl" text-anchor="end">0.8</text>
<text x="496.45" y="341.40" class="al" text-anchor="middle">Time [μs]</text>
<text transform="translate(333.50,248.95) rotate(-90)" class="al" text-anchor="middle">Laser Signal [V]</text>
<text x="369.30" y="195.90" class="pl">(d)</text>
</svg></body></html>
